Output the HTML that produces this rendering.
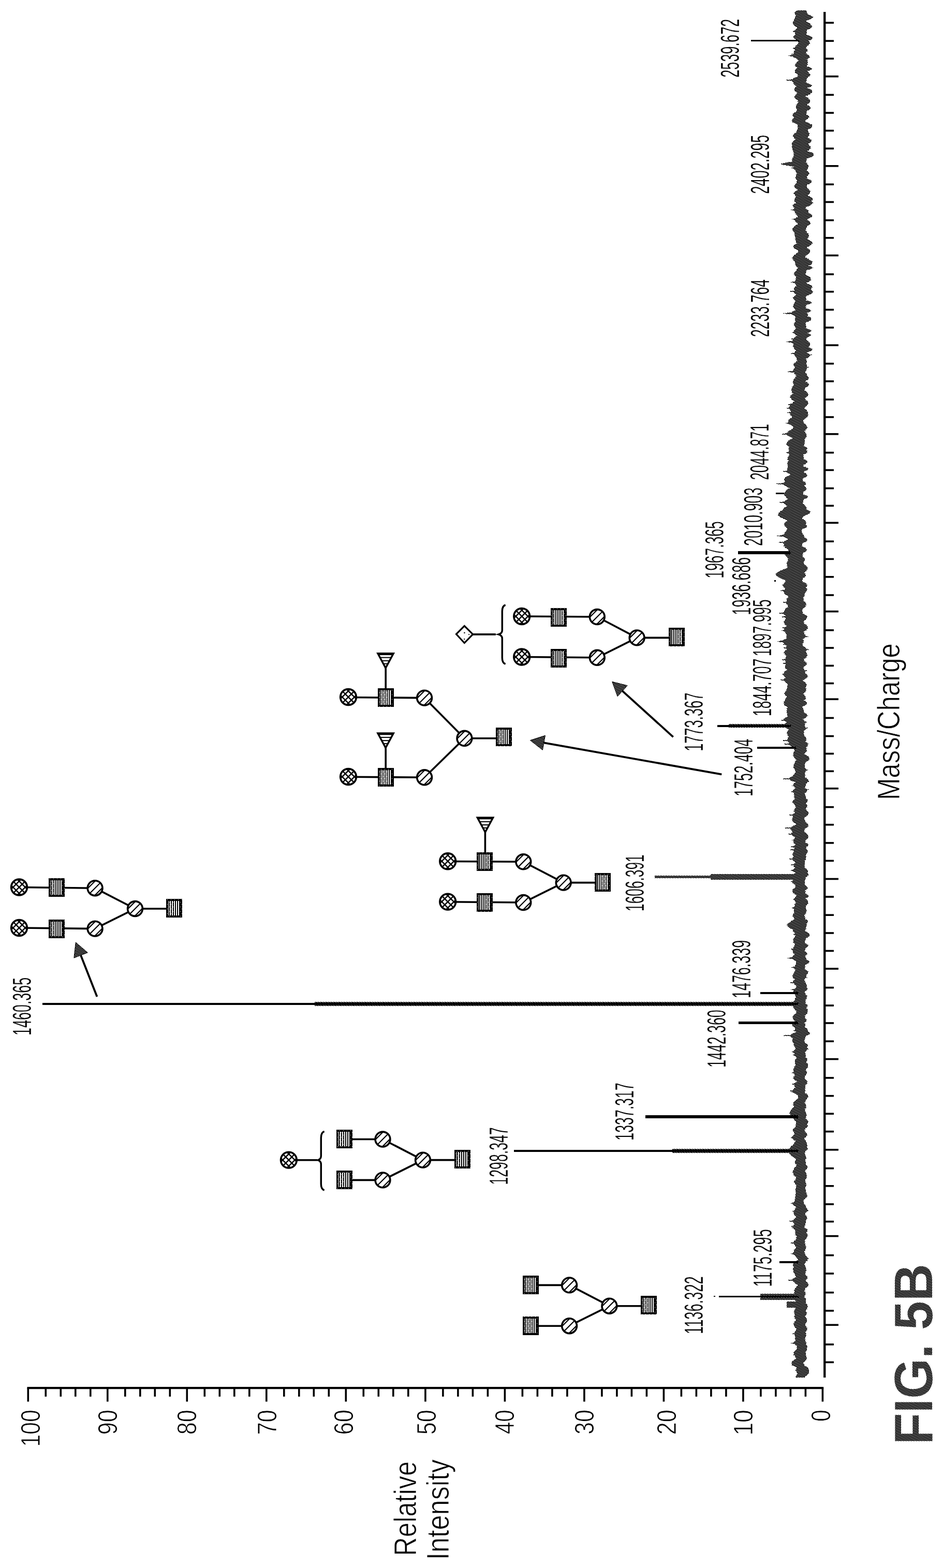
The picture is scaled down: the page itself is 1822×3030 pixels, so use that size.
<!DOCTYPE html>
<html lang="en"><head><meta charset="utf-8"><title>FIG. 5B</title>
<style>
html,body{margin:0;padding:0;background:#fff;}
body{width:1822px;height:3030px;overflow:hidden;}
svg{display:block;}
text{font-family:"Liberation Sans",sans-serif;}
</style></head><body>
<svg width="1822" height="3030" viewBox="0 0 1822 3030">
<defs>
<pattern id="dots" width="5" height="5" patternUnits="userSpaceOnUse">
<rect width="5" height="5" fill="#000"/><rect x="0" y="0" width="1" height="1" fill="#fff"/><rect x="2" y="1" width="1" height="1" fill="#fff"/><rect x="4" y="2" width="1" height="1" fill="#fff"/><rect x="1" y="3" width="1" height="1" fill="#fff"/><rect x="3" y="4" width="1" height="1" fill="#fff"/>
</pattern>
<pattern id="dots2" width="5" height="5" patternUnits="userSpaceOnUse">
<rect width="5" height="5" fill="#000"/><rect x="0" y="0" width="1" height="1" fill="#fff"/><rect x="2" y="1" width="1" height="1" fill="#fff"/><rect x="4" y="2" width="1" height="1" fill="#fff"/><rect x="1" y="3" width="1" height="1" fill="#fff"/><rect x="3" y="4" width="1" height="1" fill="#fff"/>
</pattern>
<pattern id="wdots" width="5" height="5" patternUnits="userSpaceOnUse"><rect x="0" y="0" width="1" height="1" fill="#fff"/><rect x="2" y="1" width="1" height="1" fill="#fff"/><rect x="4" y="2" width="1" height="1" fill="#fff"/><rect x="1" y="3" width="1" height="1" fill="#fff"/><rect x="3" y="4" width="1" height="1" fill="#fff"/></pattern>
<pattern id="wdots2" width="7" height="9" patternUnits="userSpaceOnUse"><rect x="1" y="1" width="1" height="1" fill="#fff"/><rect x="5" y="6" width="1" height="1" fill="#fff"/></pattern>
<clipPath id="cc"><circle cx="0" cy="0" r="15"/></clipPath>
</defs>
<rect width="1822" height="3030" fill="#fff"/>

<g id="mz-axis" fill="#000">
<rect x="1591.1" y="23" width="4.3" height="2639"/>
<rect x="1593.2" y="42.2" width="17.8" height="3.6"/>
<rect x="1593.2" y="77.3" width="17.8" height="3.6"/>
<rect x="1593.2" y="111.5" width="17.8" height="3.6"/>
<rect x="1593.2" y="145.9" width="26.8" height="3.6"/>
<rect x="1593.2" y="181.5" width="17.8" height="3.6"/>
<rect x="1593.2" y="216.3" width="17.8" height="3.6"/>
<rect x="1593.2" y="250.7" width="17.8" height="3.6"/>
<rect x="1593.2" y="285.2" width="17.8" height="3.6"/>
<rect x="1593.2" y="319.0" width="26.8" height="3.6"/>
<rect x="1593.2" y="354.5" width="17.8" height="3.6"/>
<rect x="1593.2" y="388.6" width="17.8" height="3.6"/>
<rect x="1593.2" y="423.8" width="17.8" height="3.6"/>
<rect x="1593.2" y="457.9" width="17.8" height="3.6"/>
<rect x="1593.2" y="491.8" width="26.8" height="3.6"/>
<rect x="1593.2" y="528.2" width="17.8" height="3.6"/>
<rect x="1593.2" y="561.9" width="17.8" height="3.6"/>
<rect x="1593.2" y="596.7" width="17.8" height="3.6"/>
<rect x="1593.2" y="631.2" width="17.8" height="3.6"/>
<rect x="1593.2" y="665.3" width="26.8" height="3.6"/>
<rect x="1593.2" y="700.9" width="17.8" height="3.6"/>
<rect x="1593.2" y="735.0" width="17.8" height="3.6"/>
<rect x="1593.2" y="770.2" width="17.8" height="3.6"/>
<rect x="1593.2" y="804.2" width="17.8" height="3.6"/>
<rect x="1593.2" y="837.0" width="26.8" height="3.6"/>
<rect x="1593.2" y="872.9" width="17.8" height="3.6"/>
<rect x="1593.2" y="906.6" width="17.8" height="3.6"/>
<rect x="1593.2" y="941.8" width="17.8" height="3.6"/>
<rect x="1593.2" y="975.5" width="17.8" height="3.6"/>
<rect x="1593.2" y="1008.5" width="26.8" height="3.6"/>
<rect x="1593.2" y="1044.4" width="17.8" height="3.6"/>
<rect x="1593.2" y="1078.5" width="17.8" height="3.6"/>
<rect x="1593.2" y="1113.0" width="17.8" height="3.6"/>
<rect x="1593.2" y="1148.2" width="17.8" height="3.6"/>
<rect x="1593.2" y="1179.8" width="26.8" height="3.6"/>
<rect x="1593.2" y="1216.0" width="17.8" height="3.6"/>
<rect x="1593.2" y="1250.2" width="17.8" height="3.6"/>
<rect x="1593.2" y="1284.6" width="17.8" height="3.6"/>
<rect x="1593.2" y="1318.7" width="17.8" height="3.6"/>
<rect x="1593.2" y="1349.3" width="26.8" height="3.6"/>
<rect x="1593.2" y="1385.6" width="17.8" height="3.6"/>
<rect x="1593.2" y="1420.7" width="17.8" height="3.6"/>
<rect x="1593.2" y="1454.6" width="17.8" height="3.6"/>
<rect x="1593.2" y="1488.5" width="17.8" height="3.6"/>
<rect x="1593.2" y="1521.9" width="26.8" height="3.6"/>
<rect x="1593.2" y="1557.8" width="17.8" height="3.6"/>
<rect x="1593.2" y="1591.9" width="17.8" height="3.6"/>
<rect x="1593.2" y="1627.1" width="17.8" height="3.6"/>
<rect x="1593.2" y="1661.6" width="17.8" height="3.6"/>
<rect x="1593.2" y="1696.7" width="26.8" height="3.6"/>
<rect x="1593.2" y="1731.2" width="17.8" height="3.6"/>
<rect x="1593.2" y="1766.4" width="17.8" height="3.6"/>
<rect x="1593.2" y="1801.2" width="17.8" height="3.6"/>
<rect x="1593.2" y="1835.7" width="17.8" height="3.6"/>
<rect x="1593.2" y="1870.2" width="26.8" height="3.6"/>
<rect x="1593.2" y="1906.7" width="17.8" height="3.6"/>
<rect x="1593.2" y="1941.2" width="17.8" height="3.6"/>
<rect x="1593.2" y="1975.2" width="17.8" height="3.6"/>
<rect x="1593.2" y="2010.4" width="17.8" height="3.6"/>
<rect x="1593.2" y="2044.8" width="26.8" height="3.6"/>
<rect x="1593.2" y="2081.1" width="17.8" height="3.6"/>
<rect x="1593.2" y="2115.9" width="17.8" height="3.6"/>
<rect x="1593.2" y="2150.4" width="17.8" height="3.6"/>
<rect x="1593.2" y="2184.8" width="17.8" height="3.6"/>
<rect x="1593.2" y="2220.0" width="26.8" height="3.6"/>
<rect x="1593.2" y="2255.9" width="17.8" height="3.6"/>
<rect x="1593.2" y="2290.0" width="17.8" height="3.6"/>
<rect x="1593.2" y="2325.2" width="17.8" height="3.6"/>
<rect x="1593.2" y="2358.8" width="17.8" height="3.6"/>
<rect x="1593.2" y="2386.8" width="26.8" height="3.6"/>
<rect x="1593.2" y="2423.9" width="17.8" height="3.6"/>
<rect x="1593.2" y="2459.2" width="17.8" height="3.6"/>
<rect x="1593.2" y="2495.9" width="17.8" height="3.6"/>
<rect x="1593.2" y="2531.1" width="17.8" height="3.6"/>
<rect x="1593.2" y="2558.5" width="26.8" height="3.6"/>
<rect x="1593.2" y="2596.2" width="17.8" height="3.6"/>
<rect x="1593.2" y="2630.6" width="17.8" height="3.6"/>
</g>
<g id="int-axis" fill="#000">
<rect x="52.5" y="2680" width="1538.7" height="4.2"/>
<rect x="52.5" y="2682" width="3.6" height="26.5"/>
<rect x="86.5" y="2682" width="3.6" height="16.8"/>
<rect x="115.5" y="2682" width="3.6" height="16.8"/>
<rect x="144.0" y="2682" width="3.6" height="16.8"/>
<rect x="173.0" y="2682" width="3.6" height="16.8"/>
<rect x="206.0" y="2682" width="3.6" height="26.5"/>
<rect x="240.0" y="2682" width="3.6" height="16.8"/>
<rect x="269.0" y="2682" width="3.6" height="16.8"/>
<rect x="297.5" y="2682" width="3.6" height="16.8"/>
<rect x="326.5" y="2682" width="3.6" height="16.8"/>
<rect x="359.5" y="2682" width="3.6" height="26.5"/>
<rect x="393.5" y="2682" width="3.6" height="16.8"/>
<rect x="422.5" y="2682" width="3.6" height="16.8"/>
<rect x="451.0" y="2682" width="3.6" height="16.8"/>
<rect x="480.0" y="2682" width="3.6" height="16.8"/>
<rect x="513.0" y="2682" width="3.6" height="26.5"/>
<rect x="547.0" y="2682" width="3.6" height="16.8"/>
<rect x="576.0" y="2682" width="3.6" height="16.8"/>
<rect x="604.5" y="2682" width="3.6" height="16.8"/>
<rect x="633.5" y="2682" width="3.6" height="16.8"/>
<rect x="666.5" y="2682" width="3.6" height="26.5"/>
<rect x="700.5" y="2682" width="3.6" height="16.8"/>
<rect x="729.5" y="2682" width="3.6" height="16.8"/>
<rect x="758.0" y="2682" width="3.6" height="16.8"/>
<rect x="787.0" y="2682" width="3.6" height="16.8"/>
<rect x="820.1" y="2682" width="3.6" height="26.5"/>
<rect x="854.1" y="2682" width="3.6" height="16.8"/>
<rect x="883.1" y="2682" width="3.6" height="16.8"/>
<rect x="911.6" y="2682" width="3.6" height="16.8"/>
<rect x="940.6" y="2682" width="3.6" height="16.8"/>
<rect x="973.6" y="2682" width="3.6" height="26.5"/>
<rect x="1007.6" y="2682" width="3.6" height="16.8"/>
<rect x="1036.6" y="2682" width="3.6" height="16.8"/>
<rect x="1065.1" y="2682" width="3.6" height="16.8"/>
<rect x="1094.1" y="2682" width="3.6" height="16.8"/>
<rect x="1127.1" y="2682" width="3.6" height="26.5"/>
<rect x="1161.1" y="2682" width="3.6" height="16.8"/>
<rect x="1190.1" y="2682" width="3.6" height="16.8"/>
<rect x="1218.6" y="2682" width="3.6" height="16.8"/>
<rect x="1247.6" y="2682" width="3.6" height="16.8"/>
<rect x="1280.6" y="2682" width="3.6" height="26.5"/>
<rect x="1314.6" y="2682" width="3.6" height="16.8"/>
<rect x="1343.6" y="2682" width="3.6" height="16.8"/>
<rect x="1372.1" y="2682" width="3.6" height="16.8"/>
<rect x="1401.1" y="2682" width="3.6" height="16.8"/>
<rect x="1434.1" y="2682" width="3.6" height="26.5"/>
<rect x="1468.1" y="2682" width="3.6" height="16.8"/>
<rect x="1497.1" y="2682" width="3.6" height="16.8"/>
<rect x="1525.6" y="2682" width="3.6" height="16.8"/>
<rect x="1554.6" y="2682" width="3.6" height="16.8"/>
<rect x="1587.6" y="2682" width="3.6" height="26.5"/>
</g>
<g id="int-labels">
<text transform="translate(77.40,2795.87) rotate(-90) scale(0.8347,1)" font-size="51.5" fill="#000" stroke="#fff" stroke-width="0.9">100</text>
<text transform="translate(226.20,2772.40) rotate(-90) scale(0.8424,1)" font-size="51.5" fill="#000" stroke="#fff" stroke-width="0.9">90</text>
<text transform="translate(379.45,2772.26) rotate(-90) scale(0.8400,1)" font-size="51.5" fill="#000" stroke="#fff" stroke-width="0.9">80</text>
<text transform="translate(533.95,2772.62) rotate(-90) scale(0.8465,1)" font-size="51.5" fill="#000" stroke="#fff" stroke-width="0.9">70</text>
<text transform="translate(681.95,2772.58) rotate(-90) scale(0.8457,1)" font-size="51.5" fill="#000" stroke="#fff" stroke-width="0.9">60</text>
<text transform="translate(842.10,2772.13) rotate(-90) scale(0.8375,1)" font-size="51.5" fill="#000" stroke="#fff" stroke-width="0.9">50</text>
<text transform="translate(993.40,2771.33) rotate(-90) scale(0.8232,1)" font-size="51.5" fill="#000" stroke="#fff" stroke-width="0.9">40</text>
<text transform="translate(1147.10,2772.04) rotate(-90) scale(0.8359,1)" font-size="51.5" fill="#000" stroke="#fff" stroke-width="0.9">30</text>
<text transform="translate(1306.40,2772.58) rotate(-90) scale(0.8457,1)" font-size="51.5" fill="#000" stroke="#fff" stroke-width="0.9">20</text>
<text transform="translate(1454.10,2773.80) rotate(-90) scale(0.8678,1)" font-size="51.5" fill="#000" stroke="#fff" stroke-width="0.9">10</text>
<text transform="translate(1604.20,2747.00) rotate(-90) scale(0.7945,1)" font-size="51.5" fill="#000" stroke="#fff" stroke-width="0.9">0</text>
</g>
<path id="noise" d="M1540.7,20 1540.6,20.5 1539.3,21 1538.4,21.5 1537.3,22 1536.6,22.5 1536.6,23 1536.9,23.5 1536.6,24 1534.9,24.5 1535.1,25 1535.5,25.5 1536.2,26 1536.2,26.5 1536.9,27 1536.2,27.5 1538.0,28 1537.4,28.5 1538.1,29 1538.3,29.5 1537.9,30 1537.0,30.5 1537.5,31 1536.9,31.5 1536.2,32 1536.4,32.5 1536.1,33 1536.3,33.5 1535.6,34 1535.8,34.5 1535.7,35 1534.7,35.5 1534.4,36 1534.9,36.5 1534.3,37 1533.6,37.5 1533.4,38 1534.3,38.5 1533.7,39 1533.2,39.5 1532.9,40 1533.9,40.5 1533.3,41 1533.3,41.5 1532.6,42 1532.2,42.5 1532.1,43 1531.5,43.5 1532.1,44 1531.9,44.5 1532.5,45 1532.1,45.5 1532.3,46 1532.6,46.5 1533.6,47 1533.1,47.5 1534.0,48 1533.8,48.5 1534.8,49 1534.9,49.5 1536.4,50 1536.3,50.5 1537.8,51 1538.2,51.5 1539.3,52 1540.0,52.5 1539.3,53 1539.9,53.5 1539.8,54 1539.7,54.5 1539.2,55 1539.2,55.5 1538.4,56 1538.2,56.5 1538.5,57 1537.2,57.5 1537.5,58 1537.2,58.5 1535.0,59 1532.9,59.5 1531.0,60 1531.5,60.5 1531.4,61 1533.2,61.5 1535.5,62 1536.2,62.5 1536.3,63 1536.1,63.5 1536.1,64 1535.7,64.5 1537.1,65 1536.2,65.5 1536.9,66 1537.2,66.5 1537.3,67 1536.3,67.5 1535.2,68 1535.3,68.5 1534.9,69 1533.1,69.5 1533.6,70 1533.1,70.5 1532.8,71 1532.8,71.5 1532.6,72 1533.2,72.5 1533.4,73 1534.4,73.5 1534.8,74 1535.4,74.5 1535.2,75 1536.5,75.5 1536.9,76 1537.8,76.5 1539.2,77 1538.9,77.5 1540.7,78 1542.5,78.5 1542.9,79 1542.3,79.5 1543.4,80 1542.3,80.5 1542.4,81 1542.1,81.5 1542.4,82 1542.8,82.5 1541.7,83 1541.7,83.5 1542.3,84 1542.1,84.5 1541.9,85 1540.4,85.5 1540.6,86 1539.9,86.5 1539.5,87 1538.1,87.5 1538.1,88 1537.1,88.5 1537.9,89 1537.6,89.5 1537.2,90 1535.7,90.5 1535.9,91 1536.0,91.5 1535.4,92 1533.1,92.5 1532.8,93 1531.7,93.5 1532.6,94 1533.3,94.5 1535.8,95 1535.6,95.5 1535.7,96 1536.4,96.5 1535.5,97 1535.7,97.5 1534.5,98 1534.4,98.5 1533.5,99 1533.5,99.5 1533.5,100 1533.5,100.5 1533.1,101 1533.5,101.5 1532.4,102 1533.4,102.5 1532.3,103 1533.5,103.5 1529.5,104 1527.5,104.5 1528.9,105 1532.4,105.5 1532.2,106 1527.4,106.5 1523.8,107 1522.5,107.5 1524.3,108 1526.8,108.5 1531.6,109 1532.2,109.5 1533.4,110 1533.3,110.5 1534.2,111 1535.3,111.5 1537.0,112 1537.5,112.5 1538.7,113 1538.6,113.5 1540.1,114 1540.7,114.5 1541.3,115 1541.2,115.5 1542.5,116 1541.8,116.5 1542.1,117 1542.5,117.5 1542.9,118 1541.8,118.5 1540.6,119 1540.0,119.5 1540.1,120 1538.9,120.5 1538.4,121 1538.6,121.5 1537.6,122 1537.5,122.5 1537.3,123 1537.1,123.5 1536.7,124 1536.7,124.5 1536.7,125 1536.1,125.5 1537.3,126 1536.3,126.5 1537.1,127 1537.3,127.5 1537.2,128 1537.3,128.5 1537.4,129 1538.2,129.5 1538.6,130 1539.8,130.5 1539.5,131 1540.1,131.5 1539.5,132 1538.4,132.5 1538.1,133 1538.3,133.5 1536.4,134 1536.8,134.5 1537.0,135 1535.9,135.5 1536.0,136 1535.5,136.5 1535.3,137 1535.7,137.5 1535.7,138 1535.5,138.5 1535.9,139 1536.3,139.5 1536.9,140 1536.3,140.5 1536.8,141 1537.5,141.5 1538.1,142 1539.4,142.5 1539.7,143 1541.0,143.5 1540.5,144 1540.5,144.5 1541.1,145 1540.4,145.5 1541.8,146 1541.6,146.5 1541.0,147 1541.0,147.5 1541.2,148 1539.9,148.5 1538.5,149 1536.6,149.5 1536.5,150 1534.4,150.5 1534.2,151 1533.1,151.5 1532.8,152 1531.5,152.5 1529.9,153 1527.8,153.5 1521.8,154 1518.5,154.5 1517.2,155 1520.6,155.5 1524.9,156 1529.7,156.5 1530.6,157 1531.1,157.5 1530.6,158 1532.4,158.5 1532.6,159 1533.0,159.5 1532.5,160 1532.7,160.5 1532.9,161 1532.7,161.5 1533.3,162 1534.2,162.5 1533.7,163 1534.3,163.5 1535.8,164 1536.1,164.5 1536.6,165 1536.7,165.5 1537.4,166 1538.6,166.5 1538.9,167 1537.6,167.5 1537.6,168 1536.1,168.5 1535.9,169 1535.7,169.5 1535.8,170 1534.6,170.5 1535.4,171 1534.6,171.5 1533.9,172 1534.4,172.5 1534.5,173 1535.1,173.5 1535.7,174 1535.3,174.5 1535.9,175 1535.8,175.5 1536.8,176 1536.3,176.5 1537.7,177 1537.6,177.5 1539.0,178 1539.9,178.5 1539.9,179 1539.4,179.5 1539.5,180 1539.6,180.5 1539.3,181 1538.9,181.5 1538.5,182 1538.1,182.5 1536.8,183 1536.7,183.5 1536.1,184 1536.5,184.5 1535.3,185 1535.5,185.5 1534.7,186 1534.7,186.5 1535.3,187 1535.1,187.5 1534.9,188 1534.8,188.5 1536.2,189 1535.9,189.5 1536.8,190 1536.9,190.5 1537.7,191 1538.1,191.5 1539.4,192 1540.0,192.5 1540.4,193 1540.8,193.5 1540.6,194 1541.6,194.5 1540.9,195 1541.4,195.5 1542.4,196 1541.4,196.5 1542.5,197 1542.5,197.5 1542.1,198 1541.2,198.5 1540.6,199 1541.3,199.5 1540.7,200 1540.5,200.5 1539.2,201 1539.8,201.5 1538.7,202 1538.4,202.5 1538.6,203 1538.5,203.5 1537.6,204 1538.3,204.5 1537.9,205 1538.2,205.5 1538.2,206 1537.9,206.5 1537.4,207 1538.3,207.5 1538.1,208 1537.6,208.5 1538.5,209 1538.6,209.5 1538.2,210 1538.6,210.5 1538.7,211 1540.0,211.5 1539.6,212 1539.6,212.5 1539.5,213 1539.3,213.5 1539.8,214 1539.5,214.5 1539.5,215 1538.3,215.5 1537.3,216 1536.8,216.5 1535.0,217 1535.2,217.5 1534.6,218 1533.6,218.5 1533.0,219 1531.7,219.5 1530.3,220 1531.6,220.5 1532.1,221 1531.6,221.5 1530.8,222 1530.5,222.5 1531.9,223 1531.2,223.5 1532.1,224 1531.6,224.5 1532.2,225 1532.5,225.5 1533.5,226 1534.3,226.5 1534.4,227 1535.2,227.5 1534.0,228 1533.0,228.5 1533.3,229 1531.5,229.5 1532.1,230 1531.2,230.5 1529.9,231 1530.7,231.5 1529.3,232 1529.8,232.5 1529.0,233 1530.2,233.5 1529.5,234 1530.6,234.5 1529.8,235 1531.2,235.5 1530.9,236 1531.4,236.5 1532.9,237 1534.2,237.5 1534.6,238 1535.8,238.5 1536.7,239 1537.5,239.5 1538.1,240 1540.4,240.5 1541.1,241 1541.4,241.5 1541.2,242 1541.4,242.5 1541.0,243 1541.7,243.5 1541.3,244 1541.4,244.5 1540.8,245 1541.4,245.5 1541.5,246 1542.0,246.5 1541.3,247 1540.6,247.5 1540.7,248 1540.6,248.5 1541.0,249 1541.1,249.5 1540.9,250 1540.7,250.5 1540.4,251 1540.1,251.5 1540.0,252 1538.5,252.5 1538.9,253 1538.8,253.5 1538.8,254 1538.5,254.5 1538.3,255 1538.6,255.5 1537.0,256 1536.7,256.5 1536.6,257 1534.6,257.5 1534.1,258 1534.6,258.5 1534.2,259 1532.5,259.5 1532.1,260 1532.9,260.5 1532.5,261 1532.0,261.5 1531.9,262 1532.1,262.5 1532.2,263 1531.2,263.5 1531.5,264 1532.8,264.5 1533.3,265 1533.5,265.5 1533.3,266 1533.6,266.5 1534.0,267 1534.1,267.5 1535.6,268 1535.5,268.5 1536.5,269 1536.9,269.5 1536.0,270 1535.9,270.5 1535.0,271 1534.2,271.5 1534.6,272 1533.2,272.5 1532.7,273 1532.4,273.5 1532.3,274 1532.3,274.5 1531.3,275 1530.9,275.5 1531.1,276 1530.3,276.5 1530.4,277 1529.9,277.5 1530.7,278 1529.8,278.5 1529.9,279 1530.1,279.5 1530.3,280 1531.0,280.5 1531.2,281 1531.2,281.5 1530.7,282 1529.9,282.5 1530.7,283 1529.9,283.5 1529.8,284 1530.1,284.5 1530.9,285 1530.0,285.5 1530.1,286 1530.9,286.5 1531.2,287 1530.5,287.5 1530.3,288 1531.4,288.5 1531.5,289 1531.1,289.5 1531.9,290 1531.6,290.5 1531.7,291 1532.3,291.5 1532.7,292 1532.6,292.5 1533.2,293 1532.3,293.5 1533.1,294 1533.1,294.5 1532.8,295 1534.1,295.5 1533.1,296 1533.3,296.5 1534.2,297 1534.3,297.5 1534.3,298 1533.4,298.5 1534.2,299 1533.0,299.5 1533.7,300 1533.9,300.5 1532.7,301 1532.5,301.5 1533.1,302 1533.2,302.5 1532.8,303 1532.9,303.5 1532.1,304 1531.7,304.5 1531.2,305 1531.2,305.5 1532.0,306 1530.6,306.5 1530.6,307 1530.6,307.5 1530.1,308 1530.3,308.5 1530.0,309 1529.8,309.5 1530.3,310 1530.3,310.5 1530.3,311 1530.6,311.5 1530.3,312 1530.1,312.5 1525.6,313 1522.5,313.5 1519.3,314 1516.8,314.5 1514.9,315 1512.9,315.5 1510.5,316 1508.7,316.5 1508.4,317 1509.4,317.5 1510.5,318 1513.1,318.5 1515.6,319 1517.6,319.5 1520.6,320 1524.1,320.5 1526.8,321 1529.8,321.5 1534.2,322 1534.4,322.5 1533.0,323 1532.0,323.5 1529.4,324 1528.2,324.5 1529.7,325 1532.3,325.5 1534.9,326 1534.4,326.5 1534.4,327 1535.0,327.5 1536.1,328 1536.0,328.5 1536.6,329 1536.7,329.5 1536.6,330 1536.6,330.5 1537.3,331 1537.1,331.5 1537.6,332 1538.4,332.5 1538.2,333 1538.6,333.5 1539.1,334 1538.9,334.5 1539.2,335 1540.1,335.5 1539.9,336 1539.1,336.5 1538.9,337 1538.4,337.5 1537.9,338 1538.4,338.5 1537.2,339 1537.9,339.5 1537.6,340 1537.5,340.5 1536.4,341 1536.7,341.5 1537.4,342 1536.5,342.5 1536.4,343 1537.3,343.5 1536.7,344 1537.4,344.5 1537.0,345 1538.4,345.5 1537.7,346 1537.8,346.5 1539.0,347 1539.0,347.5 1540.2,348 1540.0,348.5 1540.6,349 1539.9,349.5 1539.7,350 1539.1,350.5 1539.8,351 1539.4,351.5 1539.8,352 1539.9,352.5 1539.6,353 1539.1,353.5 1538.5,354 1537.6,354.5 1537.2,355 1537.1,355.5 1535.7,356 1535.6,356.5 1534.7,357 1535.5,357.5 1534.4,358 1535.1,358.5 1534.9,359 1534.1,359.5 1535.1,360 1534.7,360.5 1534.8,361 1535.2,361.5 1536.1,362 1535.8,362.5 1536.2,363 1536.3,363.5 1537.6,364 1537.7,364.5 1538.1,365 1538.7,365.5 1539.9,366 1540.8,366.5 1540.7,367 1540.9,367.5 1539.9,368 1538.5,368.5 1537.9,369 1537.0,369.5 1536.6,370 1536.1,370.5 1534.7,371 1535.2,371.5 1534.2,372 1533.8,372.5 1534.5,373 1533.2,373.5 1533.9,374 1533.8,374.5 1534.7,375 1534.7,375.5 1535.5,376 1536.0,376.5 1536.1,377 1535.9,377.5 1537.4,378 1537.4,378.5 1539.7,379 1538.8,379.5 1537.4,380 1536.7,380.5 1537.0,381 1536.7,381.5 1536.7,382 1535.9,382.5 1534.9,383 1535.6,383.5 1534.4,384 1535.4,384.5 1535.2,385 1535.1,385.5 1535.2,386 1534.9,386.5 1535.5,387 1535.3,387.5 1535.3,388 1535.3,388.5 1535.5,389 1535.3,389.5 1535.8,390 1537.0,390.5 1536.6,391 1537.6,391.5 1538.2,392 1538.3,392.5 1536.8,393 1535.3,393.5 1534.3,394 1533.3,394.5 1533.2,395 1532.5,395.5 1532.3,396 1531.0,396.5 1531.5,397 1531.5,397.5 1530.2,398 1531.9,398.5 1531.8,399 1532.7,399.5 1533.0,400 1533.1,400.5 1533.9,401 1535.1,401.5 1534.8,402 1534.0,402.5 1535.0,403 1534.4,403.5 1534.1,404 1531.6,404.5 1529.2,405 1528.3,405.5 1529.8,406 1531.2,406.5 1534.0,407 1533.7,407.5 1533.9,408 1534.5,408.5 1535.0,409 1535.8,409.5 1535.6,410 1535.6,410.5 1535.8,411 1535.9,411.5 1536.5,412 1537.5,412.5 1536.6,413 1537.4,413.5 1538.0,414 1538.5,414.5 1538.5,415 1539.0,415.5 1539.9,416 1540.3,416.5 1539.9,417 1540.9,417.5 1541.5,418 1540.9,418.5 1540.4,419 1540.6,419.5 1538.6,420 1538.0,420.5 1537.9,421 1537.0,421.5 1537.2,422 1533.8,422.5 1530.5,423 1529.7,423.5 1530.4,424 1532.8,424.5 1535.3,425 1535.2,425.5 1534.8,426 1535.5,426.5 1536.4,427 1536.7,427.5 1535.8,428 1536.3,428.5 1537.0,429 1538.1,429.5 1538.3,430 1538.5,430.5 1539.7,431 1540.9,431.5 1541.9,432 1541.4,432.5 1541.8,433 1540.6,433.5 1539.5,434 1538.0,434.5 1538.2,435 1536.7,435.5 1536.0,436 1536.0,436.5 1534.8,437 1534.4,437.5 1534.3,438 1533.9,438.5 1532.9,439 1533.7,439.5 1533.1,440 1532.2,440.5 1532.0,441 1531.3,441.5 1532.1,442 1530.7,442.5 1530.9,443 1530.8,443.5 1531.7,444 1531.3,444.5 1531.3,445 1531.5,445.5 1532.4,446 1531.8,446.5 1532.9,447 1533.2,447.5 1533.3,448 1533.8,448.5 1534.6,449 1535.4,449.5 1535.9,450 1536.1,450.5 1535.6,451 1535.3,451.5 1535.8,452 1535.3,452.5 1535.3,453 1535.8,453.5 1535.2,454 1535.2,454.5 1536.0,455 1536.1,455.5 1535.9,456 1535.5,456.5 1536.0,457 1536.2,457.5 1535.6,458 1536.3,458.5 1536.8,459 1536.5,459.5 1536.6,460 1536.5,460.5 1536.9,461 1536.4,461.5 1537.3,462 1537.1,462.5 1537.8,463 1537.1,463.5 1537.7,464 1536.8,464.5 1537.4,465 1538.0,465.5 1537.4,466 1538.0,466.5 1537.6,467 1538.0,467.5 1539.0,468 1538.1,468.5 1539.4,469 1538.6,469.5 1539.7,470 1539.9,470.5 1539.2,471 1537.1,471.5 1536.3,472 1535.6,472.5 1535.0,473 1534.4,473.5 1533.6,474 1532.7,474.5 1533.0,475 1532.6,475.5 1532.4,476 1532.9,476.5 1531.7,477 1532.8,477.5 1532.5,478 1533.5,478.5 1534.3,479 1533.9,479.5 1534.9,480 1535.6,480.5 1536.2,481 1536.6,481.5 1538.1,482 1539.5,482.5 1540.4,483 1541.3,483.5 1542.1,484 1541.6,484.5 1541.2,485 1541.8,485.5 1541.6,486 1541.6,486.5 1542.2,487 1541.5,487.5 1541.9,488 1539.9,488.5 1539.6,489 1538.0,489.5 1537.6,490 1537.5,490.5 1536.9,491 1536.5,491.5 1535.3,492 1534.6,492.5 1534.2,493 1533.9,493.5 1532.7,494 1532.8,494.5 1532.8,495 1531.7,495.5 1531.6,496 1532.1,496.5 1531.9,497 1530.8,497.5 1530.6,498 1530.4,498.5 1530.4,499 1531.5,499.5 1531.6,500 1531.1,500.5 1531.7,501 1532.3,501.5 1531.7,502 1533.3,502.5 1533.8,503 1533.3,503.5 1534.6,504 1535.1,504.5 1535.2,505 1536.2,505.5 1535.3,506 1535.6,506.5 1535.4,507 1535.6,507.5 1536.2,508 1535.9,508.5 1536.1,509 1536.7,509.5 1535.8,510 1536.1,510.5 1536.9,511 1536.5,511.5 1537.9,512 1537.3,512.5 1537.7,513 1537.9,513.5 1538.8,514 1539.2,514.5 1539.2,515 1538.8,515.5 1539.4,516 1540.3,516.5 1540.2,517 1542.1,517.5 1541.9,518 1540.7,518.5 1540.6,519 1540.2,519.5 1540.6,520 1539.4,520.5 1540.1,521 1538.9,521.5 1539.8,522 1539.1,522.5 1539.0,523 1538.0,523.5 1536.9,524 1536.7,524.5 1537.0,525 1536.0,525.5 1535.9,526 1534.5,526.5 1534.2,527 1533.9,527.5 1534.7,528 1533.9,528.5 1534.0,529 1534.6,529.5 1534.7,530 1534.4,530.5 1534.9,531 1535.0,531.5 1535.7,532 1535.8,532.5 1536.2,533 1536.5,533.5 1537.1,534 1537.7,534.5 1538.0,535 1538.2,535.5 1538.3,536 1537.7,536.5 1537.3,537 1538.1,537.5 1537.4,538 1537.3,538.5 1536.9,539 1537.5,539.5 1537.2,540 1536.9,540.5 1536.8,541 1536.7,541.5 1536.3,542 1536.0,542.5 1535.9,543 1536.0,543.5 1535.1,544 1530.7,544.5 1528.2,545 1528.1,545.5 1530.2,546 1533.0,546.5 1535.3,547 1535.8,547.5 1535.6,548 1536.8,548.5 1536.7,549 1536.5,549.5 1536.6,550 1537.8,550.5 1538.0,551 1538.1,551.5 1538.4,552 1538.5,552.5 1537.3,553 1536.6,553.5 1536.3,554 1536.3,554.5 1536.1,555 1535.7,555.5 1535.3,556 1533.9,556.5 1534.0,557 1534.8,557.5 1534.0,558 1533.9,558.5 1533.6,559 1534.4,559.5 1534.1,560 1535.0,560.5 1533.9,561 1535.3,561.5 1529.1,562 1526.5,562.5 1525.6,563 1526.9,563.5 1528.8,564 1534.0,564.5 1534.7,565 1534.3,565.5 1535.1,566 1535.3,566.5 1535.7,567 1535.6,567.5 1536.6,568 1537.8,568.5 1538.1,569 1538.2,569.5 1538.1,570 1537.1,570.5 1536.0,571 1535.6,571.5 1535.0,572 1533.6,572.5 1533.4,573 1533.6,573.5 1532.6,574 1532.1,574.5 1532.9,575 1532.2,575.5 1533.0,576 1532.6,576.5 1532.2,577 1533.2,577.5 1533.0,578 1534.1,578.5 1534.5,579 1535.0,579.5 1534.6,580 1535.2,580.5 1537.0,581 1537.0,581.5 1536.7,582 1536.0,582.5 1535.7,583 1535.8,583.5 1536.1,584 1534.8,584.5 1534.4,585 1534.9,585.5 1533.7,586 1534.0,586.5 1533.7,587 1533.9,587.5 1532.5,588 1533.0,588.5 1532.5,589 1533.0,589.5 1532.1,590 1532.6,590.5 1531.8,591 1532.3,591.5 1533.1,592 1532.2,592.5 1532.4,593 1533.4,593.5 1533.3,594 1532.7,594.5 1533.2,595 1533.6,595.5 1534.0,596 1535.2,596.5 1535.4,597 1536.3,597.5 1536.4,598 1536.9,598.5 1537.2,599 1537.2,599.5 1535.6,600 1533.8,600.5 1533.2,601 1532.0,601.5 1531.3,602 1529.7,602.5 1528.9,603 1529.5,603.5 1528.1,604 1520.8,604.5 1515.2,605 1513.2,605.5 1515.1,606 1518.5,606.5 1527.1,607 1529.4,607.5 1530.6,608 1531.2,608.5 1531.8,609 1532.8,609.5 1534.7,610 1535.0,610.5 1537.4,611 1536.4,611.5 1536.5,612 1536.8,612.5 1537.2,613 1536.8,613.5 1536.9,614 1536.9,614.5 1536.7,615 1535.7,615.5 1536.8,616 1535.8,616.5 1535.8,617 1535.6,617.5 1535.6,618 1536.9,618.5 1536.2,619 1535.9,619.5 1536.0,620 1537.3,620.5 1537.2,621 1537.9,621.5 1536.4,622 1536.0,622.5 1535.8,623 1535.3,623.5 1534.8,624 1534.7,624.5 1535.1,625 1534.2,625.5 1534.0,626 1534.4,626.5 1534.1,627 1533.8,627.5 1534.4,628 1534.4,628.5 1534.4,629 1534.7,629.5 1534.3,630 1535.4,630.5 1535.1,631 1535.6,631.5 1535.5,632 1537.1,632.5 1537.1,633 1537.3,633.5 1538.1,634 1539.3,634.5 1537.6,635 1537.1,635.5 1536.9,636 1535.9,636.5 1535.8,637 1535.7,637.5 1534.1,638 1534.1,638.5 1533.8,639 1534.2,639.5 1534.0,640 1533.7,640.5 1533.9,641 1532.8,641.5 1531.9,642 1530.6,642.5 1531.1,643 1532.9,643.5 1534.8,644 1534.8,644.5 1535.3,645 1535.0,645.5 1535.8,646 1536.8,646.5 1537.3,647 1537.4,647.5 1538.6,648 1539.7,648.5 1539.7,649 1538.6,649.5 1538.3,650 1536.5,650.5 1536.3,651 1536.0,651.5 1534.9,652 1535.4,652.5 1534.0,653 1534.4,653.5 1531.3,654 1529.1,654.5 1528.4,655 1528.5,655.5 1530.8,656 1533.4,656.5 1533.0,657 1531.2,657.5 1530.7,658 1530.5,658.5 1528.2,659 1523.6,659.5 1519.7,660 1519.3,660.5 1520.8,661 1524.1,661.5 1529.1,662 1529.6,662.5 1530.7,663 1531.3,663.5 1533.1,664 1533.0,664.5 1532.0,665 1532.7,665.5 1531.9,666 1532.1,666.5 1532.4,667 1532.5,667.5 1532.6,668 1531.9,668.5 1531.9,669 1532.2,669.5 1532.3,670 1533.1,670.5 1533.0,671 1533.7,671.5 1533.3,672 1534.5,672.5 1535.1,673 1534.4,673.5 1535.4,674 1535.2,674.5 1535.4,675 1536.4,675.5 1536.5,676 1537.8,676.5 1537.7,677 1537.5,677.5 1537.7,678 1536.1,678.5 1535.9,679 1535.6,679.5 1535.9,680 1536.2,680.5 1535.8,681 1535.4,681.5 1533.7,682 1529.4,682.5 1526.9,683 1527.7,683.5 1528.8,684 1532.7,684.5 1534.3,685 1534.5,685.5 1534.5,686 1535.3,686.5 1534.9,687 1535.7,687.5 1536.3,688 1535.9,688.5 1535.9,689 1537.1,689.5 1537.6,690 1538.3,690.5 1538.5,691 1539.2,691.5 1539.7,692 1539.5,692.5 1540.1,693 1539.3,693.5 1540.1,694 1540.0,694.5 1539.9,695 1539.4,695.5 1540.2,696 1540.0,696.5 1540.6,697 1540.5,697.5 1539.9,698 1538.2,698.5 1537.5,699 1537.5,699.5 1537.0,700 1536.8,700.5 1536.0,701 1534.8,701.5 1534.6,702 1534.2,702.5 1534.3,703 1533.4,703.5 1534.0,704 1533.3,704.5 1533.2,705 1533.4,705.5 1533.3,706 1534.3,706.5 1533.2,707 1534.0,707.5 1534.0,708 1535.4,708.5 1535.5,709 1536.1,709.5 1536.3,710 1536.3,710.5 1536.4,711 1535.4,711.5 1534.5,712 1534.1,712.5 1534.5,713 1533.2,713.5 1532.6,714 1533.6,714.5 1532.9,715 1532.3,715.5 1532.3,716 1533.3,716.5 1529.2,717 1525.0,717.5 1523.8,718 1522.3,718.5 1523.9,719 1526.6,719.5 1529.6,720 1534.7,720.5 1534.2,721 1534.3,721.5 1535.6,722 1535.0,722.5 1535.3,723 1536.6,723.5 1536.7,724 1537.7,724.5 1537.9,725 1537.4,725.5 1537.6,726 1538.8,726.5 1538.5,727 1537.8,727.5 1538.3,728 1536.9,728.5 1537.2,729 1536.0,729.5 1536.8,730 1536.5,730.5 1535.6,731 1534.8,731.5 1535.0,732 1534.9,732.5 1534.4,733 1533.0,733.5 1533.3,734 1532.5,734.5 1532.8,735 1533.1,735.5 1532.9,736 1531.9,736.5 1532.2,737 1531.8,737.5 1531.6,738 1532.4,738.5 1532.5,739 1532.0,739.5 1532.2,740 1532.7,740.5 1533.0,741 1532.8,741.5 1532.6,742 1532.9,742.5 1533.1,743 1533.6,743.5 1532.7,744 1532.6,744.5 1531.9,745 1531.6,745.5 1531.0,746 1531.9,746.5 1531.1,747 1530.2,747.5 1530.8,748 1530.5,748.5 1529.6,749 1529.5,749.5 1529.9,750 1530.2,750.5 1530.2,751 1529.4,751.5 1529.7,752 1529.3,752.5 1529.3,753 1529.2,753.5 1529.6,754 1529.3,754.5 1529.3,755 1530.1,755.5 1530.1,756 1530.0,756.5 1530.4,757 1530.0,757.5 1530.6,758 1530.3,758.5 1530.8,759 1531.0,759.5 1532.7,760 1533.2,760.5 1531.5,761 1530.5,761.5 1529.3,762 1528.7,762.5 1528.8,763 1528.7,763.5 1527.2,764 1527.1,764.5 1527.5,765 1526.6,765.5 1527.4,766 1526.5,766.5 1526.7,767 1526.3,767.5 1526.6,768 1527.0,768.5 1527.1,769 1528.1,769.5 1527.5,770 1528.8,770.5 1529.5,771 1529.4,771.5 1529.7,772 1530.2,772.5 1530.7,773 1532.3,773.5 1532.7,774 1532.6,774.5 1534.1,775 1535.2,775.5 1534.2,776 1533.1,776.5 1533.0,777 1532.3,777.5 1532.6,778 1531.1,778.5 1531.3,779 1530.7,779.5 1529.8,780 1527.2,780.5 1525.1,781 1522.3,781.5 1522.6,782 1523.1,782.5 1525.5,783 1525.9,783.5 1525.0,784 1525.8,784.5 1524.8,785 1525.0,785.5 1524.8,786 1524.3,786.5 1524.0,787 1523.7,787.5 1521.7,788 1520.0,788.5 1519.3,789 1521.4,789.5 1523.7,790 1524.9,790.5 1525.6,791 1525.9,791.5 1526.2,792 1527.0,792.5 1527.5,793 1527.1,793.5 1527.7,794 1527.5,794.5 1527.4,795 1528.2,795.5 1527.1,796 1523.7,796.5 1521.6,797 1520.9,797.5 1521.7,798 1524.8,798.5 1526.4,799 1527.2,799.5 1527.3,800 1526.3,800.5 1527.2,801 1526.8,801.5 1528.1,802 1527.2,802.5 1527.8,803 1528.9,803.5 1529.1,804 1529.8,804.5 1530.4,805 1530.6,805.5 1529.9,806 1530.1,806.5 1529.6,807 1529.9,807.5 1527.6,808 1526.7,808.5 1525.9,809 1525.7,809.5 1525.1,810 1523.8,810.5 1524.7,811 1524.1,811.5 1523.1,812 1522.5,812.5 1523.2,813 1523.3,813.5 1522.1,814 1522.9,814.5 1523.0,815 1523.2,815.5 1522.4,816 1522.6,816.5 1519.8,817 1517.8,817.5 1518.1,818 1519.8,818.5 1522.1,819 1522.7,819.5 1524.8,820 1526.6,820.5 1527.8,821 1528.5,821.5 1529.3,822 1529.5,822.5 1530.2,823 1530.7,823.5 1531.1,824 1531.6,824.5 1532.4,825 1532.9,825.5 1532.9,826 1533.1,826.5 1532.4,827 1532.2,827.5 1532.5,828 1531.4,828.5 1529.8,829 1528.9,829.5 1528.5,830 1528.5,830.5 1527.6,831 1525.8,831.5 1525.6,832 1525.1,832.5 1523.4,833 1521.9,833.5 1522.9,834 1524.0,834.5 1523.1,835 1522.1,835.5 1521.2,836 1520.3,836.5 1520.7,837 1517.1,837.5 1512.9,838 1510.5,838.5 1509.1,839 1511.4,839.5 1515.8,840 1520.4,840.5 1520.9,841 1520.9,841.5 1521.9,842 1522.5,842.5 1523.6,843 1525.0,843.5 1525.3,844 1527.1,844.5 1528.4,845 1529.1,845.5 1530.4,846 1530.5,846.5 1529.5,847 1530.8,847.5 1529.7,848 1528.8,848.5 1526.7,849 1526.1,849.5 1525.5,850 1525.3,850.5 1524.5,851 1523.2,851.5 1523.6,852 1523.0,852.5 1522.1,853 1521.0,853.5 1520.9,854 1520.5,854.5 1520.3,855 1520.8,855.5 1520.1,856 1520.2,856.5 1519.2,857 1519.1,857.5 1518.8,858 1519.0,858.5 1520.0,859 1520.0,859.5 1520.3,860 1521.2,860.5 1521.8,861 1522.1,861.5 1522.9,862 1523.2,862.5 1523.5,863 1525.0,863.5 1524.4,864 1524.4,864.5 1524.1,865 1523.9,865.5 1523.4,866 1523.7,866.5 1523.7,867 1523.4,867.5 1523.4,868 1524.0,868.5 1523.5,869 1524.8,869.5 1524.1,870 1524.4,870.5 1524.6,871 1523.9,871.5 1523.7,872 1524.3,872.5 1523.7,873 1520.9,873.5 1518.7,874 1518.2,874.5 1518.3,875 1520.2,875.5 1523.2,876 1524.1,876.5 1524.1,877 1524.3,877.5 1524.4,878 1524.8,878.5 1525.1,879 1524.5,879.5 1524.5,880 1524.2,880.5 1522.8,881 1523.5,881.5 1523.0,882 1522.8,882.5 1523.0,883 1521.7,883.5 1522.2,884 1522.1,884.5 1523.0,885 1522.0,885.5 1522.7,886 1522.4,886.5 1522.8,887 1521.3,887.5 1521.1,888 1521.0,888.5 1523.0,889 1523.4,889.5 1523.3,890 1523.7,890.5 1523.6,891 1523.2,891.5 1522.3,892 1521.7,892.5 1522.4,893 1522.2,893.5 1521.1,894 1522.2,894.5 1521.5,895 1520.6,895.5 1521.2,896 1521.0,896.5 1520.7,897 1521.9,897.5 1522.0,898 1521.0,898.5 1521.6,899 1521.5,899.5 1522.2,900 1521.7,900.5 1522.2,901 1522.1,901.5 1521.9,902 1521.6,902.5 1521.6,903 1521.9,903.5 1521.7,904 1521.5,904.5 1521.3,905 1520.4,905.5 1520.4,906 1520.7,906.5 1521.0,907 1521.0,907.5 1520.8,908 1521.7,908.5 1520.4,909 1519.7,909.5 1515.1,910 1512.7,910.5 1512.3,911 1513.7,911.5 1515.3,912 1520.4,912.5 1520.8,913 1522.0,913.5 1522.7,914 1522.4,914.5 1522.8,915 1524.6,915.5 1525.3,916 1525.7,916.5 1526.1,917 1527.2,917.5 1526.7,918 1524.8,918.5 1523.3,919 1522.5,919.5 1521.8,920 1520.4,920.5 1520.0,921 1518.5,921.5 1519.0,922 1517.2,922.5 1516.6,923 1517.1,923.5 1516.6,924 1516.1,924.5 1515.6,925 1515.4,925.5 1515.2,926 1514.9,926.5 1514.3,927 1515.4,927.5 1515.8,928 1516.1,928.5 1515.4,929 1515.9,929.5 1517.3,930 1517.3,930.5 1516.8,931 1516.0,931.5 1514.4,932 1513.9,932.5 1513.3,933 1509.7,933.5 1503.1,934 1500.3,934.5 1499.2,935 1503.3,935.5 1508.6,936 1514.0,936.5 1514.3,937 1513.9,937.5 1514.3,938 1516.2,938.5 1518.4,939 1518.5,939.5 1518.8,940 1520.0,940.5 1520.4,941 1521.1,941.5 1521.9,942 1523.2,942.5 1524.8,943 1525.8,943.5 1524.3,944 1522.4,944.5 1522.8,945 1521.7,945.5 1521.2,946 1520.4,946.5 1519.5,947 1518.9,947.5 1518.0,948 1518.4,948.5 1517.0,949 1517.5,949.5 1517.4,950 1516.7,950.5 1516.3,951 1516.3,951.5 1516.2,952 1515.7,952.5 1515.8,953 1514.9,953.5 1514.1,954 1514.9,954.5 1515.0,955 1515.5,955.5 1515.3,956 1515.1,956.5 1514.8,957 1516.2,957.5 1516.2,958 1517.0,958.5 1516.8,959 1517.5,959.5 1517.8,960 1518.5,960.5 1518.2,961 1519.3,961.5 1519.1,962 1519.1,962.5 1520.1,963 1520.7,963.5 1522.3,964 1522.3,964.5 1521.8,965 1521.4,965.5 1519.6,966 1519.0,966.5 1518.3,967 1517.1,967.5 1517.1,968 1516.1,968.5 1516.1,969 1511.6,969.5 1508.4,970 1505.1,970.5 1505.7,971 1507.6,971.5 1511.6,972 1514.6,972.5 1515.8,973 1515.4,973.5 1516.3,974 1517.0,974.5 1517.3,975 1518.4,975.5 1518.2,976 1519.0,976.5 1519.4,977 1520.6,977.5 1521.2,978 1519.6,978.5 1518.4,979 1517.9,979.5 1516.9,980 1515.3,980.5 1514.8,981 1515.2,981.5 1515.0,982 1514.9,982.5 1514.4,983 1513.4,983.5 1513.9,984 1514.1,984.5 1513.6,985 1512.1,985.5 1512.5,986 1511.0,986.5 1509.7,987 1507.5,987.5 1505.3,988 1506.2,988.5 1507.7,989 1506.5,989.5 1505.8,990 1505.4,990.5 1505.2,991 1504.3,991.5 1504.4,992 1504.3,992.5 1504.2,993 1503.9,993.5 1504.0,994 1503.2,994.5 1504.1,995 1503.4,995.5 1504.3,996 1504.0,996.5 1504.4,997 1506.1,997.5 1505.4,998 1506.8,998.5 1507.2,999 1507.2,999.5 1509.0,1000 1508.9,1000.5 1510.9,1001 1511.8,1001.5 1512.3,1002 1513.3,1002.5 1513.8,1003 1516.0,1003.5 1516.3,1004 1518.2,1004.5 1520.1,1005 1521.1,1005.5 1521.4,1006 1521.1,1006.5 1520.1,1007 1518.8,1007.5 1518.8,1008 1518.0,1008.5 1517.4,1009 1517.1,1009.5 1516.4,1010 1516.1,1010.5 1516.7,1011 1515.7,1011.5 1516.0,1012 1515.3,1012.5 1514.9,1013 1514.7,1013.5 1516.1,1014 1516.0,1014.5 1516.5,1015 1516.2,1015.5 1515.7,1016 1516.1,1016.5 1516.3,1017 1517.4,1017.5 1517.9,1018 1518.8,1018.5 1518.5,1019 1519.2,1019.5 1520.2,1020 1521.0,1020.5 1520.6,1021 1521.0,1021.5 1520.7,1022 1520.5,1022.5 1521.1,1023 1520.1,1023.5 1520.7,1024 1520.2,1024.5 1519.5,1025 1519.4,1025.5 1520.2,1026 1519.4,1026.5 1517.4,1027 1517.7,1027.5 1516.5,1028 1516.8,1028.5 1516.7,1029 1516.3,1029.5 1515.6,1030 1515.4,1030.5 1516.5,1031 1515.9,1031.5 1515.2,1032 1514.2,1032.5 1511.6,1033 1510.5,1033.5 1512.2,1034 1506.5,1034.5 1502.5,1035 1500.2,1035.5 1502.7,1036 1505.8,1036.5 1512.3,1037 1514.8,1037.5 1515.4,1038 1516.6,1038.5 1517.7,1039 1518.7,1039.5 1519.0,1040 1520.6,1040.5 1521.0,1041 1522.6,1041.5 1523.8,1042 1522.0,1042.5 1521.7,1043 1519.8,1043.5 1519.0,1044 1518.5,1044.5 1516.5,1045 1516.4,1045.5 1515.5,1046 1515.0,1046.5 1509.5,1047 1505.7,1047.5 1503.4,1048 1504.5,1048.5 1507.8,1049 1512.8,1049.5 1513.5,1050 1513.2,1050.5 1514.4,1051 1514.6,1051.5 1514.5,1052 1514.4,1052.5 1515.3,1053 1515.1,1053.5 1515.2,1054 1513.8,1054.5 1513.8,1055 1514.0,1055.5 1516.0,1056 1516.6,1056.5 1516.0,1057 1516.2,1057.5 1516.9,1058 1517.4,1058.5 1519.0,1059 1519.5,1059.5 1520.0,1060 1520.4,1060.5 1522.5,1061 1522.0,1061.5 1522.1,1062 1522.9,1062.5 1523.1,1063 1523.4,1063.5 1523.5,1064 1522.6,1064.5 1522.8,1065 1522.6,1065.5 1522.6,1066 1520.8,1066.5 1521.2,1067 1520.2,1067.5 1519.7,1068 1518.7,1068.5 1518.8,1069 1518.3,1069.5 1517.9,1070 1517.5,1070.5 1516.4,1071 1516.4,1071.5 1516.0,1072 1517.1,1072.5 1516.8,1073 1517.7,1073.5 1517.1,1074 1517.6,1074.5 1518.7,1075 1519.4,1075.5 1519.8,1076 1520.9,1076.5 1522.1,1077 1521.2,1077.5 1521.8,1078 1521.1,1078.5 1522.0,1079 1522.5,1079.5 1522.0,1080 1521.6,1080.5 1522.4,1081 1521.8,1081.5 1522.5,1082 1522.2,1082.5 1522.5,1083 1522.5,1083.5 1522.0,1084 1521.9,1084.5 1521.1,1085 1520.9,1085.5 1520.2,1086 1521.1,1086.5 1520.7,1087 1520.3,1087.5 1519.8,1088 1520.2,1088.5 1519.5,1089 1519.5,1089.5 1519.4,1090 1519.9,1090.5 1519.6,1091 1520.6,1091.5 1520.4,1092 1520.9,1092.5 1520.5,1093 1520.1,1093.5 1520.4,1094 1521.4,1094.5 1521.3,1095 1521.6,1095.5 1521.9,1096 1521.2,1096.5 1520.8,1097 1520.6,1097.5 1520.6,1098 1519.3,1098.5 1517.3,1099 1515.5,1099.5 1513.8,1100 1513.3,1100.5 1511.8,1101 1511.4,1101.5 1509.2,1102 1508.1,1102.5 1506.8,1103 1505.9,1103.5 1506.0,1104 1505.2,1104.5 1503.4,1105 1502.5,1105.5 1502.5,1106 1501.4,1106.5 1501.3,1107 1501.2,1107.5 1500.5,1108 1499.4,1108.5 1499.5,1109 1498.9,1109.5 1499.4,1110 1498.8,1110.5 1499.9,1111 1500.0,1111.5 1500.7,1112 1500.4,1112.5 1501.8,1113 1501.9,1113.5 1502.0,1114 1503.3,1114.5 1503.5,1115 1504.0,1115.5 1504.7,1116 1506.3,1116.5 1506.7,1117 1507.5,1117.5 1509.4,1118 1509.5,1118.5 1511.4,1119 1511.9,1119.5 1513.2,1120 1515.2,1120.5 1516.3,1121 1517.3,1121.5 1517.6,1122 1517.2,1122.5 1517.9,1123 1517.7,1123.5 1518.0,1124 1517.1,1124.5 1516.6,1125 1516.3,1125.5 1515.4,1126 1515.5,1126.5 1515.5,1127 1515.0,1127.5 1514.0,1128 1513.5,1128.5 1513.8,1129 1513.0,1129.5 1511.7,1130 1511.1,1130.5 1512.9,1131 1512.2,1131.5 1511.4,1132 1512.6,1132.5 1514.1,1133 1514.4,1133.5 1514.2,1134 1514.4,1134.5 1515.1,1135 1516.1,1135.5 1516.6,1136 1516.0,1136.5 1516.8,1137 1517.2,1137.5 1517.6,1138 1517.0,1138.5 1517.4,1139 1515.9,1139.5 1514.4,1140 1510.9,1140.5 1508.5,1141 1508.1,1141.5 1509.6,1142 1513.2,1142.5 1513.8,1143 1514.4,1143.5 1514.4,1144 1514.5,1144.5 1514.4,1145 1514.8,1145.5 1514.6,1146 1515.2,1146.5 1515.8,1147 1515.6,1147.5 1516.8,1148 1517.1,1148.5 1518.3,1149 1518.4,1149.5 1519.2,1150 1520.4,1150.5 1521.0,1151 1522.3,1151.5 1522.4,1152 1522.9,1152.5 1523.0,1153 1522.3,1153.5 1523.5,1154 1523.1,1154.5 1521.7,1155 1521.9,1155.5 1520.9,1156 1520.3,1156.5 1519.6,1157 1519.2,1157.5 1519.8,1158 1519.8,1158.5 1519.5,1159 1519.6,1159.5 1519.1,1160 1519.5,1160.5 1519.3,1161 1519.5,1161.5 1519.1,1162 1519.0,1162.5 1515.2,1163 1512.5,1163.5 1512.4,1164 1513.3,1164.5 1514.9,1165 1519.2,1165.5 1518.7,1166 1518.5,1166.5 1519.3,1167 1519.4,1167.5 1519.5,1168 1521.0,1168.5 1520.4,1169 1521.6,1169.5 1521.4,1170 1522.4,1170.5 1523.6,1171 1522.2,1171.5 1523.2,1172 1521.9,1172.5 1523.2,1173 1522.5,1173.5 1520.8,1174 1520.3,1174.5 1519.4,1175 1518.4,1175.5 1518.1,1176 1517.8,1176.5 1517.9,1177 1516.5,1177.5 1516.7,1178 1516.3,1178.5 1516.1,1179 1516.1,1179.5 1515.6,1180 1515.0,1180.5 1515.8,1181 1515.1,1181.5 1514.6,1182 1514.8,1182.5 1514.8,1183 1513.2,1183.5 1508.9,1184 1505.8,1184.5 1504.3,1185 1505.3,1185.5 1508.4,1186 1513.8,1186.5 1514.3,1187 1515.0,1187.5 1515.2,1188 1516.3,1188.5 1516.9,1189 1517.6,1189.5 1517.3,1190 1516.3,1190.5 1513.9,1191 1511.3,1191.5 1510.2,1192 1511.1,1192.5 1513.8,1193 1517.1,1193.5 1517.9,1194 1517.8,1194.5 1519.1,1195 1518.3,1195.5 1518.6,1196 1517.5,1196.5 1517.1,1197 1516.9,1197.5 1516.5,1198 1516.2,1198.5 1516.0,1199 1516.3,1199.5 1515.8,1200 1514.7,1200.5 1515.8,1201 1514.3,1201.5 1514.3,1202 1515.4,1202.5 1514.7,1203 1514.5,1203.5 1514.9,1204 1515.6,1204.5 1516.3,1205 1515.4,1205.5 1515.9,1206 1516.0,1206.5 1516.4,1207 1517.2,1207.5 1517.8,1208 1519.0,1208.5 1519.0,1209 1519.9,1209.5 1519.0,1210 1519.0,1210.5 1518.2,1211 1517.2,1211.5 1513.8,1212 1511.8,1212.5 1510.3,1213 1512.3,1213.5 1513.7,1214 1515.2,1214.5 1515.2,1215 1515.4,1215.5 1514.4,1216 1514.6,1216.5 1513.7,1217 1512.8,1217.5 1509.6,1218 1509.9,1218.5 1513.1,1219 1514.1,1219.5 1515.0,1220 1515.2,1220.5 1515.7,1221 1516.5,1221.5 1515.9,1222 1517.3,1222.5 1517.0,1223 1517.6,1223.5 1517.6,1224 1518.1,1224.5 1519.4,1225 1519.3,1225.5 1519.8,1226 1520.3,1226.5 1520.7,1227 1520.0,1227.5 1519.9,1228 1520.4,1228.5 1519.8,1229 1519.2,1229.5 1519.9,1230 1520.3,1230.5 1519.7,1231 1519.4,1231.5 1519.5,1232 1519.8,1232.5 1520.0,1233 1520.0,1233.5 1518.9,1234 1518.5,1234.5 1516.5,1235 1515.4,1235.5 1515.0,1236 1513.7,1236.5 1513.4,1237 1512.2,1237.5 1512.5,1238 1506.8,1238.5 1503.6,1239 1501.9,1239.5 1502.0,1240 1505.3,1240.5 1510.4,1241 1511.8,1241.5 1512.0,1242 1513.5,1242.5 1514.6,1243 1515.2,1243.5 1515.7,1244 1513.4,1244.5 1512.1,1245 1513.3,1245.5 1516.5,1246 1517.7,1246.5 1518.7,1247 1519.0,1247.5 1518.8,1248 1519.5,1248.5 1518.6,1249 1518.7,1249.5 1518.4,1250 1518.8,1250.5 1515.2,1251 1513.7,1251.5 1512.6,1252 1514.1,1252.5 1516.0,1253 1519.1,1253.5 1520.0,1254 1519.6,1254.5 1519.1,1255 1519.5,1255.5 1518.3,1256 1518.2,1256.5 1516.9,1257 1517.2,1257.5 1516.0,1258 1515.8,1258.5 1515.3,1259 1514.8,1259.5 1515.8,1260 1515.7,1260.5 1514.9,1261 1514.4,1261.5 1515.4,1262 1515.5,1262.5 1514.8,1263 1516.0,1263.5 1515.3,1264 1515.8,1264.5 1517.0,1265 1517.5,1265.5 1517.3,1266 1518.3,1266.5 1519.5,1267 1520.1,1267.5 1519.6,1268 1518.7,1268.5 1518.2,1269 1518.1,1269.5 1518.4,1270 1518.2,1270.5 1517.9,1271 1518.0,1271.5 1517.8,1272 1517.8,1272.5 1517.4,1273 1514.8,1273.5 1511.7,1274 1510.6,1274.5 1510.5,1275 1511.8,1275.5 1514.3,1276 1517.7,1276.5 1517.6,1277 1517.3,1277.5 1517.2,1278 1518.1,1278.5 1517.7,1279 1518.3,1279.5 1518.3,1280 1517.1,1280.5 1513.8,1281 1511.8,1281.5 1511.6,1282 1513.4,1282.5 1516.2,1283 1517.7,1283.5 1517.8,1284 1517.6,1284.5 1517.2,1285 1517.2,1285.5 1517.0,1286 1516.8,1286.5 1516.7,1287 1516.6,1287.5 1516.9,1288 1516.2,1288.5 1516.3,1289 1516.7,1289.5 1516.5,1290 1517.4,1290.5 1517.2,1291 1517.7,1291.5 1518.1,1292 1518.4,1292.5 1518.4,1293 1519.5,1293.5 1520.5,1294 1521.1,1294.5 1518.9,1295 1519.1,1295.5 1518.5,1296 1517.6,1296.5 1516.4,1297 1515.5,1297.5 1516.3,1298 1514.8,1298.5 1514.8,1299 1515.4,1299.5 1514.8,1300 1514.7,1300.5 1514.5,1301 1513.5,1301.5 1513.8,1302 1511.8,1302.5 1509.9,1303 1511.3,1303.5 1514.3,1304 1513.7,1304.5 1514.5,1305 1514.0,1305.5 1514.4,1306 1514.5,1306.5 1515.5,1307 1515.9,1307.5 1516.5,1308 1516.5,1308.5 1517.8,1309 1518.1,1309.5 1517.4,1310 1517.1,1310.5 1515.5,1311 1515.1,1311.5 1515.1,1312 1514.7,1312.5 1511.2,1313 1507.9,1313.5 1506.3,1314 1509.7,1314.5 1513.0,1315 1514.3,1315.5 1515.5,1316 1515.8,1316.5 1516.7,1317 1516.9,1317.5 1517.2,1318 1518.0,1318.5 1518.1,1319 1518.7,1319.5 1520.3,1320 1521.0,1320.5 1521.5,1321 1521.4,1321.5 1521.3,1322 1521.9,1322.5 1522.2,1323 1521.6,1323.5 1522.3,1324 1521.8,1324.5 1521.8,1325 1521.3,1325.5 1522.0,1326 1521.2,1326.5 1521.8,1327 1520.8,1327.5 1521.7,1328 1521.2,1328.5 1520.3,1329 1521.0,1329.5 1520.1,1330 1520.3,1330.5 1520.2,1331 1520.0,1331.5 1520.0,1332 1519.6,1332.5 1519.9,1333 1519.4,1333.5 1520.3,1334 1519.6,1334.5 1519.3,1335 1518.1,1335.5 1518.3,1336 1517.6,1336.5 1516.8,1337 1516.5,1337.5 1516.3,1338 1516.0,1338.5 1515.1,1339 1515.2,1339.5 1514.4,1340 1515.0,1340.5 1515.1,1341 1515.8,1341.5 1515.4,1342 1516.8,1342.5 1516.4,1343 1517.4,1343.5 1518.2,1344 1519.4,1344.5 1519.9,1345 1520.1,1345.5 1520.6,1346 1519.6,1346.5 1519.7,1347 1519.1,1347.5 1519.5,1348 1518.5,1348.5 1518.0,1349 1517.7,1349.5 1518.4,1350 1517.3,1350.5 1516.9,1351 1517.0,1351.5 1517.0,1352 1517.1,1352.5 1515.6,1353 1515.7,1353.5 1516.0,1354 1515.5,1354.5 1515.5,1355 1515.3,1355.5 1514.4,1356 1514.2,1356.5 1514.4,1357 1514.5,1357.5 1514.3,1358 1514.5,1358.5 1514.2,1359 1514.2,1359.5 1515.0,1360 1515.4,1360.5 1514.8,1361 1514.9,1361.5 1516.0,1362 1515.4,1362.5 1515.9,1363 1516.8,1363.5 1517.0,1364 1518.3,1364.5 1518.6,1365 1519.5,1365.5 1520.4,1366 1520.8,1366.5 1522.0,1367 1521.5,1367.5 1521.4,1368 1520.1,1368.5 1520.3,1369 1520.3,1369.5 1519.7,1370 1519.5,1370.5 1520.6,1371 1520.6,1371.5 1520.7,1372 1520.1,1372.5 1520.4,1373 1520.2,1373.5 1520.1,1374 1519.7,1374.5 1520.5,1375 1520.2,1375.5 1520.6,1376 1519.8,1376.5 1520.2,1377 1520.0,1377.5 1521.0,1378 1520.7,1378.5 1520.5,1379 1521.3,1379.5 1521.0,1380 1520.8,1380.5 1521.0,1381 1520.5,1381.5 1520.7,1382 1520.7,1382.5 1522.1,1383 1522.1,1383.5 1521.7,1384 1522.4,1384.5 1521.4,1385 1520.4,1385.5 1518.6,1386 1518.1,1386.5 1517.5,1387 1516.5,1387.5 1516.2,1388 1515.2,1388.5 1515.2,1389 1514.1,1389.5 1514.2,1390 1514.0,1390.5 1514.1,1391 1510.3,1391.5 1508.7,1392 1509.9,1392.5 1511.4,1393 1515.6,1393.5 1517.4,1394 1517.6,1394.5 1518.6,1395 1519.7,1395.5 1520.6,1396 1518.9,1396.5 1518.1,1397 1518.0,1397.5 1516.4,1398 1516.5,1398.5 1515.8,1399 1515.8,1399.5 1515.8,1400 1515.8,1400.5 1515.2,1401 1515.4,1401.5 1514.5,1402 1515.4,1402.5 1516.0,1403 1515.9,1403.5 1516.1,1404 1516.5,1404.5 1516.9,1405 1517.1,1405.5 1517.7,1406 1519.1,1406.5 1519.4,1407 1519.5,1407.5 1521.1,1408 1522.3,1408.5 1523.1,1409 1523.7,1409.5 1525.4,1410 1523.5,1410.5 1523.3,1411 1522.7,1411.5 1521.8,1412 1521.6,1412.5 1521.1,1413 1520.8,1413.5 1520.3,1414 1520.9,1414.5 1520.8,1415 1520.0,1415.5 1520.9,1416 1520.1,1416.5 1520.1,1417 1520.8,1417.5 1520.6,1418 1520.5,1418.5 1521.2,1419 1521.5,1419.5 1521.2,1420 1521.3,1420.5 1522.6,1421 1523.1,1421.5 1523.4,1422 1523.2,1422.5 1524.7,1423 1523.5,1423.5 1524.0,1424 1523.5,1424.5 1523.3,1425 1522.3,1425.5 1522.5,1426 1522.9,1426.5 1522.0,1427 1521.8,1427.5 1522.2,1428 1522.3,1428.5 1521.6,1429 1520.6,1429.5 1514.6,1430 1512.5,1430.5 1511.2,1431 1512.5,1431.5 1515.3,1432 1522.1,1432.5 1521.7,1433 1522.6,1433.5 1523.6,1434 1525.4,1434.5 1524.2,1435 1524.0,1435.5 1524.4,1436 1524.2,1436.5 1518.4,1437 1515.3,1437.5 1515.2,1438 1516.9,1438.5 1520.0,1439 1525.0,1439.5 1524.9,1440 1526.5,1440.5 1527.1,1441 1528.1,1441.5 1528.9,1442 1529.4,1442.5 1530.6,1443 1530.4,1443.5 1530.9,1444 1531.7,1444.5 1532.5,1445 1532.9,1445.5 1534.2,1446 1534.3,1446.5 1535.3,1447 1535.3,1447.5 1534.6,1448 1534.2,1448.5 1535.0,1449 1535.1,1449.5 1535.6,1450 1535.0,1450.5 1535.3,1451 1535.3,1451.5 1533.9,1452 1534.2,1452.5 1533.5,1453 1532.8,1453.5 1532.7,1454 1532.6,1454.5 1532.9,1455 1532.5,1455.5 1532.1,1456 1531.6,1456.5 1532.6,1457 1532.6,1457.5 1532.7,1458 1532.7,1458.5 1531.8,1459 1532.2,1459.5 1532.7,1460 1532.6,1460.5 1533.5,1461 1532.8,1461.5 1532.8,1462 1533.7,1462.5 1533.4,1463 1533.6,1463.5 1534.8,1464 1535.1,1464.5 1535.4,1465 1535.1,1465.5 1536.2,1466 1536.5,1466.5 1536.7,1467 1537.1,1467.5 1537.6,1468 1538.6,1468.5 1537.9,1469 1537.9,1469.5 1537.7,1470 1536.9,1470.5 1537.1,1471 1536.4,1471.5 1536.8,1472 1535.8,1472.5 1536.1,1473 1536.0,1473.5 1535.9,1474 1535.3,1474.5 1535.6,1475 1535.4,1475.5 1534.9,1476 1534.1,1476.5 1533.8,1477 1534.1,1477.5 1533.2,1478 1533.1,1478.5 1532.9,1479 1533.6,1479.5 1533.2,1480 1533.9,1480.5 1533.8,1481 1533.4,1481.5 1533.2,1482 1533.2,1482.5 1532.9,1483 1533.1,1483.5 1534.3,1484 1533.7,1484.5 1533.5,1485 1535.1,1485.5 1534.5,1486 1535.3,1486.5 1535.1,1487 1536.2,1487.5 1535.4,1488 1536.5,1488.5 1536.9,1489 1536.1,1489.5 1537.4,1490 1536.7,1490.5 1537.2,1491 1536.5,1491.5 1536.5,1492 1536.6,1492.5 1536.7,1493 1536.3,1493.5 1535.8,1494 1534.9,1494.5 1533.9,1495 1534.6,1495.5 1533.9,1496 1534.0,1496.5 1533.5,1497 1533.2,1497.5 1532.5,1498 1532.3,1498.5 1532.1,1499 1532.4,1499.5 1531.3,1500 1531.0,1500.5 1527.7,1501 1526.9,1501.5 1526.7,1502 1525.8,1502.5 1526.2,1503 1524.6,1503.5 1517.3,1504 1512.8,1504.5 1510.6,1505 1512.5,1505.5 1516.8,1506 1525.5,1506.5 1525.8,1507 1527.0,1507.5 1528.2,1508 1528.3,1508.5 1529.9,1509 1531.0,1509.5 1533.1,1510 1534.1,1510.5 1534.9,1511 1536.8,1511.5 1535.5,1512 1535.5,1512.5 1534.3,1513 1533.9,1513.5 1534.0,1514 1533.6,1514.5 1532.8,1515 1533.0,1515.5 1532.4,1516 1532.8,1516.5 1531.8,1517 1532.9,1517.5 1531.1,1518 1529.6,1518.5 1530.8,1519 1533.4,1519.5 1533.1,1520 1534.6,1520.5 1534.1,1521 1534.9,1521.5 1535.2,1522 1536.7,1522.5 1537.7,1523 1535.9,1523.5 1535.3,1524 1535.3,1524.5 1534.9,1525 1533.7,1525.5 1533.3,1526 1533.4,1526.5 1532.6,1527 1531.9,1527.5 1532.6,1528 1531.0,1528.5 1529.0,1529 1528.1,1529.5 1527.4,1530 1528.7,1530.5 1531.4,1531 1532.8,1531.5 1533.2,1532 1533.5,1532.5 1533.4,1533 1533.8,1533.5 1533.6,1534 1533.5,1534.5 1534.3,1535 1533.6,1535.5 1534.8,1536 1534.9,1536.5 1533.8,1537 1535.0,1537.5 1534.6,1538 1533.9,1538.5 1534.5,1539 1534.6,1539.5 1534.6,1540 1534.4,1540.5 1534.7,1541 1534.5,1541.5 1535.2,1542 1535.4,1542.5 1535.1,1543 1536.1,1543.5 1536.0,1544 1534.9,1544.5 1534.7,1545 1533.6,1545.5 1533.7,1546 1533.3,1546.5 1532.2,1547 1531.5,1547.5 1530.4,1548 1530.6,1548.5 1531.4,1549 1530.9,1549.5 1531.8,1550 1531.2,1550.5 1531.7,1551 1532.3,1551.5 1532.3,1552 1533.0,1552.5 1533.2,1553 1533.6,1553.5 1534.4,1554 1535.3,1554.5 1536.0,1555 1535.6,1555.5 1535.9,1556 1535.9,1556.5 1536.1,1557 1536.9,1557.5 1536.2,1558 1536.3,1558.5 1537.0,1559 1537.0,1559.5 1537.9,1560 1538.0,1560.5 1536.8,1561 1536.2,1561.5 1536.2,1562 1535.5,1562.5 1535.6,1563 1535.0,1563.5 1534.3,1564 1534.9,1564.5 1535.2,1565 1533.8,1565.5 1534.5,1566 1534.6,1566.5 1534.3,1567 1532.7,1567.5 1532.2,1568 1533.6,1568.5 1535.0,1569 1536.0,1569.5 1537.0,1570 1536.2,1570.5 1535.7,1571 1535.2,1571.5 1533.2,1572 1532.8,1572.5 1532.2,1573 1532.4,1573.5 1528.6,1574 1525.2,1574.5 1524.4,1575 1525.7,1575.5 1527.4,1576 1530.7,1576.5 1531.3,1577 1531.5,1577.5 1530.6,1578 1532.2,1578.5 1531.7,1579 1531.9,1579.5 1531.6,1580 1530.6,1580.5 1530.2,1581 1530.8,1581.5 1530.4,1582 1530.5,1582.5 1529.2,1583 1529.9,1583.5 1530.1,1584 1530.5,1584.5 1530.3,1585 1530.0,1585.5 1530.1,1586 1530.6,1586.5 1531.1,1587 1532.0,1587.5 1532.2,1588 1532.5,1588.5 1532.9,1589 1534.3,1589.5 1535.1,1590 1534.7,1590.5 1535.9,1591 1537.2,1591.5 1537.1,1592 1538.2,1592.5 1539.9,1593 1537.6,1593.5 1537.6,1594 1536.2,1594.5 1535.0,1595 1533.3,1595.5 1532.5,1596 1532.1,1596.5 1529.8,1597 1529.0,1597.5 1528.9,1598 1528.5,1598.5 1520.7,1599 1516.9,1599.5 1515.5,1600 1517.3,1600.5 1520.4,1601 1526.7,1601.5 1526.2,1602 1526.9,1602.5 1527.9,1603 1528.8,1603.5 1528.6,1604 1529.4,1604.5 1530.4,1605 1530.4,1605.5 1530.2,1606 1530.0,1606.5 1530.0,1607 1530.5,1607.5 1531.5,1608 1530.9,1608.5 1530.9,1609 1529.4,1609.5 1529.8,1610 1529.2,1610.5 1525.7,1611 1523.1,1611.5 1522.2,1612 1523.9,1612.5 1526.6,1613 1529.9,1613.5 1530.8,1614 1530.9,1614.5 1532.2,1615 1532.4,1615.5 1533.7,1616 1534.0,1616.5 1534.2,1617 1536.2,1617.5 1536.0,1618 1536.9,1618.5 1536.5,1619 1535.3,1619.5 1535.8,1620 1535.3,1620.5 1534.0,1621 1534.4,1621.5 1533.3,1622 1532.6,1622.5 1530.2,1623 1529.7,1623.5 1530.7,1624 1532.6,1624.5 1532.8,1625 1533.2,1625.5 1532.4,1626 1532.6,1626.5 1532.5,1627 1533.5,1627.5 1533.3,1628 1533.4,1628.5 1533.7,1629 1534.4,1629.5 1535.5,1630 1535.5,1630.5 1536.7,1631 1536.9,1631.5 1536.6,1632 1535.8,1632.5 1535.7,1633 1535.9,1633.5 1534.8,1634 1533.3,1634.5 1530.4,1635 1528.7,1635.5 1527.8,1636 1528.1,1636.5 1530.2,1637 1531.7,1637.5 1534.5,1638 1534.6,1638.5 1534.0,1639 1534.5,1639.5 1534.0,1640 1533.9,1640.5 1529.1,1641 1527.0,1641.5 1526.2,1642 1527.3,1642.5 1529.8,1643 1533.4,1643.5 1533.7,1644 1532.7,1644.5 1533.0,1645 1533.7,1645.5 1534.0,1646 1533.1,1646.5 1533.2,1647 1532.6,1647.5 1533.3,1648 1532.1,1648.5 1532.0,1649 1531.6,1649.5 1532.4,1650 1531.2,1650.5 1531.6,1651 1531.2,1651.5 1531.3,1652 1532.4,1652.5 1532.1,1653 1532.2,1653.5 1531.8,1654 1532.9,1654.5 1533.1,1655 1532.8,1655.5 1532.3,1656 1531.5,1656.5 1531.8,1657 1531.4,1657.5 1531.6,1658 1531.6,1658.5 1527.6,1659 1524.7,1659.5 1524.9,1660 1525.4,1660.5 1526.8,1661 1530.8,1661.5 1532.2,1662 1532.4,1662.5 1532.8,1663 1533.2,1663.5 1532.8,1664 1534.6,1664.5 1534.3,1665 1535.5,1665.5 1535.8,1666 1536.4,1666.5 1536.8,1667 1536.6,1667.5 1535.9,1668 1534.8,1668.5 1535.0,1669 1533.7,1669.5 1533.6,1670 1529.0,1670.5 1526.1,1671 1526.7,1671.5 1528.8,1672 1533.8,1672.5 1533.7,1673 1533.4,1673.5 1533.0,1674 1533.6,1674.5 1534.7,1675 1534.4,1675.5 1534.7,1676 1535.8,1676.5 1536.9,1677 1535.5,1677.5 1534.7,1678 1534.1,1678.5 1533.8,1679 1532.8,1679.5 1533.2,1680 1531.9,1680.5 1532.1,1681 1529.0,1681.5 1528.8,1682 1527.8,1682.5 1528.3,1683 1531.0,1683.5 1533.7,1684 1533.2,1684.5 1534.8,1685 1535.6,1685.5 1535.6,1686 1537.1,1686.5 1536.7,1687 1535.9,1687.5 1535.1,1688 1534.4,1688.5 1534.5,1689 1533.8,1689.5 1533.5,1690 1531.7,1690.5 1531.8,1691 1531.5,1691.5 1530.3,1692 1529.6,1692.5 1530.4,1693 1529.9,1693.5 1529.5,1694 1528.9,1694.5 1529.1,1695 1529.8,1695.5 1529.0,1696 1530.1,1696.5 1530.3,1697 1530.3,1697.5 1531.4,1698 1531.3,1698.5 1532.1,1699 1531.6,1699.5 1532.4,1700 1531.7,1700.5 1531.5,1701 1531.5,1701.5 1531.5,1702 1528.9,1702.5 1527.0,1703 1527.8,1703.5 1529.9,1704 1530.8,1704.5 1530.1,1705 1530.8,1705.5 1531.2,1706 1531.1,1706.5 1532.7,1707 1532.5,1707.5 1533.0,1708 1533.5,1708.5 1535.1,1709 1536.2,1709.5 1537.1,1710 1536.7,1710.5 1536.4,1711 1536.1,1711.5 1536.0,1712 1536.9,1712.5 1536.9,1713 1536.8,1713.5 1536.9,1714 1536.8,1714.5 1537.5,1715 1535.1,1715.5 1534.5,1716 1534.6,1716.5 1533.4,1717 1532.9,1717.5 1532.6,1718 1532.1,1718.5 1532.4,1719 1531.2,1719.5 1531.6,1720 1531.6,1720.5 1530.9,1721 1531.4,1721.5 1530.8,1722 1531.3,1722.5 1530.8,1723 1531.4,1723.5 1532.0,1724 1532.4,1724.5 1532.6,1725 1532.4,1725.5 1533.6,1726 1534.5,1726.5 1534.3,1727 1534.9,1727.5 1536.2,1728 1536.6,1728.5 1537.5,1729 1537.5,1729.5 1538.3,1730 1538.6,1730.5 1538.5,1731 1538.2,1731.5 1538.2,1732 1537.5,1732.5 1536.2,1733 1535.9,1733.5 1536.4,1734 1536.0,1734.5 1535.3,1735 1535.1,1735.5 1534.4,1736 1533.9,1736.5 1534.1,1737 1532.6,1737.5 1532.1,1738 1532.5,1738.5 1533.8,1739 1535.3,1739.5 1534.2,1740 1534.8,1740.5 1534.9,1741 1535.7,1741.5 1536.9,1742 1536.9,1742.5 1537.9,1743 1537.1,1743.5 1537.4,1744 1538.1,1744.5 1537.2,1745 1537.2,1745.5 1536.6,1746 1536.3,1746.5 1535.2,1747 1535.4,1747.5 1536.1,1748 1535.0,1748.5 1534.7,1749 1535.6,1749.5 1534.9,1750 1534.9,1750.5 1534.5,1751 1534.6,1751.5 1534.2,1752 1534.0,1752.5 1533.5,1753 1531.5,1753.5 1531.0,1754 1529.6,1754.5 1530.4,1755 1532.3,1755.5 1534.5,1756 1534.3,1756.5 1534.1,1757 1534.2,1757.5 1533.5,1758 1533.9,1758.5 1533.2,1759 1534.0,1759.5 1533.3,1760 1533.5,1760.5 1533.5,1761 1533.9,1761.5 1534.2,1762 1533.9,1762.5 1533.9,1763 1534.1,1763.5 1535.2,1764 1534.7,1764.5 1534.2,1765 1532.7,1765.5 1532.4,1766 1533.0,1766.5 1531.6,1767 1531.5,1767.5 1532.0,1768 1532.3,1768.5 1532.2,1769 1532.0,1769.5 1531.3,1770 1531.0,1770.5 1530.9,1771 1531.9,1771.5 1532.9,1772 1532.9,1772.5 1533.2,1773 1533.5,1773.5 1533.5,1774 1534.1,1774.5 1535.1,1775 1535.0,1775.5 1534.3,1776 1534.0,1776.5 1533.8,1777 1532.8,1777.5 1531.6,1778 1531.5,1778.5 1530.5,1779 1529.0,1779.5 1528.9,1780 1528.4,1780.5 1526.4,1781 1527.0,1781.5 1525.6,1782 1525.5,1782.5 1523.7,1783 1523.5,1783.5 1522.9,1784 1522.2,1784.5 1522.2,1785 1522.0,1785.5 1521.3,1786 1521.4,1786.5 1520.2,1787 1520.4,1787.5 1520.6,1788 1521.3,1788.5 1521.4,1789 1522.1,1789.5 1522.2,1790 1522.1,1790.5 1522.9,1791 1523.5,1791.5 1523.7,1792 1524.6,1792.5 1525.5,1793 1526.2,1793.5 1526.1,1794 1526.9,1794.5 1528.8,1795 1529.9,1795.5 1530.1,1796 1532.2,1796.5 1532.5,1797 1531.6,1797.5 1531.5,1798 1532.3,1798.5 1532.3,1799 1531.9,1799.5 1533.2,1800 1532.6,1800.5 1533.9,1801 1534.6,1801.5 1533.9,1802 1535.3,1802.5 1535.7,1803 1536.5,1803.5 1535.8,1804 1534.8,1804.5 1532.8,1805 1532.8,1805.5 1532.0,1806 1533.8,1806.5 1534.3,1807 1537.2,1807.5 1536.2,1808 1537.3,1808.5 1537.3,1809 1536.1,1809.5 1536.1,1810 1535.5,1810.5 1534.7,1811 1535.4,1811.5 1534.6,1812 1534.7,1812.5 1533.3,1813 1533.1,1813.5 1532.9,1814 1533.5,1814.5 1532.1,1815 1531.9,1815.5 1532.3,1816 1532.2,1816.5 1532.8,1817 1532.8,1817.5 1531.9,1818 1532.7,1818.5 1532.2,1819 1532.9,1819.5 1532.9,1820 1532.3,1820.5 1533.0,1821 1533.2,1821.5 1533.6,1822 1534.0,1822.5 1534.6,1823 1534.6,1823.5 1535.3,1824 1536.2,1824.5 1536.6,1825 1536.2,1825.5 1535.5,1826 1535.3,1826.5 1535.8,1827 1534.7,1827.5 1535.1,1828 1534.9,1828.5 1534.3,1829 1533.5,1829.5 1533.8,1830 1533.2,1830.5 1533.6,1831 1532.8,1831.5 1532.7,1832 1532.6,1832.5 1531.0,1833 1528.7,1833.5 1528.4,1834 1528.8,1834.5 1529.7,1835 1531.3,1835.5 1530.9,1836 1531.1,1836.5 1530.9,1837 1531.9,1837.5 1531.3,1838 1531.4,1838.5 1532.2,1839 1532.1,1839.5 1532.4,1840 1532.1,1840.5 1531.9,1841 1532.5,1841.5 1532.5,1842 1533.4,1842.5 1533.9,1843 1534.5,1843.5 1535.4,1844 1534.7,1844.5 1534.2,1845 1534.2,1845.5 1534.3,1846 1533.3,1846.5 1532.6,1847 1532.1,1847.5 1531.5,1848 1531.5,1848.5 1531.0,1849 1529.9,1849.5 1530.3,1850 1524.8,1850.5 1522.4,1851 1521.1,1851.5 1523.0,1852 1526.5,1852.5 1531.6,1853 1532.0,1853.5 1532.4,1854 1532.5,1854.5 1534.1,1855 1534.0,1855.5 1535.1,1856 1536.1,1856.5 1536.5,1857 1537.9,1857.5 1537.5,1858 1538.2,1858.5 1536.9,1859 1537.6,1859.5 1537.4,1860 1537.9,1860.5 1538.1,1861 1538.1,1861.5 1538.9,1862 1538.0,1862.5 1537.8,1863 1538.2,1863.5 1537.7,1864 1537.2,1864.5 1537.6,1865 1536.0,1865.5 1535.4,1866 1535.6,1866.5 1535.9,1867 1535.5,1867.5 1534.6,1868 1531.2,1868.5 1529.3,1869 1528.6,1869.5 1529.8,1870 1532.8,1870.5 1534.9,1871 1534.6,1871.5 1535.4,1872 1535.4,1872.5 1535.3,1873 1535.6,1873.5 1535.7,1874 1536.7,1874.5 1536.9,1875 1535.7,1875.5 1536.4,1876 1535.7,1876.5 1535.0,1877 1535.2,1877.5 1534.5,1878 1534.6,1878.5 1534.0,1879 1533.9,1879.5 1534.1,1880 1533.8,1880.5 1532.9,1881 1532.5,1881.5 1532.8,1882 1532.5,1882.5 1531.4,1883 1531.9,1883.5 1531.4,1884 1531.9,1884.5 1531.1,1885 1531.3,1885.5 1531.2,1886 1531.3,1886.5 1531.7,1887 1532.2,1887.5 1532.0,1888 1532.2,1888.5 1532.6,1889 1532.3,1889.5 1532.7,1890 1533.4,1890.5 1533.2,1891 1534.6,1891.5 1535.6,1892 1535.5,1892.5 1533.8,1893 1534.5,1893.5 1533.0,1894 1532.5,1894.5 1532.8,1895 1532.1,1895.5 1531.6,1896 1532.0,1896.5 1531.8,1897 1531.8,1897.5 1528.1,1898 1526.4,1898.5 1525.9,1899 1527.0,1899.5 1529.5,1900 1533.8,1900.5 1533.8,1901 1534.6,1901.5 1534.5,1902 1535.1,1902.5 1536.3,1903 1537.3,1903.5 1537.2,1904 1538.3,1904.5 1537.5,1905 1537.9,1905.5 1537.9,1906 1538.6,1906.5 1537.5,1907 1537.6,1907.5 1538.2,1908 1537.7,1908.5 1537.4,1909 1536.7,1909.5 1537.3,1910 1536.2,1910.5 1536.0,1911 1530.7,1911.5 1528.8,1912 1527.5,1912.5 1530.8,1913 1533.4,1913.5 1533.8,1914 1533.3,1914.5 1534.0,1915 1533.2,1915.5 1533.7,1916 1532.5,1916.5 1532.9,1917 1534.0,1917.5 1533.2,1918 1532.9,1918.5 1533.5,1919 1533.9,1919.5 1534.4,1920 1534.7,1920.5 1535.1,1921 1535.9,1921.5 1536.0,1922 1535.7,1922.5 1536.3,1923 1536.5,1923.5 1536.7,1924 1537.0,1924.5 1536.8,1925 1536.6,1925.5 1537.8,1926 1536.8,1926.5 1537.2,1927 1537.6,1927.5 1537.5,1928 1536.7,1928.5 1537.3,1929 1536.2,1929.5 1536.4,1930 1536.3,1930.5 1535.4,1931 1535.7,1931.5 1535.1,1932 1535.5,1932.5 1535.7,1933 1535.3,1933.5 1534.8,1934 1533.0,1934.5 1532.8,1935 1532.5,1935.5 1531.5,1936 1531.7,1936.5 1530.6,1937 1530.6,1937.5 1529.0,1938 1529.1,1938.5 1529.1,1939 1529.1,1939.5 1528.5,1940 1529.0,1940.5 1529.1,1941 1528.9,1941.5 1529.6,1942 1529.7,1942.5 1529.6,1943 1531.2,1943.5 1531.6,1944 1532.3,1944.5 1532.0,1945 1533.3,1945.5 1532.2,1946 1533.0,1946.5 1532.8,1947 1533.3,1947.5 1533.4,1948 1533.9,1948.5 1534.0,1949 1534.8,1949.5 1535.0,1950 1534.9,1950.5 1535.3,1951 1535.8,1951.5 1536.6,1952 1537.4,1952.5 1538.5,1953 1538.9,1953.5 1539.2,1954 1538.1,1954.5 1538.1,1955 1538.4,1955.5 1537.7,1956 1538.5,1956.5 1537.6,1957 1538.3,1957.5 1538.3,1958 1537.9,1958.5 1537.8,1959 1536.0,1959.5 1534.9,1960 1534.4,1960.5 1534.0,1961 1534.3,1961.5 1533.8,1962 1532.9,1962.5 1533.3,1963 1532.0,1963.5 1531.8,1964 1532.0,1964.5 1530.1,1965 1530.1,1965.5 1530.9,1966 1532.1,1966.5 1531.8,1967 1532.1,1967.5 1532.1,1968 1531.8,1968.5 1532.6,1969 1533.4,1969.5 1532.4,1970 1533.2,1970.5 1533.6,1971 1534.0,1971.5 1535.3,1972 1535.8,1972.5 1534.4,1973 1534.5,1973.5 1534.2,1974 1532.5,1974.5 1532.0,1975 1532.4,1975.5 1532.4,1976 1531.6,1976.5 1531.2,1977 1530.8,1977.5 1530.8,1978 1531.1,1978.5 1530.5,1979 1530.7,1979.5 1530.3,1980 1531.0,1980.5 1531.1,1981 1530.9,1981.5 1530.9,1982 1531.3,1982.5 1532.6,1983 1532.5,1983.5 1532.2,1984 1533.4,1984.5 1533.8,1985 1534.7,1985.5 1535.0,1986 1536.2,1986.5 1535.5,1987 1535.9,1987.5 1535.0,1988 1535.9,1988.5 1535.5,1989 1535.5,1989.5 1535.5,1990 1535.4,1990.5 1533.9,1991 1533.4,1991.5 1533.7,1992 1534.9,1992.5 1536.4,1993 1537.5,1993.5 1537.7,1994 1537.8,1994.5 1537.0,1995 1535.2,1995.5 1534.8,1996 1532.8,1996.5 1532.7,1997 1530.8,1997.5 1529.7,1998 1529.2,1998.5 1527.9,1999 1527.8,1999.5 1519.0,2000 1515.1,2000.5 1511.7,2001 1513.6,2001.5 1519.2,2002 1526.8,2002.5 1526.7,2003 1527.8,2003.5 1528.1,2004 1529.1,2004.5 1529.6,2005 1531.0,2005.5 1532.2,2006 1532.1,2006.5 1530.9,2007 1531.1,2007.5 1530.8,2008 1531.0,2008.5 1530.3,2009 1530.8,2009.5 1530.9,2010 1530.2,2010.5 1530.3,2011 1531.2,2011.5 1530.8,2012 1531.0,2012.5 1531.6,2013 1531.6,2013.5 1531.8,2014 1532.4,2014.5 1532.3,2015 1532.9,2015.5 1532.9,2016 1534.4,2016.5 1534.6,2017 1533.7,2017.5 1533.3,2018 1533.0,2018.5 1532.8,2019 1533.9,2019.5 1534.9,2020 1533.9,2020.5 1535.1,2021 1535.2,2021.5 1534.5,2022 1534.7,2022.5 1535.7,2023 1535.8,2023.5 1535.2,2024 1536.1,2024.5 1535.9,2025 1537.1,2025.5 1537.0,2026 1536.6,2026.5 1536.7,2027 1535.8,2027.5 1536.7,2028 1536.3,2028.5 1535.7,2029 1534.3,2029.5 1535.4,2030 1534.2,2030.5 1534.5,2031 1532.6,2031.5 1530.7,2032 1529.4,2032.5 1529.9,2033 1531.8,2033.5 1533.3,2034 1534.3,2034.5 1535.3,2035 1534.9,2035.5 1534.8,2036 1535.4,2036.5 1534.9,2037 1534.4,2037.5 1532.2,2038 1532.1,2038.5 1532.7,2039 1533.4,2039.5 1536.0,2040 1536.2,2040.5 1536.0,2041 1537.4,2041.5 1537.0,2042 1537.8,2042.5 1537.4,2043 1539.3,2043.5 1539.6,2044 1539.2,2044.5 1538.4,2045 1538.5,2045.5 1537.8,2046 1537.5,2046.5 1536.8,2047 1536.4,2047.5 1537.1,2048 1536.5,2048.5 1536.5,2049 1536.3,2049.5 1535.6,2050 1535.7,2050.5 1535.3,2051 1535.8,2051.5 1535.5,2052 1536.0,2052.5 1535.4,2053 1535.7,2053.5 1535.4,2054 1535.6,2054.5 1536.1,2055 1536.4,2055.5 1537.0,2056 1537.0,2056.5 1537.7,2057 1536.5,2057.5 1537.9,2058 1536.7,2058.5 1537.8,2059 1537.3,2059.5 1536.1,2060 1536.0,2060.5 1535.2,2061 1534.3,2061.5 1534.1,2062 1534.6,2062.5 1534.4,2063 1534.6,2063.5 1533.4,2064 1534.0,2064.5 1533.2,2065 1533.3,2065.5 1532.9,2066 1533.0,2066.5 1533.6,2067 1532.6,2067.5 1532.8,2068 1533.4,2068.5 1532.8,2069 1533.4,2069.5 1533.1,2070 1532.9,2070.5 1533.5,2071 1533.6,2071.5 1531.7,2072 1530.8,2072.5 1528.7,2073 1530.3,2073.5 1531.6,2074 1534.2,2074.5 1534.0,2075 1534.5,2075.5 1533.6,2076 1534.7,2076.5 1535.1,2077 1534.8,2077.5 1535.5,2078 1535.8,2078.5 1535.2,2079 1535.0,2079.5 1534.1,2080 1533.2,2080.5 1533.5,2081 1533.5,2081.5 1532.5,2082 1532.5,2082.5 1532.0,2083 1530.9,2083.5 1533.2,2084 1533.2,2084.5 1533.5,2085 1534.4,2085.5 1534.6,2086 1534.7,2086.5 1535.1,2087 1536.1,2087.5 1537.5,2088 1538.6,2088.5 1538.8,2089 1538.9,2089.5 1539.0,2090 1539.5,2090.5 1537.7,2091 1537.2,2091.5 1537.8,2092 1536.3,2092.5 1536.6,2093 1534.1,2093.5 1532.6,2094 1530.9,2094.5 1530.2,2095 1531.2,2095.5 1533.7,2096 1535.0,2096.5 1534.8,2097 1534.9,2097.5 1534.2,2098 1534.6,2098.5 1535.3,2099 1534.6,2099.5 1534.6,2100 1534.8,2100.5 1536.2,2101 1536.5,2101.5 1535.2,2102 1534.4,2102.5 1533.9,2103 1534.0,2103.5 1533.5,2104 1533.1,2104.5 1532.6,2105 1532.0,2105.5 1531.0,2106 1531.9,2106.5 1528.1,2107 1527.4,2107.5 1526.3,2108 1526.7,2108.5 1529.4,2109 1531.1,2109.5 1530.8,2110 1529.4,2110.5 1531.0,2111 1532.4,2111.5 1533.8,2112 1534.7,2112.5 1535.3,2113 1536.6,2113.5 1537.3,2114 1538.3,2114.5 1538.1,2115 1539.1,2115.5 1540.5,2116 1540.7,2116.5 1540.8,2117 1541.7,2117.5 1540.9,2118 1541.7,2118.5 1541.3,2119 1541.6,2119.5 1541.6,2120 1541.8,2120.5 1542.4,2121 1542.1,2121.5 1541.5,2122 1542.1,2122.5 1540.6,2123 1539.8,2123.5 1539.8,2124 1539.5,2124.5 1538.8,2125 1538.0,2125.5 1537.8,2126 1536.7,2126.5 1537.0,2127 1536.3,2127.5 1535.9,2128 1535.1,2128.5 1535.2,2129 1534.2,2129.5 1534.5,2130 1533.4,2130.5 1533.9,2131 1532.8,2131.5 1532.9,2132 1532.9,2132.5 1532.8,2133 1533.2,2133.5 1533.3,2134 1532.4,2134.5 1533.3,2135 1533.2,2135.5 1533.2,2136 1533.1,2136.5 1534.5,2137 1534.9,2137.5 1534.6,2138 1533.8,2138.5 1532.7,2139 1532.7,2139.5 1532.5,2140 1531.7,2140.5 1531.7,2141 1531.3,2141.5 1530.9,2142 1530.0,2142.5 1529.7,2143 1530.4,2143.5 1529.5,2144 1528.6,2144.5 1528.5,2145 1528.0,2145.5 1527.8,2146 1527.0,2146.5 1527.4,2147 1527.3,2147.5 1526.6,2148 1526.8,2148.5 1526.3,2149 1525.7,2149.5 1525.5,2150 1525.8,2150.5 1525.4,2151 1525.1,2151.5 1525.9,2152 1526.6,2152.5 1526.7,2153 1526.1,2153.5 1527.6,2154 1526.9,2154.5 1528.0,2155 1528.0,2155.5 1528.7,2156 1529.1,2156.5 1530.2,2157 1531.0,2157.5 1531.9,2158 1531.4,2158.5 1530.9,2159 1531.1,2159.5 1531.4,2160 1531.7,2160.5 1532.1,2161 1532.6,2161.5 1532.8,2162 1534.1,2162.5 1533.9,2163 1534.4,2163.5 1535.3,2164 1534.9,2164.5 1535.9,2165 1535.7,2165.5 1536.8,2166 1538.0,2166.5 1538.0,2167 1537.9,2167.5 1538.2,2168 1537.9,2168.5 1537.8,2169 1537.8,2169.5 1537.9,2170 1538.0,2170.5 1538.1,2171 1538.1,2171.5 1537.9,2172 1537.7,2172.5 1537.9,2173 1537.1,2173.5 1537.2,2174 1538.2,2174.5 1537.8,2175 1537.3,2175.5 1538.6,2176 1537.1,2176.5 1536.6,2177 1536.9,2177.5 1535.3,2178 1535.6,2178.5 1534.4,2179 1534.7,2179.5 1533.7,2180 1533.6,2180.5 1533.3,2181 1532.2,2181.5 1530.9,2182 1531.9,2182.5 1531.8,2183 1531.7,2183.5 1532.5,2184 1531.6,2184.5 1532.1,2185 1531.8,2185.5 1532.6,2186 1532.2,2186.5 1532.7,2187 1533.8,2187.5 1533.4,2188 1533.8,2188.5 1533.5,2189 1534.2,2189.5 1534.4,2190 1535.6,2190.5 1535.3,2191 1534.5,2191.5 1533.8,2192 1534.1,2192.5 1533.5,2193 1532.5,2193.5 1532.1,2194 1531.7,2194.5 1531.7,2195 1531.5,2195.5 1530.6,2196 1530.4,2196.5 1530.9,2197 1529.9,2197.5 1529.0,2198 1527.8,2198.5 1528.5,2199 1530.0,2199.5 1531.8,2200 1531.6,2200.5 1531.3,2201 1532.1,2201.5 1533.0,2202 1532.9,2202.5 1534.4,2203 1533.9,2203.5 1535.5,2204 1536.6,2204.5 1536.5,2205 1537.4,2205.5 1536.4,2206 1535.5,2206.5 1536.0,2207 1534.6,2207.5 1535.2,2208 1535.0,2208.5 1534.4,2209 1533.1,2209.5 1532.8,2210 1533.5,2210.5 1533.1,2211 1531.9,2211.5 1532.4,2212 1531.8,2212.5 1530.4,2213 1531.1,2213.5 1529.4,2214 1529.4,2214.5 1528.8,2215 1528.4,2215.5 1528.4,2216 1527.3,2216.5 1528.1,2217 1526.6,2217.5 1526.8,2218 1525.9,2218.5 1526.3,2219 1525.3,2219.5 1524.8,2220 1524.8,2220.5 1524.1,2221 1523.6,2221.5 1522.9,2222 1523.5,2222.5 1523.2,2223 1522.9,2223.5 1523.6,2224 1522.9,2224.5 1523.4,2225 1522.7,2225.5 1523.1,2226 1523.7,2226.5 1523.4,2227 1524.7,2227.5 1525.0,2228 1524.8,2228.5 1525.3,2229 1525.0,2229.5 1526.2,2230 1526.8,2230.5 1526.7,2231 1527.4,2231.5 1528.0,2232 1528.0,2232.5 1528.4,2233 1529.2,2233.5 1530.3,2234 1531.1,2234.5 1532.1,2235 1531.9,2235.5 1532.4,2236 1533.5,2236.5 1533.8,2237 1534.6,2237.5 1535.5,2238 1536.4,2238.5 1536.2,2239 1536.9,2239.5 1537.8,2240 1537.5,2240.5 1536.5,2241 1536.9,2241.5 1536.5,2242 1536.8,2242.5 1536.6,2243 1535.9,2243.5 1535.0,2244 1535.5,2244.5 1535.1,2245 1535.1,2245.5 1534.9,2246 1535.9,2246.5 1536.0,2247 1535.6,2247.5 1535.8,2248 1537.1,2248.5 1536.8,2249 1537.3,2249.5 1537.1,2250 1538.7,2250.5 1538.9,2251 1538.5,2251.5 1537.9,2252 1538.4,2252.5 1537.8,2253 1538.0,2253.5 1538.8,2254 1537.6,2254.5 1536.9,2255 1536.4,2255.5 1536.8,2256 1535.2,2256.5 1535.2,2257 1535.0,2257.5 1533.9,2258 1534.4,2258.5 1533.4,2259 1533.4,2259.5 1533.2,2260 1533.9,2260.5 1532.9,2261 1532.5,2261.5 1532.4,2262 1532.1,2262.5 1531.8,2263 1531.9,2263.5 1532.3,2264 1531.8,2264.5 1531.6,2265 1531.4,2265.5 1532.5,2266 1531.9,2266.5 1531.9,2267 1532.9,2267.5 1533.2,2268 1532.8,2268.5 1532.3,2269 1533.6,2269.5 1533.7,2270 1532.9,2270.5 1533.6,2271 1534.7,2271.5 1534.6,2272 1534.5,2272.5 1536.1,2273 1535.6,2273.5 1536.1,2274 1537.7,2274.5 1538.4,2275 1538.1,2275.5 1537.2,2276 1537.2,2276.5 1537.6,2277 1538.3,2277.5 1538.7,2278 1537.3,2278.5 1537.4,2279 1536.9,2279.5 1535.6,2280 1536.5,2280.5 1535.4,2281 1535.3,2281.5 1535.6,2282 1535.1,2282.5 1535.1,2283 1534.2,2283.5 1534.9,2284 1534.3,2284.5 1535.3,2285 1535.4,2285.5 1535.4,2286 1535.5,2286.5 1536.2,2287 1536.3,2287.5 1536.4,2288 1536.3,2288.5 1536.2,2289 1538.2,2289.5 1537.6,2290 1537.5,2290.5 1538.3,2291 1538.8,2291.5 1538.0,2292 1537.7,2292.5 1537.4,2293 1537.6,2293.5 1537.9,2294 1537.9,2294.5 1537.4,2295 1538.0,2295.5 1538.0,2296 1537.9,2296.5 1536.7,2297 1537.3,2297.5 1536.5,2298 1536.9,2298.5 1536.9,2299 1536.7,2299.5 1537.3,2300 1536.6,2300.5 1537.4,2301 1537.4,2301.5 1537.2,2302 1536.5,2302.5 1536.6,2303 1537.6,2303.5 1537.9,2304 1536.9,2304.5 1537.5,2305 1537.7,2305.5 1537.8,2306 1536.8,2306.5 1536.9,2307 1536.7,2307.5 1537.6,2308 1537.1,2308.5 1537.5,2309 1536.7,2309.5 1537.3,2310 1536.7,2310.5 1536.8,2311 1536.9,2311.5 1537.3,2312 1536.1,2312.5 1536.9,2313 1535.7,2313.5 1535.8,2314 1536.4,2314.5 1535.5,2315 1536.5,2315.5 1536.7,2316 1535.8,2316.5 1536.2,2317 1535.9,2317.5 1536.2,2318 1535.3,2318.5 1535.0,2319 1535.6,2319.5 1534.7,2320 1535.5,2320.5 1534.7,2321 1534.8,2321.5 1535.4,2322 1534.0,2322.5 1532.5,2323 1532.6,2323.5 1532.7,2324 1529.9,2324.5 1528.2,2325 1527.7,2325.5 1529.2,2326 1531.3,2326.5 1531.5,2327 1531.5,2327.5 1532.5,2328 1532.6,2328.5 1533.9,2329 1533.5,2329.5 1535.2,2330 1535.1,2330.5 1536.9,2331 1537.7,2331.5 1538.1,2332 1537.5,2332.5 1537.4,2333 1537.2,2333.5 1538.0,2334 1537.6,2334.5 1536.2,2335 1536.0,2335.5 1536.5,2336 1536.1,2336.5 1536.0,2337 1536.2,2337.5 1535.9,2338 1534.7,2338.5 1535.6,2339 1534.2,2339.5 1532.2,2340 1530.7,2340.5 1531.3,2341 1532.6,2341.5 1533.4,2342 1533.7,2342.5 1533.3,2343 1533.3,2343.5 1533.0,2344 1533.0,2344.5 1534.2,2345 1533.7,2345.5 1533.8,2346 1533.5,2346.5 1534.9,2347 1533.8,2347.5 1535.2,2348 1534.5,2348.5 1535.3,2349 1536.0,2349.5 1536.5,2350 1537.6,2350.5 1538.2,2351 1538.4,2351.5 1537.6,2352 1538.0,2352.5 1537.6,2353 1537.2,2353.5 1536.5,2354 1535.5,2354.5 1535.0,2355 1534.4,2355.5 1533.9,2356 1534.3,2356.5 1534.3,2357 1533.4,2357.5 1532.5,2358 1530.3,2358.5 1527.2,2359 1525.3,2359.5 1526.2,2360 1527.1,2360.5 1530.3,2361 1531.8,2361.5 1531.2,2362 1531.7,2362.5 1532.1,2363 1534.0,2363.5 1534.0,2364 1534.1,2364.5 1534.7,2365 1535.1,2365.5 1534.3,2366 1534.1,2366.5 1533.0,2367 1533.1,2367.5 1532.4,2368 1532.6,2368.5 1530.1,2369 1529.1,2369.5 1528.5,2370 1529.1,2370.5 1529.9,2371 1531.5,2371.5 1531.3,2372 1530.3,2372.5 1531.9,2373 1532.9,2373.5 1534.2,2374 1534.3,2374.5 1534.9,2375 1534.2,2375.5 1535.4,2376 1535.6,2376.5 1535.8,2377 1536.0,2377.5 1537.0,2378 1536.8,2378.5 1537.3,2379 1537.1,2379.5 1536.1,2380 1536.3,2380.5 1536.0,2381 1536.6,2381.5 1536.5,2382 1535.8,2382.5 1535.8,2383 1535.8,2383.5 1536.4,2384 1536.5,2384.5 1536.6,2385 1536.7,2385.5 1537.1,2386 1536.3,2386.5 1537.2,2387 1537.8,2387.5 1538.2,2388 1538.7,2388.5 1538.4,2389 1540.0,2389.5 1539.9,2390 1539.2,2390.5 1539.4,2391 1538.3,2391.5 1538.2,2392 1538.1,2392.5 1538.4,2393 1538.8,2393.5 1537.9,2394 1538.6,2394.5 1538.4,2395 1536.6,2395.5 1535.9,2396 1536.7,2396.5 1535.4,2397 1535.3,2397.5 1535.0,2398 1533.8,2398.5 1533.0,2399 1533.9,2399.5 1533.7,2400 1532.7,2400.5 1529.8,2401 1527.0,2401.5 1527.5,2402 1528.0,2402.5 1530.5,2403 1533.6,2403.5 1533.5,2404 1533.6,2404.5 1534.5,2405 1535.4,2405.5 1535.4,2406 1535.9,2406.5 1535.9,2407 1536.3,2407.5 1536.8,2408 1537.0,2408.5 1537.4,2409 1538.2,2409.5 1537.5,2410 1537.7,2410.5 1538.3,2411 1538.4,2411.5 1537.3,2412 1536.9,2412.5 1536.5,2413 1535.5,2413.5 1535.1,2414 1535.3,2414.5 1534.5,2415 1534.1,2415.5 1534.7,2416 1533.9,2416.5 1533.8,2417 1533.8,2417.5 1533.7,2418 1533.9,2418.5 1533.9,2419 1532.6,2419.5 1533.5,2420 1532.3,2420.5 1532.3,2421 1532.4,2421.5 1529.5,2422 1528.1,2422.5 1527.7,2423 1529.5,2423.5 1531.4,2424 1534.3,2424.5 1534.9,2425 1535.7,2425.5 1536.0,2426 1535.7,2426.5 1536.6,2427 1536.6,2427.5 1537.4,2428 1538.4,2428.5 1537.7,2429 1538.2,2429.5 1538.9,2430 1539.4,2430.5 1539.2,2431 1539.6,2431.5 1540.0,2432 1540.9,2432.5 1539.9,2433 1541.4,2433.5 1541.2,2434 1542.1,2434.5 1541.2,2435 1541.3,2435.5 1539.3,2436 1538.7,2436.5 1538.6,2437 1537.5,2437.5 1537.1,2438 1537.1,2438.5 1535.9,2439 1535.5,2439.5 1534.8,2440 1533.8,2440.5 1534.2,2441 1533.1,2441.5 1532.3,2442 1532.5,2442.5 1532.3,2443 1531.9,2443.5 1532.1,2444 1531.6,2444.5 1532.9,2445 1532.4,2445.5 1532.3,2446 1532.9,2446.5 1533.2,2447 1533.3,2447.5 1534.4,2448 1533.9,2448.5 1534.2,2449 1533.6,2449.5 1533.3,2450 1532.3,2450.5 1533.0,2451 1533.2,2451.5 1532.9,2452 1531.8,2452.5 1532.1,2453 1531.7,2453.5 1532.6,2454 1533.0,2454.5 1532.7,2455 1532.8,2455.5 1532.7,2456 1533.0,2456.5 1532.9,2457 1533.4,2457.5 1532.6,2458 1533.3,2458.5 1533.7,2459 1533.1,2459.5 1534.0,2460 1534.7,2460.5 1533.8,2461 1534.9,2461.5 1535.1,2462 1535.6,2462.5 1535.9,2463 1535.8,2463.5 1536.0,2464 1536.1,2464.5 1536.4,2465 1537.0,2465.5 1537.1,2466 1538.3,2466.5 1538.8,2467 1537.7,2467.5 1536.9,2468 1536.3,2468.5 1535.6,2469 1534.8,2469.5 1534.0,2470 1532.7,2470.5 1531.7,2471 1531.4,2471.5 1530.9,2472 1531.1,2472.5 1525.5,2473 1523.3,2473.5 1522.5,2474 1523.4,2474.5 1527.0,2475 1531.5,2475.5 1532.2,2476 1532.4,2476.5 1532.9,2477 1534.2,2477.5 1534.2,2478 1534.7,2478.5 1535.3,2479 1536.4,2479.5 1537.3,2480 1536.8,2480.5 1537.6,2481 1539.4,2481.5 1539.9,2482 1540.7,2482.5 1541.0,2483 1540.5,2483.5 1539.8,2484 1540.8,2484.5 1540.6,2485 1539.3,2485.5 1540.5,2486 1539.4,2486.5 1538.2,2487 1538.1,2487.5 1537.4,2488 1537.6,2488.5 1536.7,2489 1535.9,2489.5 1536.7,2490 1535.6,2490.5 1535.0,2491 1535.5,2491.5 1534.4,2492 1534.9,2492.5 1534.5,2493 1533.9,2493.5 1535.0,2494 1534.6,2494.5 1533.7,2495 1534.9,2495.5 1534.6,2496 1534.9,2496.5 1535.0,2497 1534.3,2497.5 1534.7,2498 1534.4,2498.5 1534.9,2499 1534.8,2499.5 1534.0,2500 1533.9,2500.5 1534.1,2501 1533.3,2501.5 1533.1,2502 1532.7,2502.5 1533.6,2503 1532.3,2503.5 1532.3,2504 1533.2,2504.5 1532.0,2505 1532.2,2505.5 1532.8,2506 1532.5,2506.5 1532.8,2507 1532.5,2507.5 1533.6,2508 1532.9,2508.5 1533.5,2509 1533.5,2509.5 1534.6,2510 1534.2,2510.5 1535.0,2511 1534.6,2511.5 1535.7,2512 1535.8,2512.5 1537.0,2513 1536.4,2513.5 1537.1,2514 1538.4,2514.5 1538.0,2515 1539.2,2515.5 1539.1,2516 1538.0,2516.5 1537.3,2517 1537.3,2517.5 1536.4,2518 1536.1,2518.5 1534.6,2519 1532.2,2519.5 1530.7,2520 1531.3,2520.5 1532.4,2521 1535.2,2521.5 1536.7,2522 1537.1,2522.5 1537.7,2523 1537.5,2523.5 1538.1,2524 1538.3,2524.5 1537.7,2525 1538.5,2525.5 1537.8,2526 1536.9,2526.5 1537.6,2527 1537.0,2527.5 1537.3,2528 1536.3,2528.5 1536.2,2529 1536.5,2529.5 1536.3,2530 1535.8,2530.5 1535.1,2531 1534.9,2531.5 1535.1,2532 1535.1,2532.5 1534.4,2533 1534.6,2533.5 1534.3,2534 1534.2,2534.5 1533.7,2535 1533.8,2535.5 1533.7,2536 1534.8,2536.5 1533.5,2537 1533.9,2537.5 1533.9,2538 1534.9,2538.5 1534.9,2539 1534.6,2539.5 1534.5,2540 1535.6,2540.5 1536.0,2541 1535.9,2541.5 1535.7,2542 1535.3,2542.5 1534.4,2543 1535.3,2543.5 1535.3,2544 1534.3,2544.5 1534.6,2545 1535.5,2545.5 1535.5,2546 1535.5,2546.5 1535.7,2547 1535.0,2547.5 1536.3,2548 1536.5,2548.5 1535.9,2549 1537.3,2549.5 1537.5,2550 1538.0,2550.5 1538.3,2551 1536.6,2551.5 1536.3,2552 1536.7,2552.5 1535.5,2553 1535.4,2553.5 1535.6,2554 1535.4,2554.5 1534.5,2555 1534.2,2555.5 1534.3,2556 1534.5,2556.5 1533.8,2557 1533.2,2557.5 1532.9,2558 1532.7,2558.5 1533.2,2559 1533.4,2559.5 1532.7,2560 1533.5,2560.5 1533.5,2561 1533.6,2561.5 1533.7,2562 1533.8,2562.5 1533.5,2563 1534.5,2563.5 1535.0,2564 1535.7,2564.5 1536.2,2565 1536.2,2565.5 1536.0,2566 1537.6,2566.5 1537.7,2567 1539.4,2567.5 1539.5,2568 1538.3,2568.5 1538.3,2569 1537.7,2569.5 1538.1,2570 1537.5,2570.5 1537.3,2571 1536.6,2571.5 1536.7,2572 1535.8,2572.5 1535.7,2573 1536.2,2573.5 1535.3,2574 1534.9,2574.5 1535.5,2575 1535.8,2575.5 1534.5,2576 1532.8,2576.5 1531.6,2577 1531.0,2577.5 1532.4,2578 1534.8,2578.5 1534.8,2579 1535.3,2579.5 1534.2,2580 1535.2,2580.5 1534.5,2581 1535.7,2581.5 1534.9,2582 1535.8,2582.5 1536.5,2583 1537.2,2583.5 1537.2,2584 1537.0,2584.5 1536.1,2585 1536.4,2585.5 1536.2,2586 1536.0,2586.5 1536.1,2587 1535.9,2587.5 1535.8,2588 1536.3,2588.5 1536.2,2589 1536.7,2589.5 1536.7,2590 1536.6,2590.5 1535.3,2591 1535.5,2591.5 1535.2,2592 1535.3,2592.5 1535.3,2593 1534.1,2593.5 1533.7,2594 1531.5,2594.5 1529.7,2595 1528.1,2595.5 1529.4,2596 1531.3,2596.5 1534.9,2597 1535.6,2597.5 1536.0,2598 1536.7,2598.5 1536.4,2599 1537.1,2599.5 1537.5,2600 1538.7,2600.5 1538.6,2601 1539.5,2601.5 1539.7,2602 1538.5,2602.5 1539.6,2603 1538.8,2603.5 1539.5,2604 1540.0,2604.5 1539.1,2605 1539.7,2605.5 1539.8,2606 1539.2,2606.5 1539.4,2607 1539.1,2607.5 1538.7,2608 1538.1,2608.5 1538.2,2609 1537.1,2609.5 1536.3,2610 1536.2,2610.5 1535.8,2611 1535.4,2611.5 1534.5,2612 1534.5,2612.5 1533.9,2613 1533.4,2613.5 1534.4,2614 1533.1,2614.5 1533.5,2615 1534.1,2615.5 1533.4,2616 1534.4,2616.5 1533.3,2617 1532.6,2617.5 1532.5,2618 1533.3,2618.5 1534.7,2619 1535.7,2619.5 1535.9,2620 1535.3,2620.5 1536.8,2621 1535.8,2621.5 1536.8,2622 1536.8,2622.5 1536.5,2623 1536.9,2623.5 1538.1,2624 1538.3,2624.5 1537.6,2625 1538.2,2625.5 1537.6,2626 1536.4,2626.5 1537.0,2627 1535.3,2627.5 1534.4,2628 1534.1,2628.5 1532.6,2629 1532.2,2629.5 1531.1,2630 1531.0,2630.5 1530.5,2631 1529.9,2631.5 1529.5,2632 1529.7,2632.5 1529.0,2633 1530.1,2633.5 1529.1,2634 1529.2,2634.5 1528.9,2635 1530.1,2635.5 1529.6,2636 1529.8,2636.5 1528.8,2637 1528.9,2637.5 1529.3,2638 1530.3,2638.5 1533.0,2639 1533.3,2639.5 1535.3,2640 1535.9,2640.5 1536.0,2641 1537.7,2641.5 1537.7,2642 1538.6,2642.5 1538.3,2643 1538.6,2643.5 1538.1,2644 1538.5,2644.5 1538.1,2645 1537.8,2645.5 1537.9,2646 1538.8,2646.5 1537.4,2647 1536.6,2647.5 1536.6,2648 1536.8,2648.5 1538.0,2649 1538.6,2649.5 1539.2,2650 1539.3,2650.5 1539.0,2651 1539.3,2651.5 1538.9,2652 1540.0,2652.5 1539.8,2653 1540.3,2653.5 1540.1,2654 1540.8,2654.5 1540.7,2655 1540.1,2655.5 1540.1,2656 1539.1,2656.5 1539.5,2657 1538.6,2657.5 1538.6,2658 1537.9,2658.5 1538.0,2659 1538.5,2659.5 1537.1,2660 1537.2,2660.5 1537.6,2661 1537.7,2661.5 1537.7,2662 1554.7,2662 1554.8,2661.5 1554.7,2661 1554.7,2660.5 1556.0,2660 1556.2,2659.5 1556.4,2659 1557.7,2658.5 1558.8,2658 1558.7,2657.5 1559.6,2657 1559.9,2656.5 1559.6,2656 1560.8,2655.5 1561.8,2655 1561.8,2654.5 1561.7,2654 1562.9,2653.5 1562.8,2653 1563.4,2652.5 1563.4,2652 1563.1,2651.5 1563.0,2651 1563.1,2650.5 1562.8,2650 1563.4,2649.5 1562.2,2649 1563.3,2648.5 1562.6,2648 1562.9,2647.5 1563.2,2647 1562.8,2646.5 1563.1,2646 1562.2,2645.5 1563.0,2645 1561.6,2644.5 1562.2,2644 1561.7,2643.5 1561.1,2643 1560.5,2642.5 1559.1,2642 1558.9,2641.5 1557.5,2641 1557.6,2640.5 1556.6,2640 1555.2,2639.5 1555.1,2639 1554.3,2638.5 1554.7,2638 1554.4,2637.5 1553.2,2637 1553.7,2636.5 1553.8,2636 1552.6,2635.5 1553.4,2635 1552.3,2634.5 1551.8,2634 1551.8,2633.5 1552.8,2633 1552.9,2632.5 1554.4,2632 1554.3,2631.5 1554.3,2631 1555.8,2630.5 1555.5,2630 1555.7,2629.5 1555.9,2629 1556.7,2628.5 1557.3,2628 1557.8,2627.5 1558.2,2627 1557.8,2626.5 1557.9,2626 1559.3,2625.5 1558.8,2625 1559.2,2624.5 1559.5,2624 1559.0,2623.5 1559.2,2623 1558.3,2622.5 1558.1,2622 1558.3,2621.5 1558.6,2621 1558.2,2620.5 1556.5,2620 1556.7,2619.5 1556.2,2619 1556.4,2618.5 1556.3,2618 1557.3,2617.5 1556.4,2617 1556.5,2616.5 1555.9,2616 1556.9,2615.5 1555.8,2615 1556.8,2614.5 1555.9,2614 1555.9,2613.5 1555.6,2613 1556.3,2612.5 1557.4,2612 1556.9,2611.5 1557.1,2611 1557.8,2610.5 1557.3,2610 1558.2,2609.5 1558.7,2609 1558.7,2608.5 1557.7,2608 1558.9,2607.5 1559.1,2607 1559.3,2606.5 1559.1,2606 1558.5,2605.5 1559.4,2605 1559.3,2604.5 1559.2,2604 1559.6,2603.5 1558.8,2603 1559.0,2602.5 1559.3,2602 1559.6,2601.5 1559.6,2601 1559.3,2600.5 1558.3,2600 1558.2,2599.5 1558.0,2599 1557.6,2598.5 1557.1,2598 1557.4,2597.5 1558.2,2597 1557.3,2596.5 1557.9,2596 1557.8,2595.5 1557.2,2595 1557.6,2594.5 1557.6,2594 1556.1,2593.5 1556.7,2593 1557.1,2592.5 1556.0,2592 1555.9,2591.5 1555.4,2591 1556.3,2590.5 1555.7,2590 1555.6,2589.5 1555.4,2589 1555.7,2588.5 1555.1,2588 1555.0,2587.5 1555.3,2587 1555.5,2586.5 1556.6,2586 1556.4,2585.5 1556.4,2585 1556.0,2584.5 1557.0,2584 1556.3,2583.5 1557.1,2583 1556.9,2582.5 1557.3,2582 1557.2,2581.5 1557.3,2581 1557.6,2580.5 1557.2,2580 1557.4,2579.5 1558.1,2579 1557.2,2578.5 1558.1,2578 1557.5,2577.5 1557.1,2577 1557.7,2576.5 1557.0,2576 1556.7,2575.5 1555.9,2575 1555.7,2574.5 1556.7,2574 1556.5,2573.5 1557.0,2573 1557.7,2572.5 1557.3,2572 1557.7,2571.5 1559.0,2571 1558.8,2570.5 1558.6,2570 1559.9,2569.5 1559.4,2569 1559.1,2568.5 1559.6,2568 1559.7,2567.5 1558.8,2567 1559.6,2566.5 1558.4,2566 1558.2,2565.5 1558.4,2565 1558.2,2564.5 1557.9,2564 1557.5,2563.5 1557.6,2563 1556.5,2562.5 1556.3,2562 1556.1,2561.5 1556.4,2561 1555.6,2560.5 1555.8,2560 1556.0,2559.5 1555.8,2559 1556.2,2558.5 1556.8,2558 1556.4,2557.5 1557.7,2557 1558.1,2556.5 1557.9,2556 1558.0,2555.5 1557.9,2555 1558.7,2554.5 1559.3,2554 1558.8,2553.5 1558.8,2553 1559.7,2552.5 1558.8,2552 1559.4,2551.5 1559.6,2551 1559.2,2550.5 1558.7,2550 1559.0,2549.5 1558.4,2549 1558.7,2548.5 1558.6,2548 1558.3,2547.5 1557.9,2547 1556.6,2546.5 1556.5,2546 1556.6,2545.5 1555.9,2545 1555.9,2544.5 1555.1,2544 1554.9,2543.5 1555.5,2543 1555.8,2542.5 1556.8,2542 1556.8,2541.5 1556.6,2541 1558.1,2540.5 1557.1,2540 1557.6,2539.5 1558.4,2539 1558.3,2538.5 1557.8,2538 1559.8,2537.5 1559.3,2537 1559.3,2536.5 1557.8,2536 1558.0,2535.5 1558.3,2535 1556.8,2534.5 1557.3,2534 1557.1,2533.5 1557.3,2533 1557.0,2532.5 1556.9,2532 1557.1,2531.5 1558.1,2531 1557.8,2530.5 1558.4,2530 1559.5,2529.5 1558.7,2529 1559.0,2528.5 1559.9,2528 1559.8,2527.5 1560.6,2527 1559.9,2526.5 1560.5,2526 1560.1,2525.5 1560.9,2525 1560.7,2524.5 1559.6,2524 1559.8,2523.5 1559.8,2523 1559.6,2522.5 1559.6,2522 1559.5,2521.5 1558.5,2521 1558.9,2520.5 1558.8,2520 1557.8,2519.5 1557.1,2519 1556.9,2518.5 1557.3,2518 1556.5,2517.5 1556.5,2517 1556.5,2516.5 1556.9,2516 1557.1,2515.5 1557.1,2515 1556.7,2514.5 1557.1,2514 1556.8,2513.5 1558.1,2513 1557.4,2512.5 1557.9,2512 1557.0,2511.5 1556.9,2511 1556.6,2510.5 1556.7,2510 1556.9,2509.5 1556.4,2509 1555.8,2508.5 1555.2,2508 1555.1,2507.5 1555.3,2507 1554.1,2506.5 1555.1,2506 1554.9,2505.5 1553.9,2505 1553.6,2504.5 1555.1,2504 1554.5,2503.5 1555.8,2503 1555.8,2502.5 1555.9,2502 1556.4,2501.5 1555.8,2501 1556.9,2500.5 1557.1,2500 1556.0,2499.5 1556.3,2499 1556.9,2498.5 1555.9,2498 1555.6,2497.5 1556.3,2497 1556.3,2496.5 1555.9,2496 1554.2,2495.5 1554.2,2495 1554.1,2494.5 1554.4,2494 1554.8,2493.5 1555.8,2493 1555.6,2492.5 1555.0,2492 1555.4,2491.5 1555.8,2491 1555.4,2490.5 1555.4,2490 1555.8,2489.5 1556.6,2489 1557.0,2488.5 1559.0,2488 1559.5,2487.5 1559.3,2487 1559.7,2486.5 1560.3,2486 1561.0,2485.5 1560.7,2485 1561.7,2484.5 1562.0,2484 1561.2,2483.5 1561.7,2483 1562.3,2482.5 1561.4,2482 1562.2,2481.5 1561.4,2481 1561.4,2480.5 1560.4,2480 1560.5,2479.5 1560.5,2479 1559.5,2478.5 1560.2,2478 1558.9,2477.5 1558.6,2477 1558.3,2476.5 1556.8,2476 1557.0,2475.5 1557.0,2475 1556.9,2474.5 1556.2,2474 1556.1,2473.5 1557.6,2473 1558.2,2472.5 1558.8,2472 1559.4,2471.5 1560.1,2471 1559.5,2470.5 1559.9,2470 1559.9,2469.5 1560.6,2469 1560.0,2468.5 1560.9,2468 1559.6,2467.5 1559.6,2467 1559.6,2466.5 1558.5,2466 1557.6,2465.5 1557.0,2465 1556.6,2464.5 1556.2,2464 1557.0,2463.5 1556.0,2463 1556.2,2462.5 1556.5,2462 1556.3,2461.5 1556.2,2461 1555.9,2460.5 1556.4,2460 1556.7,2459.5 1556.1,2459 1556.9,2458.5 1556.3,2458 1556.4,2457.5 1556.9,2457 1557.0,2456.5 1557.0,2456 1557.7,2455.5 1557.9,2455 1558.3,2454.5 1557.4,2454 1557.3,2453.5 1558.5,2453 1557.7,2452.5 1558.2,2452 1558.3,2451.5 1557.4,2451 1557.1,2450.5 1557.8,2450 1556.9,2449.5 1557.0,2449 1556.0,2448.5 1556.6,2448 1556.2,2447.5 1555.7,2447 1555.5,2446.5 1556.3,2446 1556.0,2445.5 1555.0,2445 1554.7,2444.5 1554.5,2444 1554.0,2443.5 1553.9,2443 1555.0,2442.5 1554.0,2442 1554.7,2441.5 1555.3,2441 1555.7,2440.5 1555.6,2440 1556.5,2439.5 1556.4,2439 1556.3,2438.5 1557.7,2438 1557.4,2437.5 1558.7,2437 1559.5,2436.5 1558.8,2436 1560.0,2435.5 1560.4,2435 1560.1,2434.5 1561.1,2434 1560.2,2433.5 1560.8,2433 1561.8,2432.5 1562.4,2432 1563.2,2431.5 1561.7,2431 1560.4,2430.5 1559.8,2430 1559.8,2429.5 1559.4,2429 1558.8,2428.5 1558.5,2428 1557.5,2427.5 1557.8,2427 1557.7,2426.5 1557.4,2426 1556.3,2425.5 1556.5,2425 1555.5,2424.5 1556.5,2424 1555.8,2423.5 1555.0,2423 1555.2,2422.5 1554.6,2422 1554.8,2421.5 1554.9,2421 1554.8,2420.5 1554.9,2420 1554.3,2419.5 1554.1,2419 1554.3,2418.5 1554.1,2418 1554.3,2417.5 1555.7,2417 1556.1,2416.5 1556.2,2416 1555.5,2415.5 1556.4,2415 1556.0,2414.5 1556.4,2414 1557.3,2413.5 1557.7,2413 1556.7,2412.5 1557.9,2412 1557.9,2411.5 1557.9,2411 1557.2,2410.5 1557.5,2410 1558.1,2409.5 1557.3,2409 1557.1,2408.5 1557.5,2408 1556.9,2407.5 1556.8,2407 1556.4,2406.5 1556.1,2406 1555.6,2405.5 1556.0,2405 1555.9,2404.5 1555.5,2404 1555.5,2403.5 1555.8,2403 1555.2,2402.5 1555.5,2402 1555.0,2401.5 1555.9,2401 1555.0,2400.5 1555.4,2400 1554.9,2399.5 1555.6,2399 1556.0,2398.5 1555.6,2398 1554.7,2397.5 1554.8,2397 1554.8,2396.5 1556.3,2396 1555.7,2395.5 1557.0,2395 1557.4,2394.5 1557.8,2394 1557.6,2393.5 1557.9,2393 1558.1,2392.5 1558.8,2392 1558.9,2391.5 1559.5,2391 1559.4,2390.5 1560.2,2390 1560.1,2389.5 1559.8,2389 1560.1,2388.5 1560.0,2388 1561.0,2387.5 1559.8,2387 1560.2,2386.5 1560.2,2386 1560.4,2385.5 1559.5,2385 1560.1,2384.5 1559.2,2384 1559.1,2383.5 1558.8,2383 1558.1,2382.5 1558.9,2382 1557.0,2381.5 1557.8,2381 1558.7,2380.5 1559.6,2380 1559.6,2379.5 1559.8,2379 1559.9,2378.5 1560.2,2378 1559.9,2377.5 1559.6,2377 1560.0,2376.5 1559.9,2376 1559.7,2375.5 1559.0,2375 1558.0,2374.5 1556.8,2374 1556.5,2373.5 1555.0,2373 1554.7,2372.5 1554.3,2372 1553.7,2371.5 1553.6,2371 1554.7,2370.5 1554.3,2370 1554.0,2369.5 1555.1,2369 1554.9,2368.5 1554.7,2368 1556.0,2367.5 1555.3,2367 1555.5,2366.5 1556.1,2366 1555.9,2365.5 1556.2,2365 1556.4,2364.5 1557.2,2364 1556.8,2363.5 1556.6,2363 1557.2,2362.5 1557.3,2362 1557.2,2361.5 1555.9,2361 1556.8,2360.5 1556.6,2360 1556.6,2359.5 1556.6,2359 1556.6,2358.5 1556.8,2358 1558.4,2357.5 1558.7,2357 1558.3,2356.5 1559.0,2356 1558.8,2355.5 1559.1,2355 1559.8,2354.5 1559.2,2354 1559.1,2353.5 1559.9,2353 1559.8,2352.5 1560.0,2352 1558.6,2351.5 1558.7,2351 1558.2,2350.5 1559.0,2350 1558.5,2349.5 1557.2,2349 1557.2,2348.5 1557.0,2348 1556.3,2347.5 1555.6,2347 1555.7,2346.5 1555.4,2346 1555.3,2345.5 1555.5,2345 1556.2,2344.5 1555.8,2344 1557.4,2343.5 1557.3,2343 1557.5,2342.5 1558.9,2342 1559.4,2341.5 1559.9,2341 1559.9,2340.5 1561.4,2340 1561.7,2339.5 1562.0,2339 1561.1,2338.5 1560.3,2338 1560.4,2337.5 1559.9,2337 1560.3,2336.5 1559.6,2336 1559.3,2335.5 1558.6,2335 1557.7,2334.5 1558.2,2334 1558.2,2333.5 1557.5,2333 1557.0,2332.5 1557.5,2332 1557.3,2331.5 1556.9,2331 1557.0,2330.5 1556.9,2330 1556.4,2329.5 1555.8,2329 1556.0,2328.5 1555.2,2328 1554.8,2327.5 1554.0,2327 1553.9,2326.5 1553.7,2326 1553.3,2325.5 1553.1,2325 1552.7,2324.5 1552.4,2324 1552.9,2323.5 1552.6,2323 1553.0,2322.5 1552.8,2322 1553.1,2321.5 1553.0,2321 1552.0,2320.5 1552.8,2320 1553.2,2319.5 1552.6,2319 1553.3,2318.5 1553.7,2318 1554.4,2317.5 1555.9,2317 1556.3,2316.5 1555.7,2316 1555.9,2315.5 1556.5,2315 1557.9,2314.5 1557.6,2314 1558.3,2313.5 1558.3,2313 1558.6,2312.5 1559.1,2312 1559.7,2311.5 1558.6,2311 1559.2,2310.5 1559.6,2310 1559.7,2309.5 1559.4,2309 1558.9,2308.5 1558.4,2308 1558.4,2307.5 1558.6,2307 1558.6,2306.5 1557.8,2306 1557.8,2305.5 1557.5,2305 1557.9,2304.5 1558.2,2304 1557.4,2303.5 1557.5,2303 1557.3,2302.5 1556.8,2302 1557.6,2301.5 1556.3,2301 1556.6,2300.5 1557.2,2300 1556.6,2299.5 1556.2,2299 1555.9,2298.5 1556.0,2298 1556.4,2297.5 1556.2,2297 1556.1,2296.5 1556.5,2296 1555.6,2295.5 1555.4,2295 1556.1,2294.5 1556.9,2294 1556.8,2293.5 1557.2,2293 1557.3,2292.5 1556.4,2292 1557.4,2291.5 1556.9,2291 1557.6,2290.5 1557.9,2290 1557.9,2289.5 1557.0,2289 1557.2,2288.5 1556.9,2288 1557.7,2287.5 1557.4,2287 1557.1,2286.5 1556.8,2286 1556.8,2285.5 1556.1,2285 1555.8,2284.5 1556.8,2284 1556.6,2283.5 1556.2,2283 1556.3,2282.5 1555.7,2282 1555.7,2281.5 1555.4,2281 1556.2,2280.5 1556.4,2280 1555.6,2279.5 1555.4,2279 1556.1,2278.5 1556.5,2278 1557.5,2277.5 1557.1,2277 1557.4,2276.5 1557.9,2276 1558.7,2275.5 1558.7,2275 1558.0,2274.5 1558.2,2274 1558.2,2273.5 1559.1,2273 1559.2,2272.5 1558.5,2272 1558.6,2271.5 1559.4,2271 1558.1,2270.5 1558.9,2270 1558.9,2269.5 1558.5,2269 1557.8,2268.5 1558.2,2268 1558.2,2267.5 1557.4,2267 1557.2,2266.5 1556.8,2266 1556.8,2265.5 1556.1,2265 1555.7,2264.5 1555.5,2264 1555.0,2263.5 1555.5,2263 1555.5,2262.5 1555.9,2262 1555.6,2261.5 1556.1,2261 1556.8,2260.5 1558.1,2260 1558.4,2259.5 1559.0,2259 1558.6,2258.5 1559.3,2258 1559.1,2257.5 1559.4,2257 1559.8,2256.5 1559.8,2256 1560.8,2255.5 1559.5,2255 1559.9,2254.5 1559.2,2254 1560.1,2253.5 1558.7,2253 1559.5,2252.5 1558.3,2252 1558.0,2251.5 1557.1,2251 1557.2,2250.5 1555.7,2250 1556.5,2249.5 1556.4,2249 1556.0,2248.5 1556.6,2248 1556.7,2247.5 1555.8,2247 1557.0,2246.5 1556.9,2246 1556.8,2245.5 1557.0,2245 1556.1,2244.5 1555.8,2244 1556.2,2243.5 1556.8,2243 1556.4,2242.5 1555.6,2242 1556.4,2241.5 1556.5,2241 1556.4,2240.5 1556.9,2240 1557.4,2239.5 1556.9,2239 1557.5,2238.5 1557.2,2238 1557.6,2237.5 1557.7,2237 1556.7,2236.5 1556.7,2236 1557.2,2235.5 1556.8,2235 1556.6,2234.5 1556.1,2234 1556.5,2233.5 1557.2,2233 1556.2,2232.5 1555.7,2232 1555.8,2231.5 1555.9,2231 1554.9,2230.5 1554.8,2230 1555.0,2229.5 1554.5,2229 1555.1,2228.5 1554.4,2228 1554.4,2227.5 1555.8,2227 1555.7,2226.5 1555.7,2226 1555.8,2225.5 1555.4,2225 1555.9,2224.5 1557.0,2224 1557.8,2223.5 1558.0,2223 1558.4,2222.5 1558.2,2222 1559.8,2221.5 1559.1,2221 1559.6,2220.5 1560.4,2220 1560.7,2219.5 1560.0,2219 1560.1,2218.5 1560.7,2218 1560.1,2217.5 1559.4,2217 1559.4,2216.5 1559.3,2216 1558.6,2215.5 1558.5,2215 1559.8,2214.5 1559.8,2214 1559.8,2213.5 1559.1,2213 1559.1,2212.5 1559.9,2212 1558.6,2211.5 1559.1,2211 1558.9,2210.5 1559.3,2210 1559.0,2209.5 1559.3,2209 1559.0,2208.5 1558.3,2208 1558.4,2207.5 1557.7,2207 1556.9,2206.5 1557.1,2206 1556.5,2205.5 1557.1,2205 1556.6,2204.5 1555.4,2204 1555.9,2203.5 1555.5,2203 1555.4,2202.5 1554.0,2202 1554.5,2201.5 1553.8,2201 1554.3,2200.5 1554.2,2200 1554.2,2199.5 1554.3,2199 1555.2,2198.5 1555.5,2198 1556.7,2197.5 1556.6,2197 1557.9,2196.5 1557.4,2196 1558.4,2195.5 1558.1,2195 1559.4,2194.5 1559.9,2194 1559.8,2193.5 1559.6,2193 1559.6,2192.5 1560.0,2192 1558.9,2191.5 1559.1,2191 1559.1,2190.5 1558.4,2190 1558.5,2189.5 1558.0,2189 1557.3,2188.5 1557.5,2188 1556.7,2187.5 1555.7,2187 1555.4,2186.5 1554.4,2186 1554.9,2185.5 1554.6,2185 1555.2,2184.5 1555.0,2184 1554.3,2183.5 1554.8,2183 1555.5,2182.5 1555.0,2182 1555.7,2181.5 1555.9,2181 1556.4,2180.5 1557.3,2180 1557.7,2179.5 1558.5,2179 1558.5,2178.5 1559.3,2178 1559.7,2177.5 1560.9,2177 1561.1,2176.5 1561.0,2176 1561.1,2175.5 1560.5,2175 1560.6,2174.5 1559.9,2174 1559.0,2173.5 1559.2,2173 1558.7,2172.5 1558.7,2172 1559.9,2171.5 1559.7,2171 1560.0,2170.5 1560.2,2170 1560.8,2169.5 1560.9,2169 1560.7,2168.5 1561.1,2168 1562.0,2167.5 1561.8,2167 1561.1,2166.5 1560.6,2166 1560.7,2165.5 1560.1,2165 1560.1,2164.5 1559.2,2164 1559.2,2163.5 1558.8,2163 1557.5,2162.5 1556.7,2162 1556.4,2161.5 1556.4,2161 1557.3,2160.5 1557.5,2160 1557.2,2159.5 1557.4,2159 1558.0,2158.5 1557.8,2158 1557.3,2157.5 1557.7,2157 1557.5,2156.5 1558.3,2156 1558.5,2155.5 1558.4,2155 1557.6,2154.5 1558.1,2154 1557.5,2153.5 1558.3,2153 1558.3,2152.5 1557.4,2152 1558.0,2151.5 1556.9,2151 1556.9,2150.5 1557.7,2150 1556.5,2149.5 1556.8,2149 1556.7,2148.5 1555.9,2148 1555.5,2147.5 1555.4,2147 1555.4,2146.5 1555.0,2146 1555.9,2145.5 1555.5,2145 1555.8,2144.5 1555.3,2144 1554.9,2143.5 1554.8,2143 1554.8,2142.5 1556.4,2142 1556.5,2141.5 1556.7,2141 1557.8,2140.5 1557.2,2140 1557.3,2139.5 1557.3,2139 1557.4,2138.5 1557.5,2138 1557.9,2137.5 1557.8,2137 1557.8,2136.5 1558.1,2136 1557.3,2135.5 1557.5,2135 1557.1,2134.5 1557.5,2134 1556.8,2133.5 1557.0,2133 1556.0,2132.5 1555.4,2132 1555.1,2131.5 1555.4,2131 1554.1,2130.5 1554.6,2130 1555.7,2129.5 1554.9,2129 1556.1,2128.5 1556.0,2128 1556.1,2127.5 1557.4,2127 1557.6,2126.5 1557.0,2126 1557.2,2125.5 1558.1,2125 1557.8,2124.5 1559.2,2124 1558.6,2123.5 1558.8,2123 1558.6,2122.5 1559.6,2122 1560.3,2121.5 1560.0,2121 1561.1,2120.5 1561.1,2120 1561.6,2119.5 1561.9,2119 1561.8,2118.5 1561.2,2118 1560.9,2117.5 1561.2,2117 1560.6,2116.5 1560.3,2116 1559.6,2115.5 1559.0,2115 1558.5,2114.5 1558.7,2114 1558.5,2113.5 1558.0,2113 1556.4,2112.5 1555.5,2112 1555.0,2111.5 1555.1,2111 1556.0,2110.5 1555.3,2110 1555.3,2109.5 1555.0,2109 1555.6,2108.5 1554.9,2108 1555.9,2107.5 1554.6,2107 1555.9,2106.5 1555.2,2106 1555.3,2105.5 1555.4,2105 1555.1,2104.5 1556.1,2104 1555.6,2103.5 1555.8,2103 1556.3,2102.5 1556.1,2102 1556.4,2101.5 1555.5,2101 1555.9,2100.5 1555.8,2100 1556.3,2099.5 1556.0,2099 1556.8,2098.5 1555.8,2098 1556.0,2097.5 1556.2,2097 1556.2,2096.5 1557.5,2096 1557.7,2095.5 1558.6,2095 1558.3,2094.5 1559.2,2094 1559.5,2093.5 1559.0,2093 1559.9,2092.5 1560.0,2092 1559.0,2091.5 1559.5,2091 1559.9,2090.5 1558.8,2090 1559.5,2089.5 1558.5,2089 1558.9,2088.5 1558.0,2088 1558.4,2087.5 1557.9,2087 1556.9,2086.5 1555.9,2086 1556.3,2085.5 1555.7,2085 1554.6,2084.5 1555.4,2084 1554.6,2083.5 1554.7,2083 1554.2,2082.5 1554.9,2082 1554.6,2081.5 1554.0,2081 1555.7,2080.5 1555.1,2080 1555.3,2079.5 1556.4,2079 1556.3,2078.5 1557.1,2078 1556.8,2077.5 1557.3,2077 1557.8,2076.5 1558.3,2076 1557.5,2075.5 1557.7,2075 1558.4,2074.5 1558.1,2074 1559.1,2073.5 1558.5,2073 1558.6,2072.5 1558.2,2072 1558.5,2071.5 1558.6,2071 1558.3,2070.5 1558.1,2070 1558.1,2069.5 1558.5,2069 1557.3,2068.5 1557.4,2068 1557.4,2067.5 1556.5,2067 1557.5,2066.5 1557.6,2066 1557.9,2065.5 1558.3,2065 1558.8,2064.5 1560.3,2064 1559.5,2063.5 1560.5,2063 1560.8,2062.5 1561.0,2062 1560.9,2061.5 1561.0,2061 1561.2,2060.5 1561.6,2060 1560.7,2059.5 1561.0,2059 1561.2,2058.5 1560.9,2058 1561.0,2057.5 1560.5,2057 1561.0,2056.5 1559.7,2056 1560.4,2055.5 1558.8,2055 1559.6,2054.5 1558.3,2054 1558.1,2053.5 1557.8,2053 1558.0,2052.5 1556.9,2052 1557.9,2051.5 1558.7,2051 1558.6,2050.5 1559.2,2050 1559.9,2049.5 1559.8,2049 1559.2,2048.5 1559.3,2048 1559.6,2047.5 1559.8,2047 1559.9,2046.5 1559.5,2046 1559.2,2045.5 1558.6,2045 1558.3,2044.5 1557.9,2044 1557.3,2043.5 1556.4,2043 1556.4,2042.5 1556.6,2042 1557.4,2041.5 1556.4,2041 1557.1,2040.5 1556.3,2040 1556.8,2039.5 1556.9,2039 1557.0,2038.5 1556.4,2038 1556.3,2037.5 1555.7,2037 1556.6,2036.5 1555.6,2036 1555.4,2035.5 1556.4,2035 1555.9,2034.5 1555.8,2034 1555.4,2033.5 1556.4,2033 1556.1,2032.5 1556.3,2032 1556.6,2031.5 1557.4,2031 1558.0,2030.5 1557.9,2030 1558.2,2029.5 1559.4,2029 1559.4,2028.5 1560.3,2028 1561.6,2027.5 1562.2,2027 1561.2,2026.5 1560.0,2026 1560.4,2025.5 1560.4,2025 1559.6,2024.5 1559.6,2024 1558.8,2023.5 1560.0,2023 1560.1,2022.5 1560.1,2022 1561.0,2021.5 1561.3,2021 1560.5,2020.5 1560.2,2020 1560.8,2019.5 1561.0,2019 1559.5,2018.5 1560.0,2018 1559.3,2017.5 1558.8,2017 1557.2,2016.5 1557.1,2016 1555.7,2015.5 1555.9,2015 1555.2,2014.5 1554.7,2014 1554.5,2013.5 1554.7,2013 1553.8,2012.5 1555.0,2012 1554.2,2011.5 1554.2,2011 1553.7,2010.5 1553.9,2010 1555.1,2009.5 1554.2,2009 1554.8,2008.5 1555.2,2008 1555.3,2007.5 1555.1,2007 1555.6,2006.5 1556.0,2006 1555.3,2005.5 1555.7,2005 1556.2,2004.5 1556.5,2004 1556.6,2003.5 1556.0,2003 1556.5,2002.5 1556.8,2002 1557.7,2001.5 1559.0,2001 1559.8,2000.5 1561.2,2000 1561.6,1999.5 1563.3,1999 1563.5,1998.5 1564.2,1998 1563.9,1997.5 1563.8,1997 1564.7,1996.5 1563.6,1996 1564.2,1995.5 1563.7,1995 1563.3,1994.5 1562.2,1994 1561.5,1993.5 1559.9,1993 1560.5,1992.5 1560.6,1992 1561.2,1991.5 1561.6,1991 1560.3,1990.5 1560.7,1990 1559.9,1989.5 1559.6,1989 1560.1,1988.5 1559.9,1988 1558.9,1987.5 1558.3,1987 1557.0,1986.5 1556.5,1986 1556.3,1985.5 1555.1,1985 1555.4,1984.5 1555.1,1984 1555.0,1983.5 1554.9,1983 1555.6,1982.5 1555.0,1982 1555.9,1981.5 1554.9,1981 1555.4,1980.5 1554.9,1980 1555.5,1979.5 1554.5,1979 1555.7,1978.5 1554.7,1978 1555.4,1977.5 1554.8,1977 1554.4,1976.5 1555.4,1976 1555.5,1975.5 1556.9,1975 1556.5,1974.5 1556.6,1974 1557.6,1973.5 1557.9,1973 1558.2,1972.5 1558.4,1972 1557.6,1971.5 1558.8,1971 1558.6,1970.5 1558.4,1970 1557.1,1969.5 1557.3,1969 1556.9,1968.5 1557.6,1968 1556.4,1967.5 1556.1,1967 1555.1,1966.5 1555.7,1966 1554.8,1965.5 1555.4,1965 1555.8,1964.5 1555.3,1964 1555.2,1963.5 1555.6,1963 1555.2,1962.5 1556.3,1962 1557.2,1961.5 1556.9,1961 1557.1,1960.5 1558.0,1960 1557.9,1959.5 1559.4,1959 1559.8,1958.5 1559.6,1958 1559.8,1957.5 1560.1,1957 1560.0,1956.5 1560.4,1956 1560.7,1955.5 1561.1,1955 1560.4,1954.5 1560.1,1954 1560.5,1953.5 1559.8,1953 1560.1,1952.5 1560.2,1952 1560.5,1951.5 1559.9,1951 1560.2,1950.5 1559.7,1950 1559.6,1949.5 1559.1,1949 1558.0,1948.5 1557.3,1948 1558.1,1947.5 1558.8,1947 1558.8,1946.5 1559.8,1946 1559.9,1945.5 1560.4,1945 1559.4,1944.5 1560.7,1944 1560.7,1943.5 1559.6,1943 1560.2,1942.5 1559.0,1942 1559.5,1941.5 1559.0,1941 1558.3,1940.5 1556.4,1940 1556.1,1939.5 1556.6,1939 1556.2,1938.5 1556.5,1938 1557.3,1937.5 1557.3,1937 1556.3,1936.5 1556.3,1936 1557.2,1935.5 1556.9,1935 1556.2,1934.5 1557.5,1934 1556.4,1933.5 1556.2,1933 1557.3,1932.5 1557.2,1932 1556.1,1931.5 1556.7,1931 1557.8,1930.5 1558.2,1930 1558.3,1929.5 1558.3,1929 1558.6,1928.5 1557.9,1928 1558.4,1927.5 1558.6,1927 1558.6,1926.5 1558.2,1926 1558.5,1925.5 1559.1,1925 1560.4,1924.5 1560.3,1924 1558.8,1923.5 1556.9,1923 1556.9,1922.5 1556.9,1922 1556.0,1921.5 1556.2,1921 1556.8,1920.5 1556.7,1920 1555.8,1919.5 1555.6,1919 1554.8,1918.5 1555.1,1918 1555.3,1917.5 1554.0,1917 1554.6,1916.5 1555.8,1916 1556.1,1915.5 1556.8,1915 1557.8,1914.5 1557.6,1914 1558.3,1913.5 1558.6,1913 1558.8,1912.5 1559.3,1912 1560.3,1911.5 1560.2,1911 1559.7,1910.5 1559.2,1910 1559.6,1909.5 1559.1,1909 1559.1,1908.5 1558.7,1908 1558.1,1907.5 1558.2,1907 1559.0,1906.5 1559.1,1906 1558.8,1905.5 1558.3,1905 1559.1,1904.5 1557.8,1904 1559.0,1903.5 1558.5,1903 1557.5,1902.5 1557.4,1902 1558.1,1901.5 1558.1,1901 1556.7,1900.5 1557.2,1900 1557.3,1899.5 1556.7,1899 1556.8,1898.5 1556.5,1898 1555.2,1897.5 1554.8,1897 1555.7,1896.5 1554.6,1896 1555.2,1895.5 1555.1,1895 1554.2,1894.5 1554.5,1894 1553.6,1893.5 1554.5,1893 1554.5,1892.5 1555.7,1892 1555.4,1891.5 1556.2,1891 1556.0,1890.5 1559.0,1890 1559.6,1889.5 1558.4,1889 1557.5,1888.5 1558.5,1888 1558.3,1887.5 1558.5,1887 1557.8,1886.5 1558.3,1886 1558.4,1885.5 1558.9,1885 1557.9,1884.5 1557.6,1884 1558.1,1883.5 1558.4,1883 1558.9,1882.5 1559.6,1882 1560.6,1881.5 1560.9,1881 1561.1,1880.5 1561.9,1880 1561.2,1879.5 1561.5,1879 1561.6,1878.5 1561.0,1878 1561.7,1877.5 1560.4,1877 1560.1,1876.5 1560.2,1876 1559.0,1875.5 1557.7,1875 1557.0,1874.5 1556.9,1874 1556.6,1873.5 1555.7,1873 1555.2,1872.5 1556.3,1872 1555.3,1871.5 1554.9,1871 1555.3,1870.5 1555.7,1870 1555.1,1869.5 1555.6,1869 1555.8,1868.5 1555.4,1868 1555.7,1867.5 1555.3,1867 1554.6,1866.5 1555.5,1866 1555.0,1865.5 1555.9,1865 1556.2,1864.5 1556.7,1864 1558.3,1863.5 1558.4,1863 1559.9,1862.5 1560.8,1862 1561.9,1861.5 1561.8,1861 1561.9,1860.5 1563.1,1860 1563.2,1859.5 1563.1,1859 1563.8,1858.5 1562.4,1858 1563.3,1857.5 1561.9,1857 1561.7,1856.5 1561.8,1856 1560.2,1855.5 1560.4,1855 1558.7,1854.5 1558.1,1854 1557.8,1853.5 1557.2,1853 1557.8,1852.5 1557.8,1852 1557.5,1851.5 1556.3,1851 1556.7,1850.5 1555.9,1850 1556.3,1849.5 1555.8,1849 1556.0,1848.5 1556.2,1848 1555.9,1847.5 1555.7,1847 1555.9,1846.5 1557.3,1846 1557.7,1845.5 1558.6,1845 1559.2,1844.5 1558.2,1844 1559.6,1843.5 1559.0,1843 1558.5,1842.5 1559.1,1842 1558.7,1841.5 1558.9,1841 1558.2,1840.5 1557.2,1840 1557.0,1839.5 1556.2,1839 1554.6,1838.5 1554.4,1838 1555.0,1837.5 1555.4,1837 1555.4,1836.5 1555.4,1836 1554.8,1835.5 1555.8,1835 1555.7,1834.5 1556.0,1834 1555.7,1833.5 1555.2,1833 1555.6,1832.5 1556.1,1832 1556.9,1831.5 1558.2,1831 1559.2,1830.5 1559.5,1830 1560.2,1829.5 1560.9,1829 1561.9,1828.5 1561.9,1828 1561.2,1827.5 1561.6,1827 1561.9,1826.5 1560.4,1826 1561.0,1825.5 1560.5,1825 1559.2,1824.5 1558.2,1824 1557.8,1823.5 1556.8,1823 1555.8,1822.5 1554.6,1822 1554.7,1821.5 1555.4,1821 1554.5,1820.5 1555.3,1820 1555.0,1819.5 1555.0,1819 1555.2,1818.5 1555.2,1818 1556.0,1817.5 1556.3,1817 1555.9,1816.5 1556.3,1816 1556.7,1815.5 1555.8,1815 1556.5,1814.5 1556.1,1814 1557.3,1813.5 1557.6,1813 1558.0,1812.5 1559.4,1812 1560.5,1811.5 1561.1,1811 1561.0,1810.5 1562.1,1810 1562.5,1809.5 1563.2,1809 1564.0,1808.5 1563.1,1808 1563.9,1807.5 1564.0,1807 1563.9,1806.5 1563.5,1806 1563.6,1805.5 1562.9,1805 1563.3,1804.5 1562.3,1804 1562.6,1803.5 1561.2,1803 1560.5,1802.5 1559.8,1802 1559.8,1801.5 1559.1,1801 1558.2,1800.5 1556.5,1800 1555.5,1799.5 1554.9,1799 1554.9,1798.5 1554.5,1798 1556.1,1797.5 1555.7,1797 1556.1,1796.5 1555.8,1796 1556.5,1795.5 1556.3,1795 1557.6,1794.5 1556.5,1794 1557.1,1793.5 1556.9,1793 1557.3,1792.5 1557.9,1792 1557.5,1791.5 1558.4,1791 1558.4,1790.5 1558.7,1790 1558.2,1789.5 1558.7,1789 1558.3,1788.5 1558.8,1788 1559.2,1787.5 1558.0,1787 1558.6,1786.5 1558.7,1786 1557.7,1785.5 1557.2,1785 1558.2,1784.5 1558.9,1784 1559.6,1783.5 1560.3,1783 1560.1,1782.5 1561.1,1782 1561.2,1781.5 1560.6,1781 1560.5,1780.5 1560.7,1780 1561.0,1779.5 1560.6,1779 1559.7,1778.5 1559.2,1778 1558.5,1777.5 1558.0,1777 1555.9,1776.5 1556.7,1776 1556.2,1775.5 1556.1,1775 1556.3,1774.5 1555.1,1774 1555.5,1773.5 1555.9,1773 1554.7,1772.5 1555.1,1772 1554.5,1771.5 1555.0,1771 1554.7,1770.5 1553.9,1770 1553.8,1769.5 1554.1,1769 1554.2,1768.5 1554.7,1768 1555.5,1767.5 1555.3,1767 1555.0,1766.5 1555.8,1766 1556.8,1765.5 1555.9,1765 1556.7,1764.5 1556.7,1764 1557.5,1763.5 1557.2,1763 1557.2,1762.5 1557.6,1762 1558.3,1761.5 1558.3,1761 1559.0,1760.5 1558.2,1760 1558.9,1759.5 1559.3,1759 1558.0,1758.5 1558.6,1758 1558.2,1757.5 1558.3,1757 1558.0,1756.5 1558.4,1756 1557.4,1755.5 1558.0,1755 1556.7,1754.5 1556.9,1754 1557.3,1753.5 1556.6,1753 1556.6,1752.5 1556.8,1752 1557.2,1751.5 1557.4,1751 1557.0,1750.5 1556.4,1750 1557.8,1749.5 1559.1,1749 1558.9,1748.5 1559.0,1748 1559.4,1747.5 1560.3,1747 1561.3,1746.5 1561.6,1746 1561.5,1745.5 1561.0,1745 1561.4,1744.5 1561.3,1744 1561.7,1743.5 1562.1,1743 1561.0,1742.5 1561.5,1742 1560.8,1741.5 1561.2,1741 1561.1,1740.5 1560.7,1740 1559.8,1739.5 1560.2,1739 1558.5,1738.5 1558.3,1738 1557.5,1737.5 1557.5,1737 1555.9,1736.5 1557.0,1736 1557.4,1735.5 1558.4,1735 1560.1,1734.5 1560.5,1734 1561.4,1733.5 1561.2,1733 1561.7,1732.5 1561.7,1732 1562.4,1731.5 1561.5,1731 1561.5,1730.5 1561.5,1730 1560.5,1729.5 1560.0,1729 1558.9,1728.5 1559.3,1728 1557.6,1727.5 1556.1,1727 1555.7,1726.5 1556.0,1726 1555.9,1725.5 1555.6,1725 1555.8,1724.5 1555.7,1724 1556.1,1723.5 1555.3,1723 1556.5,1722.5 1556.3,1722 1555.0,1721.5 1555.6,1721 1556.0,1720.5 1555.0,1720 1557.6,1719.5 1558.6,1719 1557.9,1718.5 1558.8,1718 1560.2,1717.5 1559.6,1717 1560.5,1716.5 1560.8,1716 1559.8,1715.5 1560.5,1715 1560.0,1714.5 1560.4,1714 1559.0,1713.5 1559.4,1713 1558.0,1712.5 1558.2,1712 1557.3,1711.5 1557.0,1711 1555.9,1710.5 1555.1,1710 1554.9,1709.5 1554.4,1709 1554.6,1708.5 1554.4,1708 1554.8,1707.5 1555.1,1707 1554.7,1706.5 1554.0,1706 1554.5,1705.5 1554.5,1705 1555.1,1704.5 1554.3,1704 1554.5,1703.5 1555.0,1703 1554.9,1702.5 1554.9,1702 1555.1,1701.5 1554.7,1701 1554.7,1700.5 1555.3,1700 1555.6,1699.5 1556.0,1699 1555.7,1698.5 1555.8,1698 1556.9,1697.5 1557.0,1697 1556.2,1696.5 1557.2,1696 1556.7,1695.5 1556.8,1695 1558.8,1694.5 1559.2,1694 1560.4,1693.5 1560.2,1693 1560.1,1692.5 1561.0,1692 1561.7,1691.5 1561.3,1691 1562.1,1690.5 1561.5,1690 1562.1,1689.5 1561.0,1689 1561.7,1688.5 1560.7,1688 1560.5,1687.5 1560.9,1687 1559.5,1686.5 1559.8,1686 1561.3,1685.5 1561.2,1685 1561.0,1684.5 1561.0,1684 1560.9,1683.5 1561.1,1683 1561.2,1682.5 1560.1,1682 1560.1,1681.5 1559.9,1681 1559.1,1680.5 1558.6,1680 1558.9,1679.5 1558.9,1679 1558.1,1678.5 1556.8,1678 1556.1,1677.5 1556.2,1677 1555.4,1676.5 1555.0,1676 1554.3,1675.5 1554.3,1675 1555.1,1674.5 1554.6,1674 1555.0,1673.5 1554.3,1673 1555.0,1672.5 1554.8,1672 1554.3,1671.5 1554.4,1671 1554.6,1670.5 1554.8,1670 1555.1,1669.5 1555.7,1669 1554.7,1668.5 1554.8,1668 1555.3,1667.5 1554.9,1667 1554.6,1666.5 1555.4,1666 1555.3,1665.5 1555.6,1665 1555.4,1664.5 1554.8,1664 1555.3,1663.5 1554.8,1663 1554.7,1662.5 1556.4,1662 1556.8,1661.5 1557.1,1661 1557.0,1660.5 1557.0,1660 1557.0,1659.5 1557.1,1659 1556.9,1658.5 1557.8,1658 1557.3,1657.5 1558.0,1657 1557.3,1656.5 1557.1,1656 1557.7,1655.5 1557.8,1655 1557.4,1654.5 1557.0,1654 1556.7,1653.5 1557.4,1653 1556.6,1652.5 1557.9,1652 1557.8,1651.5 1558.5,1651 1558.2,1650.5 1559.4,1650 1558.8,1649.5 1560.2,1649 1559.1,1648.5 1560.3,1648 1559.9,1647.5 1561.0,1647 1560.6,1646.5 1560.9,1646 1560.6,1645.5 1560.9,1645 1560.2,1644.5 1560.3,1644 1560.5,1643.5 1559.6,1643 1559.7,1642.5 1559.3,1642 1559.0,1641.5 1558.7,1641 1558.0,1640.5 1558.1,1640 1557.3,1639.5 1557.7,1639 1558.0,1638.5 1557.4,1638 1557.5,1637.5 1557.7,1637 1557.8,1636.5 1558.4,1636 1560.0,1635.5 1560.1,1635 1560.8,1634.5 1561.0,1634 1562.0,1633.5 1561.6,1633 1561.8,1632.5 1562.0,1632 1561.1,1631.5 1561.8,1631 1560.2,1630.5 1559.8,1630 1560.1,1629.5 1559.2,1629 1557.1,1628.5 1555.8,1628 1555.7,1627.5 1555.2,1627 1555.5,1626.5 1555.7,1626 1556.6,1625.5 1555.4,1625 1556.3,1624.5 1555.7,1624 1556.3,1623.5 1556.5,1623 1558.4,1622.5 1559.3,1622 1558.7,1621.5 1560.5,1621 1560.8,1620.5 1560.4,1620 1561.0,1619.5 1560.6,1619 1561.1,1618.5 1561.1,1618 1561.7,1617.5 1561.7,1617 1561.4,1616.5 1561.4,1616 1561.5,1615.5 1561.1,1615 1560.9,1614.5 1561.6,1614 1560.6,1613.5 1559.8,1613 1560.4,1612.5 1559.0,1612 1558.5,1611.5 1557.7,1611 1558.2,1610.5 1557.1,1610 1556.6,1609.5 1555.7,1609 1555.3,1608.5 1554.3,1608 1554.1,1607.5 1553.7,1607 1553.9,1606.5 1553.2,1606 1554.1,1605.5 1553.7,1605 1553.1,1604.5 1553.6,1604 1554.6,1603.5 1553.8,1603 1553.7,1602.5 1555.1,1602 1554.8,1601.5 1556.2,1601 1556.8,1600.5 1557.4,1600 1558.2,1599.5 1559.7,1599 1559.6,1598.5 1560.5,1598 1560.8,1597.5 1560.7,1597 1562.0,1596.5 1562.3,1596 1561.3,1595.5 1561.2,1595 1562.1,1594.5 1561.2,1594 1562.0,1593.5 1561.2,1593 1560.8,1592.5 1560.1,1592 1559.9,1591.5 1558.9,1591 1557.5,1590.5 1557.5,1590 1557.9,1589.5 1557.4,1589 1556.9,1588.5 1557.3,1588 1555.9,1587.5 1555.9,1587 1555.9,1586.5 1555.2,1586 1555.0,1585.5 1555.8,1585 1555.1,1584.5 1555.2,1584 1554.3,1583.5 1555.1,1583 1555.0,1582.5 1554.0,1582 1553.7,1581.5 1553.8,1581 1553.7,1580.5 1553.8,1580 1555.3,1579.5 1556.3,1579 1557.2,1578.5 1557.5,1578 1558.4,1577.5 1558.8,1577 1558.5,1576.5 1559.2,1576 1559.8,1575.5 1560.1,1575 1560.8,1574.5 1561.7,1574 1562.2,1573.5 1562.0,1573 1562.3,1572.5 1562.5,1572 1562.6,1571.5 1562.2,1571 1562.0,1570.5 1562.0,1570 1561.9,1569.5 1560.9,1569 1561.0,1568.5 1560.5,1568 1560.2,1567.5 1558.5,1567 1558.9,1566.5 1558.5,1566 1558.3,1565.5 1558.1,1565 1557.5,1564.5 1557.6,1564 1557.3,1563.5 1557.4,1563 1556.6,1562.5 1556.3,1562 1557.8,1561.5 1557.3,1561 1558.3,1560.5 1558.8,1560 1559.9,1559.5 1559.2,1559 1559.2,1558.5 1559.6,1558 1559.8,1557.5 1560.1,1557 1559.7,1556.5 1558.6,1556 1559.4,1555.5 1559.0,1555 1557.5,1554.5 1558.0,1554 1557.6,1553.5 1556.9,1553 1556.5,1552.5 1556.3,1552 1557.3,1551.5 1558.1,1551 1558.7,1550.5 1558.9,1550 1559.7,1549.5 1559.8,1549 1559.8,1548.5 1560.8,1548 1560.2,1547.5 1559.8,1547 1560.9,1546.5 1560.0,1546 1560.4,1545.5 1560.3,1545 1559.9,1544.5 1559.3,1544 1558.3,1543.5 1557.9,1543 1556.5,1542.5 1557.2,1542 1556.6,1541.5 1556.8,1541 1557.3,1540.5 1556.3,1540 1557.2,1539.5 1556.9,1539 1557.0,1538.5 1556.9,1538 1556.2,1537.5 1556.9,1537 1556.4,1536.5 1555.9,1536 1555.4,1535.5 1555.4,1535 1555.0,1534.5 1555.2,1534 1554.9,1533.5 1554.6,1533 1554.5,1532.5 1555.5,1532 1556.5,1531.5 1557.0,1531 1557.8,1530.5 1558.0,1530 1558.5,1529.5 1559.4,1529 1559.4,1528.5 1560.0,1528 1559.5,1527.5 1560.0,1527 1559.9,1526.5 1562.4,1526 1562.6,1525.5 1560.7,1525 1559.2,1524.5 1557.6,1524 1556.6,1523.5 1556.6,1523 1555.2,1522.5 1555.4,1522 1555.7,1521.5 1555.9,1521 1556.2,1520.5 1556.3,1520 1556.4,1519.5 1557.2,1519 1556.7,1518.5 1557.5,1518 1557.3,1517.5 1557.6,1517 1557.0,1516.5 1556.9,1516 1557.2,1515.5 1557.8,1515 1556.5,1514.5 1558.1,1514 1559.1,1513.5 1559.3,1513 1559.2,1512.5 1560.8,1512 1560.2,1511.5 1561.7,1511 1562.6,1510.5 1563.1,1510 1563.7,1509.5 1562.4,1509 1561.0,1508.5 1561.8,1508 1561.7,1507.5 1561.0,1507 1560.8,1506.5 1560.5,1506 1559.9,1505.5 1560.0,1505 1559.3,1504.5 1559.4,1504 1558.6,1503.5 1558.2,1503 1556.3,1502.5 1556.0,1502 1554.9,1501.5 1555.2,1501 1554.9,1500.5 1556.0,1500 1555.4,1499.5 1555.6,1499 1556.0,1498.5 1556.0,1498 1556.1,1497.5 1555.0,1497 1555.1,1496.5 1555.6,1496 1555.8,1495.5 1556.3,1495 1555.4,1494.5 1555.1,1494 1555.3,1493.5 1555.0,1493 1555.9,1492.5 1556.2,1492 1556.2,1491.5 1557.3,1491 1557.0,1490.5 1556.9,1490 1556.9,1489.5 1558.9,1489 1560.2,1488.5 1560.7,1488 1560.7,1487.5 1559.7,1487 1556.7,1486.5 1556.7,1486 1557.0,1485.5 1556.7,1485 1556.2,1484.5 1555.6,1484 1555.3,1483.5 1555.7,1483 1554.6,1482.5 1554.6,1482 1555.1,1481.5 1555.1,1481 1555.3,1480.5 1555.4,1480 1554.8,1479.5 1554.8,1479 1555.3,1478.5 1555.8,1478 1555.2,1477.5 1556.3,1477 1555.3,1476.5 1555.6,1476 1556.0,1475.5 1555.8,1475 1555.9,1474.5 1556.2,1474 1555.9,1473.5 1556.9,1473 1556.9,1472.5 1556.4,1472 1558.8,1471.5 1559.4,1471 1560.5,1470.5 1561.7,1470 1561.8,1469.5 1561.8,1469 1562.5,1468.5 1562.7,1468 1564.0,1467.5 1563.4,1467 1563.3,1466.5 1564.0,1466 1563.9,1465.5 1564.4,1465 1563.1,1464.5 1563.1,1464 1562.9,1463.5 1562.2,1463 1562.3,1462.5 1562.3,1462 1561.7,1461.5 1560.6,1461 1559.1,1460.5 1559.3,1460 1557.7,1459.5 1557.3,1459 1556.1,1458.5 1555.4,1458 1554.8,1457.5 1554.3,1457 1554.1,1456.5 1555.3,1456 1555.4,1455.5 1555.7,1455 1556.4,1454.5 1556.9,1454 1557.2,1453.5 1556.6,1453 1558.0,1452.5 1558.0,1452 1558.5,1451.5 1558.4,1451 1558.6,1450.5 1558.2,1450 1558.4,1449.5 1559.2,1449 1558.3,1448.5 1559.0,1448 1558.0,1447.5 1558.2,1447 1558.7,1446.5 1558.0,1446 1557.6,1445.5 1556.6,1445 1556.8,1444.5 1556.8,1444 1558.1,1443.5 1559.3,1443 1558.8,1442.5 1560.1,1442 1560.5,1441.5 1559.7,1441 1560.9,1440.5 1560.9,1440 1560.3,1439.5 1560.3,1439 1561.0,1438.5 1561.7,1438 1561.9,1437.5 1561.5,1437 1560.3,1436.5 1559.3,1436 1559.7,1435.5 1558.7,1435 1558.1,1434.5 1558.0,1434 1556.8,1433.5 1557.3,1433 1555.5,1432.5 1557.3,1432 1557.7,1431.5 1557.9,1431 1557.7,1430.5 1558.5,1430 1557.4,1429.5 1558.0,1429 1558.3,1428.5 1557.8,1428 1558.4,1427.5 1558.4,1427 1557.7,1426.5 1556.9,1426 1556.9,1425.5 1557.3,1425 1557.0,1424.5 1555.7,1424 1554.5,1423.5 1555.0,1423 1553.8,1422.5 1552.9,1422 1553.5,1421.5 1553.3,1421 1554.2,1420.5 1553.5,1420 1554.0,1419.5 1553.3,1419 1553.2,1418.5 1553.4,1418 1552.7,1417.5 1553.2,1417 1553.0,1416.5 1552.8,1416 1553.7,1415.5 1553.3,1415 1553.5,1414.5 1553.3,1414 1552.8,1413.5 1552.9,1413 1552.7,1412.5 1553.8,1412 1554.2,1411.5 1554.5,1411 1555.9,1410.5 1555.3,1410 1556.8,1409.5 1556.2,1409 1556.9,1408.5 1557.5,1408 1559.8,1407.5 1562.7,1407 1561.1,1406.5 1558.3,1406 1556.3,1405.5 1556.1,1405 1555.9,1404.5 1555.6,1404 1554.6,1403.5 1554.5,1403 1555.0,1402.5 1554.7,1402 1554.8,1401.5 1554.9,1401 1554.6,1400.5 1555.3,1400 1554.9,1399.5 1555.1,1399 1555.9,1398.5 1555.0,1398 1555.0,1397.5 1555.4,1397 1557.1,1396.5 1559.3,1396 1559.3,1395.5 1558.9,1395 1557.1,1394.5 1554.4,1394 1553.9,1393.5 1554.2,1393 1554.1,1392.5 1553.0,1392 1553.4,1391.5 1552.4,1391 1552.5,1390.5 1551.6,1390 1551.4,1389.5 1552.9,1389 1554.1,1388.5 1554.8,1388 1556.2,1387.5 1555.9,1387 1556.8,1386.5 1557.9,1386 1557.7,1385.5 1558.6,1385 1559.0,1384.5 1559.0,1384 1560.3,1383.5 1561.5,1383 1561.1,1382.5 1559.3,1382 1559.4,1381.5 1558.7,1381 1558.9,1380.5 1558.6,1380 1557.7,1379.5 1557.2,1379 1555.7,1378.5 1553.9,1378 1555.0,1377.5 1553.9,1377 1553.6,1376.5 1554.4,1376 1553.4,1375.5 1553.8,1375 1553.5,1374.5 1552.8,1374 1553.1,1373.5 1552.4,1373 1553.0,1372.5 1553.0,1372 1552.2,1371.5 1552.1,1371 1551.7,1370.5 1551.7,1370 1552.0,1369.5 1550.8,1369 1551.1,1368.5 1550.1,1368 1551.3,1367.5 1549.9,1367 1550.3,1366.5 1550.2,1366 1550.4,1365.5 1550.0,1365 1551.7,1364.5 1553.2,1364 1554.6,1363.5 1555.6,1363 1555.5,1362.5 1556.0,1362 1556.7,1361.5 1556.9,1361 1558.5,1360.5 1558.8,1360 1558.2,1359.5 1559.4,1359 1558.8,1358.5 1558.8,1358 1558.7,1357.5 1558.7,1357 1557.6,1356.5 1557.3,1356 1557.1,1355.5 1556.5,1355 1555.7,1354.5 1553.4,1354 1553.3,1353.5 1554.8,1353 1555.0,1352.5 1556.1,1352 1556.4,1351.5 1556.7,1351 1556.9,1350.5 1556.9,1350 1556.8,1349.5 1555.8,1349 1556.9,1348.5 1556.9,1348 1555.9,1347.5 1555.7,1347 1556.6,1346.5 1555.3,1346 1554.8,1345.5 1554.9,1345 1554.6,1344.5 1554.2,1344 1553.6,1343.5 1553.6,1343 1553.8,1342.5 1552.2,1342 1552.4,1341.5 1552.6,1341 1552.1,1340.5 1551.9,1340 1553.4,1339.5 1553.5,1339 1554.0,1338.5 1555.6,1338 1556.1,1337.5 1556.7,1337 1555.8,1336.5 1556.9,1336 1557.0,1335.5 1557.4,1335 1557.2,1334.5 1558.5,1334 1557.9,1333.5 1558.6,1333 1557.2,1332.5 1557.7,1332 1557.0,1331.5 1558.0,1331 1557.6,1330.5 1556.1,1330 1555.9,1329.5 1556.1,1329 1556.2,1328.5 1556.4,1328 1557.1,1327.5 1557.3,1327 1558.1,1326.5 1557.3,1326 1558.2,1325.5 1558.8,1325 1557.6,1324.5 1558.1,1324 1558.2,1323.5 1558.4,1323 1558.7,1322.5 1558.0,1322 1557.1,1321.5 1558.0,1321 1556.6,1320.5 1557.2,1320 1555.8,1319.5 1555.4,1319 1555.7,1318.5 1554.9,1318 1555.1,1317.5 1553.4,1317 1553.0,1316.5 1552.3,1316 1552.1,1315.5 1551.0,1315 1551.0,1314.5 1552.4,1314 1554.0,1313.5 1554.9,1313 1555.2,1312.5 1555.8,1312 1556.4,1311.5 1557.6,1311 1557.7,1310.5 1558.7,1310 1558.3,1309.5 1558.9,1309 1559.8,1308.5 1559.3,1308 1560.9,1307.5 1561.0,1307 1560.4,1306.5 1559.9,1306 1560.1,1305.5 1559.9,1305 1559.6,1304.5 1559.4,1304 1558.6,1303.5 1558.0,1303 1557.5,1302.5 1557.0,1302 1556.3,1301.5 1555.8,1301 1554.6,1300.5 1554.7,1300 1555.5,1299.5 1555.5,1299 1555.2,1298.5 1555.8,1298 1555.5,1297.5 1555.0,1297 1558.7,1296.5 1560.2,1296 1559.4,1295.5 1557.7,1295 1553.8,1294.5 1553.8,1294 1554.3,1293.5 1553.3,1293 1553.1,1292.5 1552.1,1292 1552.3,1291.5 1552.5,1291 1552.0,1290.5 1550.6,1290 1552.5,1289.5 1553.5,1289 1553.1,1288.5 1554.8,1288 1554.6,1287.5 1555.8,1287 1556.1,1286.5 1556.9,1286 1557.3,1285.5 1558.2,1285 1558.4,1284.5 1558.1,1284 1558.8,1283.5 1558.7,1283 1558.2,1282.5 1558.7,1282 1558.6,1281.5 1557.7,1281 1558.2,1280.5 1557.0,1280 1556.3,1279.5 1556.7,1279 1555.9,1278.5 1554.2,1278 1553.4,1277.5 1552.8,1277 1553.6,1276.5 1552.6,1276 1553.8,1275.5 1553.5,1275 1552.6,1274.5 1553.3,1274 1553.4,1273.5 1554.7,1273 1556.0,1272.5 1555.4,1272 1556.0,1271.5 1556.9,1271 1557.6,1270.5 1558.3,1270 1557.9,1269.5 1558.1,1269 1558.3,1268.5 1558.5,1268 1559.1,1267.5 1560.3,1267 1559.7,1266.5 1559.6,1266 1559.5,1265.5 1559.7,1265 1559.3,1264.5 1559.1,1264 1559.3,1263.5 1559.0,1263 1559.5,1262.5 1558.5,1262 1557.6,1261.5 1557.2,1261 1557.6,1260.5 1556.8,1260 1556.7,1259.5 1557.6,1259 1557.1,1258.5 1557.3,1258 1557.9,1257.5 1558.9,1257 1559.0,1256.5 1560.0,1256 1562.7,1255.5 1562.4,1255 1560.7,1254.5 1557.6,1254 1557.9,1253.5 1557.8,1253 1557.0,1252.5 1557.0,1252 1555.6,1251.5 1555.7,1251 1554.9,1250.5 1554.2,1250 1552.8,1249.5 1552.2,1249 1552.0,1248.5 1552.2,1248 1551.4,1247.5 1552.0,1247 1551.4,1246.5 1551.5,1246 1550.5,1245.5 1550.4,1245 1550.5,1244.5 1551.1,1244 1550.4,1243.5 1551.8,1243 1552.1,1242.5 1551.5,1242 1551.7,1241.5 1551.6,1241 1552.5,1240.5 1552.3,1240 1552.3,1239.5 1552.1,1239 1553.0,1238.5 1551.8,1238 1552.9,1237.5 1551.7,1237 1552.0,1236.5 1551.5,1236 1551.0,1235.5 1551.7,1235 1552.4,1234.5 1552.9,1234 1553.8,1233.5 1554.4,1233 1555.2,1232.5 1556.2,1232 1556.0,1231.5 1559.9,1231 1561.7,1230.5 1562.5,1230 1559.8,1229.5 1556.4,1229 1556.1,1228.5 1556.1,1228 1556.1,1227.5 1556.5,1227 1555.8,1226.5 1554.8,1226 1554.0,1225.5 1553.7,1225 1553.5,1224.5 1553.9,1224 1553.7,1223.5 1552.5,1223 1553.5,1222.5 1552.3,1222 1552.5,1221.5 1552.4,1221 1552.5,1220.5 1554.1,1220 1554.8,1219.5 1556.0,1219 1556.4,1218.5 1557.3,1218 1558.5,1217.5 1557.6,1217 1558.1,1216.5 1558.6,1216 1559.1,1215.5 1560.4,1215 1560.5,1214.5 1560.3,1214 1561.2,1213.5 1560.0,1213 1560.0,1212.5 1560.1,1212 1560.8,1211.5 1560.6,1211 1559.7,1210.5 1560.2,1210 1559.2,1209.5 1559.1,1209 1558.9,1208.5 1558.4,1208 1557.5,1207.5 1556.5,1207 1555.5,1206.5 1554.9,1206 1554.2,1205.5 1553.9,1205 1553.7,1204.5 1553.6,1204 1552.6,1203.5 1553.2,1203 1553.9,1202.5 1553.3,1202 1553.4,1201.5 1553.3,1201 1553.2,1200.5 1553.3,1200 1553.0,1199.5 1552.8,1199 1555.3,1198.5 1555.5,1198 1556.6,1197.5 1557.8,1197 1557.4,1196.5 1557.7,1196 1558.0,1195.5 1558.5,1195 1558.9,1194.5 1559.5,1194 1559.1,1193.5 1560.4,1193 1560.0,1192.5 1560.1,1192 1560.3,1191.5 1559.1,1191 1558.9,1190.5 1559.3,1190 1558.7,1189.5 1558.0,1189 1556.8,1188.5 1557.0,1188 1555.1,1187.5 1554.4,1187 1554.1,1186.5 1552.4,1186 1551.1,1185.5 1551.4,1185 1550.5,1184.5 1550.2,1184 1551.2,1183.5 1550.2,1183 1551.2,1182.5 1550.5,1182 1550.4,1181.5 1551.2,1181 1550.4,1180.5 1551.4,1180 1550.2,1179.5 1550.2,1179 1550.4,1178.5 1551.5,1178 1550.6,1177.5 1550.6,1177 1550.8,1176.5 1550.5,1176 1552.4,1175.5 1552.9,1175 1554.2,1174.5 1554.7,1174 1554.8,1173.5 1555.3,1173 1556.2,1172.5 1555.8,1172 1557.0,1171.5 1556.7,1171 1556.4,1170.5 1556.8,1170 1557.8,1169.5 1558.3,1169 1557.0,1168.5 1557.2,1168 1558.0,1167.5 1558.0,1167 1556.9,1166.5 1557.1,1166 1557.1,1165.5 1556.8,1165 1556.3,1164.5 1556.2,1164 1556.2,1163.5 1555.7,1163 1554.2,1162.5 1554.2,1162 1552.8,1161.5 1552.9,1161 1553.0,1160.5 1553.5,1160 1552.3,1159.5 1553.5,1159 1553.2,1158.5 1552.7,1158 1552.5,1157.5 1552.9,1157 1552.8,1156.5 1552.4,1156 1551.6,1155.5 1552.0,1155 1551.7,1154.5 1552.3,1154 1553.4,1153.5 1552.8,1153 1554.1,1152.5 1553.6,1152 1554.3,1151.5 1554.4,1151 1554.8,1150.5 1554.9,1150 1554.3,1149.5 1555.0,1149 1554.8,1148.5 1555.7,1148 1554.6,1147.5 1554.5,1147 1554.6,1146.5 1555.0,1146 1555.6,1145.5 1556.6,1145 1557.3,1144.5 1557.5,1144 1557.4,1143.5 1557.8,1143 1558.0,1142.5 1559.1,1142 1558.9,1141.5 1559.5,1141 1559.3,1140.5 1560.0,1140 1559.4,1139.5 1558.9,1139 1559.5,1138.5 1558.9,1138 1558.8,1137.5 1558.9,1137 1557.3,1136.5 1557.2,1136 1556.7,1135.5 1556.7,1135 1557.0,1134.5 1558.0,1134 1559.0,1133.5 1559.7,1133 1559.9,1132.5 1560.1,1132 1559.3,1131.5 1559.2,1131 1559.9,1130.5 1560.2,1130 1558.5,1129.5 1558.7,1129 1558.1,1128.5 1558.1,1128 1557.5,1127.5 1556.8,1127 1556.1,1126.5 1554.1,1126 1554.2,1125.5 1553.3,1125 1551.1,1124.5 1549.7,1124 1550.8,1123.5 1550.9,1123 1549.6,1122.5 1550.4,1122 1550.1,1121.5 1550.7,1121 1550.5,1120.5 1551.1,1120 1551.1,1119.5 1550.3,1119 1551.0,1118.5 1550.5,1118 1550.5,1117.5 1551.4,1117 1552.1,1116.5 1553.7,1116 1554.5,1115.5 1555.1,1115 1555.1,1114.5 1555.2,1114 1555.9,1113.5 1555.8,1113 1556.8,1112.5 1557.4,1112 1556.5,1111.5 1557.8,1111 1556.3,1110.5 1557.4,1110 1556.2,1109.5 1555.8,1109 1556.4,1108.5 1555.3,1108 1554.7,1107.5 1554.7,1107 1554.0,1106.5 1552.4,1106 1554.5,1105.5 1554.5,1105 1556.0,1104.5 1556.4,1104 1557.5,1103.5 1558.0,1103 1558.4,1102.5 1559.1,1102 1559.0,1101.5 1559.1,1101 1559.1,1100.5 1559.9,1100 1560.6,1099.5 1559.8,1099 1560.3,1098.5 1561.3,1098 1560.3,1097.5 1561.0,1097 1560.5,1096.5 1559.5,1096 1559.4,1095.5 1559.8,1095 1559.3,1094.5 1558.3,1094 1558.1,1093.5 1557.8,1093 1557.0,1092.5 1556.5,1092 1554.9,1091.5 1554.0,1091 1553.5,1090.5 1553.4,1090 1553.9,1089.5 1553.4,1089 1553.2,1088.5 1552.5,1088 1552.5,1087.5 1553.6,1087 1552.9,1086.5 1552.9,1086 1553.3,1085.5 1553.7,1085 1554.4,1084.5 1554.7,1084 1555.1,1083.5 1554.5,1083 1554.7,1082.5 1555.0,1082 1554.5,1081.5 1555.2,1081 1555.3,1080.5 1555.2,1080 1554.5,1079.5 1553.6,1079 1554.2,1078.5 1553.4,1078 1553.2,1077.5 1551.9,1077 1551.1,1076.5 1550.5,1076 1549.9,1075.5 1550.6,1075 1550.6,1074.5 1551.2,1074 1550.9,1073.5 1550.8,1073 1550.3,1072.5 1551.6,1072 1551.1,1071.5 1550.6,1071 1551.5,1070.5 1552.1,1070 1551.0,1069.5 1552.0,1069 1551.9,1068.5 1551.2,1068 1553.1,1067.5 1554.1,1067 1555.5,1066.5 1556.2,1066 1556.6,1065.5 1557.7,1065 1558.4,1064.5 1557.6,1064 1558.4,1063.5 1558.3,1063 1558.8,1062.5 1558.6,1062 1558.9,1061.5 1558.1,1061 1557.4,1060.5 1557.7,1060 1556.5,1059.5 1556.0,1059 1555.8,1058.5 1554.5,1058 1553.3,1057.5 1552.7,1057 1551.1,1056.5 1549.9,1056 1549.1,1055.5 1549.3,1055 1550.1,1054.5 1549.8,1054 1549.6,1053.5 1550.2,1053 1549.2,1052.5 1549.5,1052 1549.6,1051.5 1550.4,1051 1550.1,1050.5 1549.8,1050 1551.0,1049.5 1552.2,1049 1553.4,1048.5 1554.8,1048 1556.4,1047.5 1556.5,1047 1557.6,1046.5 1558.1,1046 1558.7,1045.5 1559.7,1045 1559.2,1044.5 1559.4,1044 1559.6,1043.5 1559.7,1043 1559.5,1042.5 1559.2,1042 1558.8,1041.5 1558.9,1041 1557.9,1040.5 1557.6,1040 1556.0,1039.5 1554.5,1039 1554.3,1038.5 1555.0,1038 1554.1,1037.5 1554.0,1037 1553.6,1036.5 1553.9,1036 1553.3,1035.5 1553.6,1035 1552.9,1034.5 1552.9,1034 1552.5,1033.5 1552.7,1033 1551.4,1032.5 1552.0,1032 1550.7,1031.5 1550.9,1031 1550.8,1030.5 1549.6,1030 1549.8,1029.5 1549.7,1029 1549.1,1028.5 1549.8,1028 1548.8,1027.5 1549.1,1027 1548.7,1026.5 1549.4,1026 1549.3,1025.5 1549.5,1025 1549.2,1024.5 1549.4,1024 1549.9,1023.5 1549.4,1023 1550.3,1022.5 1550.9,1022 1552.9,1021.5 1555.0,1021 1555.1,1020.5 1556.6,1020 1557.9,1019.5 1558.5,1019 1558.4,1018.5 1559.4,1018 1560.2,1017.5 1559.6,1017 1559.2,1016.5 1558.7,1016 1558.9,1015.5 1557.2,1015 1557.3,1014.5 1555.5,1014 1555.9,1013.5 1556.9,1013 1557.2,1012.5 1557.5,1012 1556.8,1011.5 1557.0,1011 1558.1,1010.5 1557.7,1010 1557.3,1009.5 1557.4,1009 1557.1,1008.5 1557.5,1008 1557.0,1007.5 1556.1,1007 1556.1,1006.5 1555.7,1006 1554.5,1005.5 1553.8,1005 1553.7,1004.5 1552.4,1004 1552.7,1003.5 1551.3,1003 1550.2,1002.5 1550.8,1002 1549.8,1001.5 1549.6,1001 1550.7,1000.5 1549.5,1000 1550.8,999.5 1551.2,999 1551.2,998.5 1552.9,998 1552.7,997.5 1553.3,997 1555.2,996.5 1555.4,996 1557.0,995.5 1559.0,995 1559.5,994.5 1560.7,994 1560.9,993.5 1563.2,993 1563.5,992.5 1564.6,992 1564.2,991.5 1564.8,991 1565.4,990.5 1566.3,990 1565.2,989.5 1566.2,989 1565.7,988.5 1564.5,988 1563.9,987.5 1563.5,987 1562.6,986.5 1561.1,986 1560.5,985.5 1559.0,985 1559.1,984.5 1556.8,984 1558.1,983.5 1557.9,983 1558.0,982.5 1558.0,982 1558.8,981.5 1558.2,981 1557.8,980.5 1558.0,980 1557.2,979.5 1557.2,979 1556.8,978.5 1557.3,978 1556.2,977.5 1556.1,977 1554.5,976.5 1554.3,976 1554.3,975.5 1553.3,975 1552.9,974.5 1550.6,974 1551.3,973.5 1550.4,973 1551.0,972.5 1551.0,972 1551.0,971.5 1551.8,971 1551.9,970.5 1551.6,970 1552.2,969.5 1551.4,969 1551.6,968.5 1552.6,968 1551.7,967.5 1552.8,967 1551.6,966.5 1552.0,966 1552.5,965.5 1552.9,965 1553.2,964.5 1555.3,964 1556.4,963.5 1557.7,963 1559.0,962.5 1559.4,962 1559.8,961.5 1561.0,961 1560.5,960.5 1561.6,960 1561.1,959.5 1560.7,959 1560.1,958.5 1559.3,958 1558.3,957.5 1556.4,957 1554.7,956.5 1552.9,956 1551.5,955.5 1552.0,955 1552.1,954.5 1552.5,954 1552.1,953.5 1551.7,953 1552.1,952.5 1552.5,952 1552.5,951.5 1551.7,951 1552.3,950.5 1553.9,950 1554.0,949.5 1554.9,949 1556.2,948.5 1556.8,948 1556.4,947.5 1556.6,947 1557.1,946.5 1558.2,946 1558.4,945.5 1557.8,945 1558.2,944.5 1558.3,944 1558.3,943.5 1558.0,943 1557.3,942.5 1557.5,942 1557.4,941.5 1557.5,941 1555.7,940.5 1556.3,940 1555.2,939.5 1554.2,939 1554.2,938.5 1554.1,938 1555.3,937.5 1556.3,937 1556.7,936.5 1557.7,936 1557.0,935.5 1557.9,935 1557.4,934.5 1557.1,934 1557.0,933.5 1556.4,933 1555.8,932.5 1555.5,932 1555.6,931.5 1554.7,931 1552.5,930.5 1550.9,930 1550.5,929.5 1550.3,929 1551.1,928.5 1550.8,928 1551.1,927.5 1551.0,927 1550.8,926.5 1550.8,926 1551.0,925.5 1551.5,925 1551.8,924.5 1551.3,924 1552.7,923.5 1553.9,923 1555.7,922.5 1557.0,922 1557.1,921.5 1557.3,921 1558.6,920.5 1559.1,920 1559.3,919.5 1559.8,919 1560.4,918.5 1559.5,918 1559.5,917.5 1559.7,917 1558.4,916.5 1558.8,916 1557.5,915.5 1556.9,915 1556.8,914.5 1555.6,914 1553.8,913.5 1554.2,913 1553.4,912.5 1553.9,912 1553.8,911.5 1554.2,911 1554.1,910.5 1554.9,910 1556.5,909.5 1557.8,909 1559.9,908.5 1559.6,908 1560.6,907.5 1561.5,907 1561.2,906.5 1562.6,906 1562.0,905.5 1561.7,905 1560.5,904.5 1560.0,904 1558.1,903.5 1558.0,903 1556.6,902.5 1554.1,902 1552.7,901.5 1552.1,901 1552.2,900.5 1552.4,900 1552.9,899.5 1553.2,899 1552.1,898.5 1553.2,898 1554.1,897.5 1554.8,897 1556.7,896.5 1556.9,896 1557.3,895.5 1558.5,895 1558.6,894.5 1560.2,894 1559.5,893.5 1559.8,893 1559.7,892.5 1560.1,892 1559.9,891.5 1559.1,891 1559.3,890.5 1559.0,890 1557.2,889.5 1556.6,889 1555.5,888.5 1554.7,888 1552.9,887.5 1552.5,887 1552.7,886.5 1553.2,886 1552.7,885.5 1552.1,885 1552.6,884.5 1552.6,884 1552.6,883.5 1552.2,883 1552.4,882.5 1552.3,882 1552.7,881.5 1553.3,881 1552.5,880.5 1552.4,880 1552.1,879.5 1552.2,879 1552.4,878.5 1553.9,878 1555.2,877.5 1555.7,877 1557.0,876.5 1557.9,876 1557.6,875.5 1558.8,875 1559.9,874.5 1560.2,874 1559.0,873.5 1559.5,873 1560.0,872.5 1559.5,872 1559.8,871.5 1559.6,871 1558.4,870.5 1558.5,870 1558.4,869.5 1558.4,869 1558.1,868.5 1559.3,868 1559.2,867.5 1560.2,867 1559.6,866.5 1559.9,866 1559.3,865.5 1558.4,865 1557.5,864.5 1556.6,864 1555.7,863.5 1554.3,863 1553.8,862.5 1553.6,862 1553.4,861.5 1552.8,861 1554.0,860.5 1553.5,860 1553.7,859.5 1553.2,859 1554.3,858.5 1553.1,858 1553.8,857.5 1553.9,857 1554.7,856.5 1554.2,856 1554.3,855.5 1554.2,855 1554.6,854.5 1553.7,854 1554.9,853.5 1555.0,853 1554.4,852.5 1554.4,852 1554.5,851.5 1554.5,851 1554.8,850.5 1554.7,850 1554.0,849.5 1553.7,849 1554.6,848.5 1554.6,848 1556.1,847.5 1556.4,847 1556.4,846.5 1556.8,846 1556.9,845.5 1557.8,845 1557.9,844.5 1557.5,844 1558.3,843.5 1557.8,843 1559.0,842.5 1559.0,842 1558.1,841.5 1558.7,841 1558.3,840.5 1557.8,840 1558.3,839.5 1558.6,839 1558.0,838.5 1558.1,838 1557.4,837.5 1557.4,837 1556.2,836.5 1555.9,836 1555.7,835.5 1556.2,835 1556.0,834.5 1554.5,834 1554.2,833.5 1555.0,833 1555.3,832.5 1555.4,832 1556.6,831.5 1556.8,831 1556.2,830.5 1557.4,830 1557.6,829.5 1558.1,829 1558.3,828.5 1558.9,828 1559.1,827.5 1558.4,827 1559.6,826.5 1559.1,826 1559.5,825.5 1558.7,825 1558.8,824.5 1558.7,824 1559.3,823.5 1559.0,823 1558.4,822.5 1557.5,822 1557.3,821.5 1556.6,821 1557.0,820.5 1556.3,820 1555.9,819.5 1554.9,819 1553.6,818.5 1553.3,818 1552.9,817.5 1552.8,817 1552.5,816.5 1552.3,816 1552.8,815.5 1551.4,815 1551.6,814.5 1551.8,814 1551.3,813.5 1551.6,813 1551.7,812.5 1551.1,812 1552.1,811.5 1552.7,811 1553.7,810.5 1555.0,810 1554.7,809.5 1555.9,809 1556.5,808.5 1557.4,808 1557.2,807.5 1558.4,807 1558.7,806.5 1559.7,806 1560.1,805.5 1560.5,805 1560.4,804.5 1560.4,804 1561.3,803.5 1560.9,803 1560.8,802.5 1560.8,802 1561.5,801.5 1560.3,801 1561.1,800.5 1560.6,800 1560.5,799.5 1560.6,799 1561.1,798.5 1560.2,798 1560.9,797.5 1561.2,797 1560.5,796.5 1561.2,796 1559.8,795.5 1560.0,795 1559.3,794.5 1559.6,794 1559.3,793.5 1558.0,793 1558.5,792.5 1557.3,792 1557.2,791.5 1556.0,791 1555.4,790.5 1553.9,790 1554.0,789.5 1554.0,789 1554.7,788.5 1553.7,788 1554.5,787.5 1555.2,787 1556.2,786.5 1556.7,786 1556.9,785.5 1556.6,785 1558.4,784.5 1558.8,784 1558.9,783.5 1558.9,783 1558.8,782.5 1560.0,782 1560.8,781.5 1560.1,781 1560.3,780.5 1560.7,780 1561.6,779.5 1561.6,779 1561.8,778.5 1561.3,778 1561.1,777.5 1560.9,777 1560.7,776.5 1560.3,776 1560.6,775.5 1559.2,775 1559.7,774.5 1558.7,774 1558.4,773.5 1557.7,773 1556.2,772.5 1555.9,772 1556.8,771.5 1555.4,771 1556.0,770.5 1555.2,770 1555.4,769.5 1555.8,769 1557.4,768.5 1558.0,768 1558.1,767.5 1559.3,767 1559.4,766.5 1560.0,766 1560.0,765.5 1559.5,765 1560.9,764.5 1560.6,764 1560.8,763.5 1561.3,763 1561.7,762.5 1561.1,762 1561.1,761.5 1561.0,761 1560.6,760.5 1560.0,760 1560.8,759.5 1559.6,759 1559.1,758.5 1558.7,758 1559.3,757.5 1558.5,757 1558.3,756.5 1557.5,756 1556.9,755.5 1556.2,755 1553.8,754.5 1554.3,754 1554.5,753.5 1554.8,753 1554.5,752.5 1555.8,752 1555.1,751.5 1555.6,751 1554.9,750.5 1555.7,750 1555.9,749.5 1555.6,749 1557.2,748.5 1558.8,748 1560.1,747.5 1560.0,747 1561.2,746.5 1561.0,746 1562.2,745.5 1563.2,745 1562.4,744.5 1563.1,744 1563.2,743.5 1562.6,743 1562.5,742.5 1562.9,742 1562.2,741.5 1562.1,741 1561.2,740.5 1560.8,740 1560.0,739.5 1560.1,739 1559.5,738.5 1558.4,738 1556.2,737.5 1556.1,737 1557.4,736.5 1557.6,736 1557.0,735.5 1558.8,735 1559.5,734.5 1560.7,734 1561.0,733.5 1560.7,733 1561.7,732.5 1561.5,732 1563.0,731.5 1563.1,731 1562.2,730.5 1562.6,730 1563.0,729.5 1562.1,729 1562.0,728.5 1560.9,728 1561.0,727.5 1559.5,727 1559.9,726.5 1559.8,726 1559.1,725.5 1559.7,725 1558.4,724.5 1559.4,724 1558.7,723.5 1558.1,723 1558.6,722.5 1558.2,722 1557.8,721.5 1556.8,721 1556.3,720.5 1557.1,720 1556.3,719.5 1556.1,719 1555.6,718.5 1556.4,718 1556.4,717.5 1557.4,717 1557.5,716.5 1558.0,716 1557.7,715.5 1558.2,715 1557.9,714.5 1557.7,714 1558.3,713.5 1558.6,713 1558.5,712.5 1559.1,712 1559.1,711.5 1558.7,711 1561.4,710.5 1563.9,710 1563.0,709.5 1558.8,709 1558.8,708.5 1559.0,708 1559.1,707.5 1558.4,707 1559.4,706.5 1558.2,706 1558.6,705.5 1557.9,705 1557.8,704.5 1557.7,704 1557.7,703.5 1558.0,703 1557.7,702.5 1558.8,702 1557.8,701.5 1558.6,701 1558.5,700.5 1559.1,700 1558.6,699.5 1558.7,699 1558.9,698.5 1558.3,698 1559.2,697.5 1558.9,697 1557.9,696.5 1558.5,696 1557.7,695.5 1557.6,695 1558.5,694.5 1558.2,694 1557.2,693.5 1557.1,693 1558.1,692.5 1559.5,692 1560.5,691.5 1561.6,691 1561.8,690.5 1563.0,690 1564.2,689.5 1563.8,689 1564.2,688.5 1565.0,688 1565.4,687.5 1565.6,687 1566.0,686.5 1567.8,686 1568.6,685.5 1567.0,685 1563.6,684.5 1563.1,684 1562.6,683.5 1563.0,683 1561.3,682.5 1561.1,682 1558.8,681.5 1557.7,681 1559.9,680.5 1561.5,680 1564.1,679.5 1565.2,679 1565.7,678.5 1566.9,678 1568.0,677.5 1569.1,677 1569.2,676.5 1569.5,676 1569.0,675.5 1569.5,675 1569.5,674.5 1569.0,674 1567.5,673.5 1566.4,673 1565.7,672.5 1565.6,672 1563.9,671.5 1562.7,671 1562.0,670.5 1562.1,670 1563.0,669.5 1563.7,669 1563.8,668.5 1564.7,668 1564.1,667.5 1564.5,667 1565.4,666.5 1564.8,666 1565.0,665.5 1565.5,665 1564.8,664.5 1565.4,664 1565.0,663.5 1565.1,663 1564.5,662.5 1563.6,662 1564.2,661.5 1563.2,661 1562.1,660.5 1562.0,660 1562.2,659.5 1560.6,659 1559.8,658.5 1559.7,658 1558.9,657.5 1557.5,657 1556.7,656.5 1557.6,656 1558.0,655.5 1557.3,655 1558.2,654.5 1557.2,654 1557.5,653.5 1557.7,653 1558.5,652.5 1560.2,652 1560.9,651.5 1563.0,651 1562.6,650.5 1564.5,650 1564.7,649.5 1565.5,649 1565.5,648.5 1566.3,648 1566.5,647.5 1565.1,647 1565.7,646.5 1564.9,646 1563.6,645.5 1563.3,645 1562.2,644.5 1561.3,644 1560.2,643.5 1561.3,643 1563.0,642.5 1564.3,642 1565.2,641.5 1566.3,641 1566.7,640.5 1567.7,640 1566.8,639.5 1567.3,639 1567.7,638.5 1567.7,638 1565.9,637.5 1565.0,637 1564.1,636.5 1562.8,636 1560.9,635.5 1560.0,635 1557.8,634.5 1557.7,634 1557.0,633.5 1557.8,633 1557.7,632.5 1557.8,632 1556.9,631.5 1556.6,631 1557.5,630.5 1557.2,630 1556.5,629.5 1557.1,629 1556.5,628.5 1556.3,628 1557.3,627.5 1556.8,627 1556.9,626.5 1556.2,626 1556.0,625.5 1557.0,625 1556.8,624.5 1557.3,624 1556.4,623.5 1557.4,623 1558.4,622.5 1560.3,622 1562.0,621.5 1563.0,621 1563.3,620.5 1564.7,620 1565.6,619.5 1565.6,619 1567.1,618.5 1567.8,618 1567.4,617.5 1567.4,617 1567.2,616.5 1567.9,616 1567.1,615.5 1567.6,615 1566.6,614.5 1566.5,614 1565.6,613.5 1564.9,613 1563.5,612.5 1562.1,612 1560.4,611.5 1560.1,611 1559.9,610.5 1560.8,610 1561.0,609.5 1560.7,609 1560.7,608.5 1559.8,608 1560.5,607.5 1559.8,607 1559.8,606.5 1560.1,606 1560.6,605.5 1560.1,605 1559.2,604.5 1561.8,604 1563.3,603.5 1564.1,603 1565.2,602.5 1565.9,602 1566.2,601.5 1565.3,601 1566.7,600.5 1566.4,600 1566.1,599.5 1564.2,599 1564.6,598.5 1563.1,598 1563.0,597.5 1560.8,597 1560.0,596.5 1558.1,596 1557.2,595.5 1557.9,595 1556.7,594.5 1557.1,594 1557.6,593.5 1557.4,593 1556.4,592.5 1557.6,592 1556.6,591.5 1557.6,591 1557.7,590.5 1557.1,590 1557.1,589.5 1556.9,589 1560.2,588.5 1562.5,588 1564.0,587.5 1565.7,587 1566.0,586.5 1566.6,586 1568.2,585.5 1568.4,585 1568.2,584.5 1568.4,584 1567.4,583.5 1566.6,583 1565.8,582.5 1563.7,582 1562.9,581.5 1559.9,581 1557.0,580.5 1557.2,580 1557.6,579.5 1557.3,579 1557.6,578.5 1556.8,578 1557.6,577.5 1557.4,577 1557.2,576.5 1556.9,576 1556.9,575.5 1557.8,575 1556.6,574.5 1557.9,574 1557.0,573.5 1556.9,573 1557.7,572.5 1557.6,572 1559.3,571.5 1561.2,571 1562.3,570.5 1563.4,570 1564.4,569.5 1565.5,569 1565.6,568.5 1566.4,568 1568.4,567.5 1569.0,567 1568.8,566.5 1569.2,566 1569.7,565.5 1569.7,565 1570.3,564.5 1571.0,564 1571.0,563.5 1569.9,563 1569.9,562.5 1569.2,562 1569.3,561.5 1568.6,561 1568.0,560.5 1567.7,560 1567.1,559.5 1565.1,559 1566.7,558.5 1567.6,558 1568.0,557.5 1568.6,557 1568.3,556.5 1569.7,556 1569.5,555.5 1569.6,555 1569.1,554.5 1569.6,554 1568.7,553.5 1569.1,553 1568.5,552.5 1567.5,552 1566.9,551.5 1566.3,551 1565.1,550.5 1563.4,550 1563.0,549.5 1561.0,549 1560.1,548.5 1557.8,548 1558.7,547.5 1558.5,547 1558.4,546.5 1560.3,546 1560.4,545.5 1562.3,545 1563.0,544.5 1563.7,544 1564.2,543.5 1564.8,543 1565.3,542.5 1565.4,542 1566.5,541.5 1566.0,541 1566.8,540.5 1567.1,540 1566.4,539.5 1566.5,539 1567.4,538.5 1566.9,538 1566.1,537.5 1566.4,537 1565.7,536.5 1565.5,536 1564.6,535.5 1564.7,535 1563.9,534.5 1562.2,534 1562.3,533.5 1561.1,533 1559.3,532.5 1558.3,532 1557.8,531.5 1557.1,531 1556.7,530.5 1557.0,530 1556.4,529.5 1556.4,529 1556.5,528.5 1556.1,528 1556.8,527.5 1557.3,527 1557.2,526.5 1557.2,526 1557.5,525.5 1557.8,525 1557.0,524.5 1557.4,524 1557.7,523.5 1557.3,523 1558.1,522.5 1558.0,522 1560.4,521.5 1562.6,521 1565.2,520.5 1565.9,520 1567.4,519.5 1568.5,519 1568.8,518.5 1569.2,518 1570.5,517.5 1569.1,517 1569.3,516.5 1569.5,516 1568.1,515.5 1567.4,515 1565.8,514.5 1564.2,514 1561.3,513.5 1562.7,513 1563.7,512.5 1565.5,512 1566.8,511.5 1566.3,511 1567.9,510.5 1567.4,510 1567.9,509.5 1568.9,509 1569.4,508.5 1569.3,508 1568.8,507.5 1569.7,507 1568.8,506.5 1569.0,506 1569.5,505.5 1568.3,505 1567.6,504.5 1567.1,504 1566.5,503.5 1566.7,503 1565.3,502.5 1564.2,502 1563.4,501.5 1563.7,501 1562.6,500.5 1561.7,500 1560.3,499.5 1560.1,499 1559.2,498.5 1557.9,498 1555.8,497.5 1556.5,497 1556.1,496.5 1556.5,496 1556.3,495.5 1556.3,495 1557.5,494.5 1556.9,494 1556.8,493.5 1557.8,493 1559.0,492.5 1559.7,492 1561.2,491.5 1561.4,491 1562.3,490.5 1563.1,490 1564.1,489.5 1563.6,489 1564.3,488.5 1564.7,488 1565.2,487.5 1565.6,487 1565.0,486.5 1566.0,486 1565.1,485.5 1566.2,485 1565.3,484.5 1564.9,484 1564.7,483.5 1564.5,483 1564.0,482.5 1563.6,482 1562.7,481.5 1562.5,481 1562.0,480.5 1560.9,480 1560.2,479.5 1559.6,479 1558.9,478.5 1559.0,478 1559.2,477.5 1560.6,477 1562.4,476.5 1563.5,476 1563.7,475.5 1564.0,475 1565.0,474.5 1566.1,474 1567.0,473.5 1567.3,473 1567.8,472.5 1568.1,472 1568.3,471.5 1569.1,471 1569.5,470.5 1569.8,470 1569.6,469.5 1569.1,469 1569.0,468.5 1568.4,468 1568.6,467.5 1568.2,467 1568.2,466.5 1566.9,466 1566.2,465.5 1565.7,465 1564.8,464.5 1563.2,464 1562.7,463.5 1560.6,463 1560.9,462.5 1561.1,462 1560.2,461.5 1561.3,461 1561.2,460.5 1561.5,460 1561.3,459.5 1562.3,459 1562.7,458.5 1562.0,458 1562.2,457.5 1563.4,457 1563.3,456.5 1563.5,456 1563.0,455.5 1562.8,455 1562.8,454.5 1563.2,454 1562.2,453.5 1561.7,453 1562.4,452.5 1560.9,452 1561.5,451.5 1560.6,451 1561.0,450.5 1560.6,450 1559.3,449.5 1559.3,449 1559.1,448.5 1557.9,448 1558.6,447.5 1557.6,447 1556.7,446.5 1556.4,446 1556.2,445.5 1557.3,445 1557.6,444.5 1557.6,444 1556.7,443.5 1557.9,443 1557.1,442.5 1557.6,442 1558.4,441.5 1558.5,441 1558.0,440.5 1558.1,440 1559.0,439.5 1559.6,439 1559.3,438.5 1559.2,438 1559.3,437.5 1560.0,437 1560.0,436.5 1560.5,436 1561.9,435.5 1563.0,435 1564.1,434.5 1564.2,434 1564.9,433.5 1565.6,433 1565.9,432.5 1566.5,432 1566.3,431.5 1566.6,431 1566.4,430.5 1566.9,430 1565.4,429.5 1565.3,429 1565.4,428.5 1564.8,428 1563.0,427.5 1563.0,427 1562.3,426.5 1560.0,426 1560.4,425.5 1559.6,425 1560.4,424.5 1560.5,424 1559.9,423.5 1560.0,423 1562.1,422.5 1563.5,422 1563.8,421.5 1565.6,421 1565.8,420.5 1567.1,420 1567.5,419.5 1567.6,419 1568.7,418.5 1568.5,418 1568.7,417.5 1568.4,417 1568.7,416.5 1568.4,416 1568.9,415.5 1568.8,415 1567.3,414.5 1568.2,414 1567.0,413.5 1565.7,413 1565.4,412.5 1564.5,412 1563.3,411.5 1563.2,411 1562.0,410.5 1561.5,410 1562.1,409.5 1562.0,409 1561.5,408.5 1561.5,408 1561.6,407.5 1562.1,407 1562.1,406.5 1561.5,406 1560.4,405.5 1560.1,405 1558.9,404.5 1558.4,404 1557.9,403.5 1556.4,403 1556.3,402.5 1556.7,402 1557.2,401.5 1556.3,401 1557.0,400.5 1557.0,400 1559.0,399.5 1560.5,399 1562.5,398.5 1563.2,398 1564.3,397.5 1565.6,397 1565.8,396.5 1566.7,396 1567.3,395.5 1568.9,395 1569.3,394.5 1569.3,394 1569.3,393.5 1570.4,393 1570.5,392.5 1570.9,392 1570.6,391.5 1570.0,391 1569.2,390.5 1569.2,390 1568.7,389.5 1568.7,389 1568.3,388.5 1568.6,388 1568.0,387.5 1569.1,387 1569.8,386.5 1570.5,386 1570.7,385.5 1570.1,385 1570.1,384.5 1571.0,384 1570.1,383.5 1570.0,383 1568.7,382.5 1569.3,382 1568.0,381.5 1567.8,381 1566.1,380.5 1566.1,380 1564.6,379.5 1563.4,379 1562.4,378.5 1561.8,378 1561.1,377.5 1560.9,377 1561.4,376.5 1562.9,376 1562.9,375.5 1563.1,375 1564.2,374.5 1564.6,374 1564.9,373.5 1563.8,373 1564.5,372.5 1565.4,372 1565.4,371.5 1564.7,371 1565.6,370.5 1565.6,370 1565.5,369.5 1565.1,369 1563.9,368.5 1563.6,368 1564.5,367.5 1563.5,367 1563.0,366.5 1563.2,366 1562.5,365.5 1561.5,365 1561.0,364.5 1560.1,364 1559.7,363.5 1558.5,363 1558.9,362.5 1558.9,362 1559.4,361.5 1559.1,361 1559.2,360.5 1558.7,360 1558.5,359.5 1558.3,359 1559.3,358.5 1558.1,358 1559.0,357.5 1557.9,357 1559.9,356.5 1561.6,356 1563.8,355.5 1564.5,355 1565.2,354.5 1566.6,354 1566.1,353.5 1567.6,353 1567.9,352.5 1568.2,352 1568.2,351.5 1568.5,351 1568.0,350.5 1567.6,350 1568.2,349.5 1568.0,349 1566.4,348.5 1566.2,348 1565.7,347.5 1564.9,347 1563.1,346.5 1562.1,346 1560.4,345.5 1559.8,345 1558.7,344.5 1559.7,344 1559.7,343.5 1559.0,343 1559.5,342.5 1559.3,342 1558.9,341.5 1559.2,341 1558.9,340.5 1559.8,340 1560.9,339.5 1560.4,339 1561.3,338.5 1562.4,338 1562.3,337.5 1562.9,337 1561.9,336.5 1562.9,336 1563.5,335.5 1562.4,335 1563.1,334.5 1562.3,334 1562.8,333.5 1562.0,333 1561.8,332.5 1561.7,332 1561.1,331.5 1561.1,331 1559.9,330.5 1558.6,330 1558.7,329.5 1559.0,329 1558.6,328.5 1559.3,328 1559.1,327.5 1559.6,327 1561.0,326.5 1560.8,326 1560.7,325.5 1561.4,325 1560.8,324.5 1561.1,324 1561.7,323.5 1561.6,323 1561.7,322.5 1561.4,322 1562.0,321.5 1561.7,321 1562.2,320.5 1562.3,320 1561.9,319.5 1560.8,319 1561.1,318.5 1560.4,318 1560.4,317.5 1560.5,317 1559.4,316.5 1559.1,316 1560.0,315.5 1558.7,315 1559.2,314.5 1557.3,314 1556.9,313.5 1556.7,313 1557.5,312.5 1556.9,312 1556.8,311.5 1558.1,311 1558.0,310.5 1557.7,310 1558.2,309.5 1558.7,309 1558.6,308.5 1559.0,308 1558.3,307.5 1559.3,307 1558.5,306.5 1560.0,306 1561.9,305.5 1563.4,305 1565.0,304.5 1565.7,304 1567.9,303.5 1568.6,303 1570.1,302.5 1570.9,302 1570.6,301.5 1571.6,301 1571.5,300.5 1573.0,300 1572.3,299.5 1573.0,299 1572.4,298.5 1572.8,298 1571.8,297.5 1571.2,297 1570.9,296.5 1569.8,296 1569.7,295.5 1568.1,295 1567.8,294.5 1565.5,294 1564.1,293.5 1562.7,293 1561.1,292.5 1560.8,292 1559.7,291.5 1561.8,291 1563.0,290.5 1563.5,290 1563.9,289.5 1565.1,289 1564.3,288.5 1565.4,288 1564.9,287.5 1566.4,287 1566.6,286.5 1566.6,286 1566.2,285.5 1566.1,285 1566.4,284.5 1566.2,284 1565.8,283.5 1565.5,283 1565.8,282.5 1564.5,282 1564.2,281.5 1563.7,281 1563.4,280.5 1562.9,280 1562.5,279.5 1561.6,279 1561.5,278.5 1561.5,278 1562.1,277.5 1564.0,277 1564.3,276.5 1565.5,276 1565.3,275.5 1566.0,275 1566.7,274.5 1567.4,274 1567.3,273.5 1568.5,273 1567.6,272.5 1567.9,272 1568.0,271.5 1568.0,271 1567.5,270.5 1566.5,270 1566.4,269.5 1565.6,269 1564.3,268.5 1563.2,268 1563.5,267.5 1561.8,267 1560.7,266.5 1559.5,266 1561.1,265.5 1561.4,265 1560.8,264.5 1561.7,264 1561.5,263.5 1562.2,263 1562.5,262.5 1563.4,262 1563.8,261.5 1563.0,261 1563.0,260.5 1563.3,260 1563.6,259.5 1563.1,259 1563.6,258.5 1563.4,258 1563.6,257.5 1563.7,257 1563.2,256.5 1563.1,256 1562.4,255.5 1563.0,255 1562.1,254.5 1561.8,254 1561.7,253.5 1561.3,253 1560.7,252.5 1561.0,252 1561.4,251.5 1561.0,251 1561.1,250.5 1562.0,250 1562.2,249.5 1563.7,249 1565.2,248.5 1565.3,248 1566.5,247.5 1566.5,247 1567.6,246.5 1568.4,246 1568.5,245.5 1569.2,245 1568.3,244.5 1569.2,244 1569.1,243.5 1568.9,243 1568.9,242.5 1567.9,242 1569.1,241.5 1571.7,241 1569.1,240.5 1565.3,240 1564.8,239.5 1564.4,239 1564.0,238.5 1562.7,238 1562.0,237.5 1560.3,237 1559.5,236.5 1557.9,236 1557.4,235.5 1556.3,235 1556.4,234.5 1556.1,234 1556.9,233.5 1556.6,233 1555.8,232.5 1556.3,232 1556.5,231.5 1557.2,231 1558.8,230.5 1559.8,230 1560.7,229.5 1561.0,229 1561.8,228.5 1562.3,228 1562.2,227.5 1562.7,227 1563.7,226.5 1563.1,226 1563.0,225.5 1562.8,225 1563.2,224.5 1562.2,224 1561.2,223.5 1561.3,223 1560.6,222.5 1559.6,222 1558.3,221.5 1557.6,221 1557.7,220.5 1558.2,220 1558.9,219.5 1558.8,219 1558.4,218.5 1557.9,218 1558.6,217.5 1558.5,217 1557.5,216.5 1557.6,216 1558.5,215.5 1558.8,215 1558.6,214.5 1558.1,214 1559.9,213.5 1561.2,213 1562.6,212.5 1564.2,212 1564.1,211.5 1565.1,211 1565.0,210.5 1565.5,210 1566.3,209.5 1566.5,209 1566.3,208.5 1566.6,208 1565.7,207.5 1565.4,207 1565.1,206.5 1565.0,206 1563.8,205.5 1562.6,205 1562.6,204.5 1560.6,204 1560.4,203.5 1560.6,203 1560.2,202.5 1561.1,202 1560.4,201.5 1561.5,201 1561.3,200.5 1561.3,200 1562.8,199.5 1562.8,199 1563.6,198.5 1564.2,198 1563.9,197.5 1564.5,197 1564.8,196.5 1565.2,196 1565.6,195.5 1564.6,195 1565.1,194.5 1564.2,194 1564.5,193.5 1564.2,193 1563.7,192.5 1563.6,192 1562.8,191.5 1562.1,191 1562.3,190.5 1561.5,190 1561.5,189.5 1561.1,189 1560.4,188.5 1558.9,188 1558.4,187.5 1557.4,187 1556.4,186.5 1556.1,186 1557.2,185.5 1558.4,185 1560.9,184.5 1561.5,184 1561.8,183.5 1563.5,183 1563.8,182.5 1564.7,182 1565.6,181.5 1566.5,181 1566.1,180.5 1567.7,180 1567.7,179.5 1567.6,179 1568.6,178.5 1569.4,178 1569.0,177.5 1569.5,177 1568.6,176.5 1569.4,176 1569.1,175.5 1567.9,175 1567.8,174.5 1567.2,174 1567.8,173.5 1566.8,173 1566.3,172.5 1564.6,172 1563.8,171.5 1563.7,171 1561.1,170.5 1559.5,170 1560.0,169.5 1562.3,169 1564.0,168.5 1565.4,168 1566.7,167.5 1566.9,167 1567.8,166.5 1567.6,166 1569.0,165.5 1569.1,165 1567.7,164.5 1567.5,164 1566.6,163.5 1566.4,163 1564.9,162.5 1564.4,162 1562.8,161.5 1560.9,161 1558.8,160.5 1556.9,160 1557.5,159.5 1556.8,159 1557.2,158.5 1557.3,158 1557.6,157.5 1558.4,157 1558.4,156.5 1558.1,156 1558.7,155.5 1557.6,155 1558.5,154.5 1558.9,154 1558.0,153.5 1559.4,153 1559.2,152.5 1559.7,152 1558.8,151.5 1558.8,151 1559.6,150.5 1559.7,150 1561.4,149.5 1561.8,149 1562.3,148.5 1562.9,148 1564.4,147.5 1563.7,147 1564.0,146.5 1564.7,146 1564.6,145.5 1565.2,145 1565.5,144.5 1565.8,144 1565.3,143.5 1564.5,143 1564.1,142.5 1564.0,142 1563.3,141.5 1563.2,141 1562.5,140.5 1562.5,140 1561.8,139.5 1560.9,139 1560.6,138.5 1559.6,138 1559.3,137.5 1562.2,137 1563.8,136.5 1565.0,136 1566.3,135.5 1566.0,135 1568.0,134.5 1568.2,134 1567.9,133.5 1568.6,133 1568.5,132.5 1567.6,132 1567.4,131.5 1566.2,131 1565.0,130.5 1564.0,130 1562.5,129.5 1559.3,129 1559.1,128.5 1559.5,128 1559.1,127.5 1559.2,127 1559.2,126.5 1559.8,126 1560.5,125.5 1560.5,125 1560.8,124.5 1560.2,124 1560.3,123.5 1561.2,123 1560.2,122.5 1561.4,122 1561.3,121.5 1560.6,121 1561.3,120.5 1561.4,120 1560.9,119.5 1561.1,119 1560.1,118.5 1561.2,118 1559.8,117.5 1560.6,117 1560.6,116.5 1560.4,116 1559.6,115.5 1560.0,115 1559.3,114.5 1560.0,114 1561.4,113.5 1562.0,113 1561.6,112.5 1562.7,112 1564.3,111.5 1565.6,111 1566.0,110.5 1565.6,110 1563.9,109.5 1562.5,109 1563.5,108.5 1563.2,108 1562.6,107.5 1562.1,107 1562.1,106.5 1561.3,106 1561.0,105.5 1560.0,105 1559.1,104.5 1559.5,104 1558.7,103.5 1557.3,103 1556.9,102.5 1555.9,102 1557.8,101.5 1558.6,101 1558.4,100.5 1558.9,100 1558.8,99.5 1559.8,99 1560.6,98.5 1560.7,98 1560.3,97.5 1560.9,97 1560.3,96.5 1559.5,96 1559.6,95.5 1559.9,95 1559.3,94.5 1558.2,94 1557.6,93.5 1557.4,93 1557.3,92.5 1557.1,92 1557.2,91.5 1557.3,91 1558.5,90.5 1558.5,90 1559.1,89.5 1560.0,89 1559.8,88.5 1560.5,88 1562.0,87.5 1562.4,87 1563.1,86.5 1563.5,86 1563.4,85.5 1564.0,85 1564.7,84.5 1563.6,84 1564.5,83.5 1564.4,83 1564.2,82.5 1564.3,82 1563.8,81.5 1563.2,81 1563.7,80.5 1563.6,80 1562.5,79.5 1562.4,79 1561.5,78.5 1563.5,78 1565.5,77.5 1565.9,77 1567.0,76.5 1568.0,76 1568.7,75.5 1568.8,75 1569.2,74.5 1570.2,74 1569.9,73.5 1570.4,73 1569.8,72.5 1569.5,72 1568.8,71.5 1568.9,71 1566.9,70.5 1566.1,70 1565.0,69.5 1564.0,69 1563.3,68.5 1561.4,68 1559.9,67.5 1557.9,67 1558.1,66.5 1558.9,66 1558.2,65.5 1558.0,65 1558.3,64.5 1558.8,64 1558.6,63.5 1558.1,63 1558.7,62.5 1558.9,62 1558.0,61.5 1558.0,61 1558.8,60.5 1558.1,60 1557.6,59.5 1557.9,59 1558.5,58.5 1557.8,58 1560.4,57.5 1561.2,57 1562.9,56.5 1564.3,56 1564.5,55.5 1566.0,55 1566.2,54.5 1567.1,54 1567.9,53.5 1567.4,53 1568.2,52.5 1568.5,52 1568.8,51.5 1567.9,51 1568.5,50.5 1568.5,50 1568.4,49.5 1567.6,49 1566.8,48.5 1566.7,48 1566.0,47.5 1565.5,47 1565.6,46.5 1565.4,46 1564.8,45.5 1564.3,45 1562.9,44.5 1562.0,44 1561.1,43.5 1560.8,43 1559.4,42.5 1558.4,42 1557.9,41.5 1557.5,41 1557.6,40.5 1558.1,40 1558.8,39.5 1561.4,39 1562.9,38.5 1564.2,38 1565.3,37.5 1565.5,37 1567.4,36.5 1567.2,36 1568.0,35.5 1568.9,35 1569.5,34.5 1570.5,34 1570.5,33.5 1569.8,33 1570.6,32.5 1568.9,32 1569.1,31.5 1568.9,31 1567.1,30.5 1567.0,30 1565.5,29.5 1564.7,29 1562.5,28.5 1561.3,28 1560.5,27.5 1560.1,27 1559.6,26.5 1559.4,26 1559.6,25.5 1559.4,25 1559.2,24.5 1558.9,24 1559.0,23.5 1558.7,23 1559.0,22.5 1558.5,22 1557.8,21.5 1557.8,21 1557.5,20.5 1558.0,20Z" fill="url(#dots2)" shape-rendering="crispEdges"/>
<g id="peaks" fill="#000" shape-rendering="crispEdges">
<rect x="1451.0" y="77.1" width="93.4" height="2.8"/>
<rect x="1426.0" y="1065.1" width="100.7" height="5.4"/>
<rect x="1408.0" y="1399.2" width="120.1" height="6.5" fill="url(#dots2)"/>
<rect x="1386.0" y="1400.5" width="142.1" height="4.0"/>
<rect x="1462.5" y="1442.8" width="75.3" height="3.8"/>
<rect x="1373.0" y="1689.0" width="168.6" height="10.5" fill="url(#dots2)"/>
<rect x="1264.6" y="1691.6" width="277.0" height="5.4" fill="url(#dots2)"/>
<rect x="1468.8" y="1916.9" width="73.1" height="4.2"/>
<rect x="608.0" y="1936.0" width="934.0" height="7.5" fill="url(#dots2)"/>
<rect x="82.3" y="1937.7" width="1459.7" height="4.2"/>
<rect x="1426.6" y="1974.1" width="115.4" height="4.4"/>
<rect x="1247.0" y="2154.7" width="295.1" height="6.0"/>
<rect x="1299.0" y="2220.4" width="243.2" height="7.5" fill="url(#dots2)"/>
<rect x="992.7" y="2222.3" width="549.5" height="3.8"/>
<rect x="1505.6" y="2437.4" width="36.9" height="3.2"/>
<rect x="1469.0" y="2499.6" width="73.7" height="12.0" fill="url(#dots2)"/>
<rect x="1389.4" y="2504.1" width="153.3" height="3.0"/>
<rect x="1379" y="2503.5" width="2.5" height="2.5"/>
<rect x="1520" y="2514.7" width="20" height="12" fill="url(#dots2)"/>
<rect x="1498.7" y="951.5" width="16" height="3"/>
<rect x="1496" y="1121" width="3" height="2.5"/>
</g>
<g id="peak-labels">
<text transform="translate(1428.00,149.76) rotate(-90) scale(0.5424,1)" font-size="50" fill="#000" stroke="#fff" stroke-width="0.3">2539.672</text>
<text transform="translate(1486.20,374.87) rotate(-90) scale(0.5466,1)" font-size="50" fill="#000" stroke="#fff" stroke-width="0.3">2402.295</text>
<text transform="translate(1486.20,651.34) rotate(-90) scale(0.5352,1)" font-size="50" fill="#000" stroke="#fff" stroke-width="0.3">2233.764</text>
<text transform="translate(1484.50,927.60) rotate(-90) scale(0.5195,1)" font-size="50" fill="#000" stroke="#fff" stroke-width="0.3">2044.871</text>
<text transform="translate(1473.00,1054.95) rotate(-90) scale(0.5400,1)" font-size="50" fill="#000" stroke="#fff" stroke-width="0.3">2010.903</text>
<text transform="translate(1397.50,1117.51) rotate(-90) scale(0.5279,1)" font-size="50" fill="#000" stroke="#fff" stroke-width="0.3">1967.365</text>
<text transform="translate(1450.00,1188.44) rotate(-90) scale(0.5355,1)" font-size="50" fill="#000" stroke="#fff" stroke-width="0.3">1936.686</text>
<text transform="translate(1489.60,1268.00) rotate(-90) scale(0.5254,1)" font-size="50" fill="#000" stroke="#fff" stroke-width="0.3">1897.995</text>
<text transform="translate(1489.60,1384.03) rotate(-90) scale(0.5340,1)" font-size="50" fill="#000" stroke="#fff" stroke-width="0.3">1844.707</text>
<text transform="translate(1358.00,1451.86) rotate(-90) scale(0.5429,1)" font-size="50" fill="#000" stroke="#fff" stroke-width="0.3">1773.367</text>
<text transform="translate(1453.50,1538.72) rotate(-90) scale(0.5322,1)" font-size="50" fill="#000" stroke="#fff" stroke-width="0.3">1752.404</text>
<text transform="translate(1243.80,1761.00) rotate(-90) scale(0.5263,1)" font-size="50" fill="#000" stroke="#fff" stroke-width="0.3">1606.391</text>
<text transform="translate(1450.20,1929.05) rotate(-90) scale(0.5385,1)" font-size="50" fill="#000" stroke="#fff" stroke-width="0.3">1476.339</text>
<text transform="translate(60.00,2000.74) rotate(-90) scale(0.5363,1)" font-size="50" fill="#000" stroke="#fff" stroke-width="0.3">1460.365</text>
<text transform="translate(1401.80,2062.73) rotate(-90) scale(0.5339,1)" font-size="50" fill="#000" stroke="#fff" stroke-width="0.3">1442.360</text>
<text transform="translate(1224.00,2203.63) rotate(-90) scale(0.5330,1)" font-size="50" fill="#000" stroke="#fff" stroke-width="0.3">1337.317</text>
<text transform="translate(980.70,2289.53) rotate(-90) scale(0.5330,1)" font-size="50" fill="#000" stroke="#fff" stroke-width="0.3">1298.347</text>
<text transform="translate(1491.20,2486.46) rotate(-90) scale(0.5432,1)" font-size="50" fill="#000" stroke="#fff" stroke-width="0.3">1175.295</text>
<text transform="translate(1357.60,2577.97) rotate(-90) scale(0.5455,1)" font-size="50" fill="#000" stroke="#fff" stroke-width="0.3">1136.322</text>
</g>
<g id="glycans">
<line x1="37.0" y1="1714.5" x2="183.5" y2="1716.2" stroke="#000" stroke-width="3.6"/>
<line x1="37.0" y1="1793.0" x2="183.5" y2="1794.6" stroke="#000" stroke-width="3.6"/>
<line x1="183.5" y1="1716.2" x2="261.0" y2="1756.0" stroke="#000" stroke-width="3.6"/>
<line x1="183.5" y1="1794.6" x2="261.0" y2="1756.0" stroke="#000" stroke-width="3.6"/>
<line x1="261.0" y1="1756.0" x2="336.0" y2="1756.0" stroke="#000" stroke-width="3.6"/>
<g transform="translate(37.0,1714.5)"><circle r="15.4" fill="#fff" stroke="#000" stroke-width="3.6"/><g clip-path="url(#cc)" stroke="#000" stroke-width="2.5"><line x1="-45.4" y1="22" x2="-1.3999999999999986" y2="-22"/><line x1="-45.4" y1="-22" x2="-1.3999999999999986" y2="22"/><line x1="-33.7" y1="22" x2="10.3" y2="-22"/><line x1="-33.7" y1="-22" x2="10.3" y2="22"/><line x1="-22" y1="22" x2="22" y2="-22"/><line x1="-22" y1="-22" x2="22" y2="22"/><line x1="-10.3" y1="22" x2="33.7" y2="-22"/><line x1="-10.3" y1="-22" x2="33.7" y2="22"/><line x1="1.3999999999999986" y1="22" x2="45.4" y2="-22"/><line x1="1.3999999999999986" y1="-22" x2="45.4" y2="22"/></g></g>
<g transform="translate(37.0,1793.0)"><circle r="15.4" fill="#fff" stroke="#000" stroke-width="3.6"/><g clip-path="url(#cc)" stroke="#000" stroke-width="2.5"><line x1="-45.4" y1="22" x2="-1.3999999999999986" y2="-22"/><line x1="-45.4" y1="-22" x2="-1.3999999999999986" y2="22"/><line x1="-33.7" y1="22" x2="10.3" y2="-22"/><line x1="-33.7" y1="-22" x2="10.3" y2="22"/><line x1="-22" y1="22" x2="22" y2="-22"/><line x1="-22" y1="-22" x2="22" y2="22"/><line x1="-10.3" y1="22" x2="33.7" y2="-22"/><line x1="-10.3" y1="-22" x2="33.7" y2="22"/><line x1="1.3999999999999986" y1="22" x2="45.4" y2="-22"/><line x1="1.3999999999999986" y1="-22" x2="45.4" y2="22"/></g></g>
<g shape-rendering="crispEdges"><rect x="94" y="1697" width="31" height="36" fill="#000"/><rect x="97.6" y="1700.6" width="23.8" height="28.8" fill="#fff"/><rect x="99" y="1699" width="2" height="32" fill="#000"/><rect x="103" y="1699" width="2" height="32" fill="#000"/><rect x="107" y="1699" width="2" height="32" fill="#000"/><rect x="111" y="1699" width="2" height="32" fill="#000"/><rect x="115" y="1699" width="2" height="32" fill="#000"/><rect x="119" y="1699" width="2" height="32" fill="#000"/><rect x="94" y="1697" width="31" height="36" fill="url(#wdots2)"/></g>
<g shape-rendering="crispEdges"><rect x="94" y="1777" width="31" height="36" fill="#000"/><rect x="97.6" y="1780.6" width="23.8" height="28.8" fill="#fff"/><rect x="99" y="1779" width="2" height="32" fill="#000"/><rect x="103" y="1779" width="2" height="32" fill="#000"/><rect x="107" y="1779" width="2" height="32" fill="#000"/><rect x="111" y="1779" width="2" height="32" fill="#000"/><rect x="115" y="1779" width="2" height="32" fill="#000"/><rect x="119" y="1779" width="2" height="32" fill="#000"/><rect x="94" y="1777" width="31" height="36" fill="url(#wdots2)"/></g>
<g transform="translate(183.6,1716.2)"><circle r="14.4" fill="#fff" stroke="#000" stroke-width="3.6"/><g clip-path="url(#cc)" stroke="#000" stroke-width="2.2"><line x1="-33.6" y1="20" x2="6.4" y2="-20"/><line x1="-20" y1="20" x2="20" y2="-20"/><line x1="-6.4" y1="20" x2="33.6" y2="-20"/></g></g>
<g transform="translate(183.6,1794.6)"><circle r="14.4" fill="#fff" stroke="#000" stroke-width="3.6"/><g clip-path="url(#cc)" stroke="#000" stroke-width="2.2"><line x1="-33.6" y1="20" x2="6.4" y2="-20"/><line x1="-20" y1="20" x2="20" y2="-20"/><line x1="-6.4" y1="20" x2="33.6" y2="-20"/></g></g>
<g transform="translate(261.0,1756.0)"><circle r="14.4" fill="#fff" stroke="#000" stroke-width="3.6"/><g clip-path="url(#cc)" stroke="#000" stroke-width="2.2"><line x1="-33.6" y1="20" x2="6.4" y2="-20"/><line x1="-20" y1="20" x2="20" y2="-20"/><line x1="-6.4" y1="20" x2="33.6" y2="-20"/></g></g>
<g shape-rendering="crispEdges"><rect x="321" y="1737" width="31" height="36" fill="#000"/><rect x="324.6" y="1740.6" width="23.8" height="28.8" fill="#fff"/><rect x="326" y="1739" width="2" height="32" fill="#000"/><rect x="330" y="1739" width="2" height="32" fill="#000"/><rect x="334" y="1739" width="2" height="32" fill="#000"/><rect x="338" y="1739" width="2" height="32" fill="#000"/><rect x="342" y="1739" width="2" height="32" fill="#000"/><rect x="346" y="1739" width="2" height="32" fill="#000"/><rect x="321" y="1737" width="31" height="36" fill="url(#wdots2)"/></g>
<line x1="187.5" y1="1926.0" x2="154.6" y2="1842.2" stroke="#000" stroke-width="3.8"/>
<path d="M146.3,1821.0 L169.3,1840.8 L142.9,1851.1Z" fill="url(#dots2)" stroke="#000" stroke-width="1"/>
<line x1="557.6" y1="2241.8" x2="613.0" y2="2241.8" stroke="#000" stroke-width="3.6"/>
<path d="M626.6,2186.4 Q620.3,2188.4 620.3,2198.4 L620.3,2233.8 Q620.3,2239.8 614.5,2241.8 Q620.3,2243.8 620.3,2249.8 L620.3,2288.0 Q620.3,2298.0 626.6,2300.0" fill="none" stroke="#000" stroke-width="3.5" stroke-linecap="butt" stroke-linejoin="miter"/>
<line x1="665.6" y1="2201.5" x2="739.5" y2="2201.5" stroke="#000" stroke-width="3.6"/>
<line x1="665.6" y1="2280.4" x2="739.5" y2="2280.4" stroke="#000" stroke-width="3.6"/>
<line x1="739.5" y1="2201.5" x2="817.0" y2="2241.6" stroke="#000" stroke-width="3.6"/>
<line x1="739.5" y1="2280.4" x2="817.0" y2="2241.6" stroke="#000" stroke-width="3.6"/>
<line x1="817.0" y1="2241.6" x2="893.0" y2="2241.6" stroke="#000" stroke-width="3.6"/>
<g transform="translate(557.9,2241.6)"><circle r="15.4" fill="#fff" stroke="#000" stroke-width="3.6"/><g clip-path="url(#cc)" stroke="#000" stroke-width="2.5"><line x1="-45.4" y1="22" x2="-1.3999999999999986" y2="-22"/><line x1="-45.4" y1="-22" x2="-1.3999999999999986" y2="22"/><line x1="-33.7" y1="22" x2="10.3" y2="-22"/><line x1="-33.7" y1="-22" x2="10.3" y2="22"/><line x1="-22" y1="22" x2="22" y2="-22"/><line x1="-22" y1="-22" x2="22" y2="22"/><line x1="-10.3" y1="22" x2="33.7" y2="-22"/><line x1="-10.3" y1="-22" x2="33.7" y2="22"/><line x1="1.3999999999999986" y1="22" x2="45.4" y2="-22"/><line x1="1.3999999999999986" y1="-22" x2="45.4" y2="22"/></g></g>
<g shape-rendering="crispEdges"><rect x="650" y="2183" width="31" height="36" fill="#000"/><rect x="653.6" y="2186.6" width="23.8" height="28.8" fill="#fff"/><rect x="655" y="2185" width="2" height="32" fill="#000"/><rect x="659" y="2185" width="2" height="32" fill="#000"/><rect x="663" y="2185" width="2" height="32" fill="#000"/><rect x="667" y="2185" width="2" height="32" fill="#000"/><rect x="671" y="2185" width="2" height="32" fill="#000"/><rect x="675" y="2185" width="2" height="32" fill="#000"/><rect x="650" y="2183" width="31" height="36" fill="url(#wdots2)"/></g>
<g shape-rendering="crispEdges"><rect x="650" y="2262" width="31" height="36" fill="#000"/><rect x="653.6" y="2265.6" width="23.8" height="28.8" fill="#fff"/><rect x="655" y="2264" width="2" height="32" fill="#000"/><rect x="659" y="2264" width="2" height="32" fill="#000"/><rect x="663" y="2264" width="2" height="32" fill="#000"/><rect x="667" y="2264" width="2" height="32" fill="#000"/><rect x="671" y="2264" width="2" height="32" fill="#000"/><rect x="675" y="2264" width="2" height="32" fill="#000"/><rect x="650" y="2262" width="31" height="36" fill="url(#wdots2)"/></g>
<g transform="translate(739.5,2201.5)"><circle r="14.4" fill="#fff" stroke="#000" stroke-width="3.6"/><g clip-path="url(#cc)" stroke="#000" stroke-width="2.2"><line x1="-33.6" y1="20" x2="6.4" y2="-20"/><line x1="-20" y1="20" x2="20" y2="-20"/><line x1="-6.4" y1="20" x2="33.6" y2="-20"/></g></g>
<g transform="translate(739.5,2280.4)"><circle r="14.4" fill="#fff" stroke="#000" stroke-width="3.6"/><g clip-path="url(#cc)" stroke="#000" stroke-width="2.2"><line x1="-33.6" y1="20" x2="6.4" y2="-20"/><line x1="-20" y1="20" x2="20" y2="-20"/><line x1="-6.4" y1="20" x2="33.6" y2="-20"/></g></g>
<g transform="translate(817.0,2241.6)"><circle r="14.4" fill="#fff" stroke="#000" stroke-width="3.6"/><g clip-path="url(#cc)" stroke="#000" stroke-width="2.2"><line x1="-33.6" y1="20" x2="6.4" y2="-20"/><line x1="-20" y1="20" x2="20" y2="-20"/><line x1="-6.4" y1="20" x2="33.6" y2="-20"/></g></g>
<g shape-rendering="crispEdges"><rect x="878" y="2222" width="31" height="36" fill="#000"/><rect x="881.6" y="2225.6" width="23.8" height="28.8" fill="#fff"/><rect x="883" y="2224" width="2" height="32" fill="#000"/><rect x="887" y="2224" width="2" height="32" fill="#000"/><rect x="891" y="2224" width="2" height="32" fill="#000"/><rect x="895" y="2224" width="2" height="32" fill="#000"/><rect x="899" y="2224" width="2" height="32" fill="#000"/><rect x="903" y="2224" width="2" height="32" fill="#000"/><rect x="878" y="2222" width="31" height="36" fill="url(#wdots2)"/></g>
<line x1="1025.5" y1="2483.4" x2="1100.0" y2="2483.4" stroke="#000" stroke-width="3.6"/>
<line x1="1025.5" y1="2562.2" x2="1100.0" y2="2562.2" stroke="#000" stroke-width="3.6"/>
<line x1="1100.0" y1="2483.4" x2="1177.4" y2="2523.7" stroke="#000" stroke-width="3.6"/>
<line x1="1100.0" y1="2562.2" x2="1177.4" y2="2523.7" stroke="#000" stroke-width="3.6"/>
<line x1="1177.4" y1="2523.7" x2="1253.0" y2="2523.7" stroke="#000" stroke-width="3.6"/>
<g shape-rendering="crispEdges"><rect x="1010" y="2465" width="31" height="36" fill="#000"/><rect x="1013.6" y="2468.6" width="23.8" height="28.8" fill="#fff"/><rect x="1015" y="2467" width="2" height="32" fill="#000"/><rect x="1019" y="2467" width="2" height="32" fill="#000"/><rect x="1023" y="2467" width="2" height="32" fill="#000"/><rect x="1027" y="2467" width="2" height="32" fill="#000"/><rect x="1031" y="2467" width="2" height="32" fill="#000"/><rect x="1035" y="2467" width="2" height="32" fill="#000"/><rect x="1010" y="2465" width="31" height="36" fill="url(#wdots2)"/></g>
<g shape-rendering="crispEdges"><rect x="1010" y="2544" width="31" height="36" fill="#000"/><rect x="1013.6" y="2547.6" width="23.8" height="28.8" fill="#fff"/><rect x="1015" y="2546" width="2" height="32" fill="#000"/><rect x="1019" y="2546" width="2" height="32" fill="#000"/><rect x="1023" y="2546" width="2" height="32" fill="#000"/><rect x="1027" y="2546" width="2" height="32" fill="#000"/><rect x="1031" y="2546" width="2" height="32" fill="#000"/><rect x="1035" y="2546" width="2" height="32" fill="#000"/><rect x="1010" y="2544" width="31" height="36" fill="url(#wdots2)"/></g>
<g transform="translate(1100.1,2483.4)"><circle r="14.4" fill="#fff" stroke="#000" stroke-width="3.6"/><g clip-path="url(#cc)" stroke="#000" stroke-width="2.2"><line x1="-33.6" y1="20" x2="6.4" y2="-20"/><line x1="-20" y1="20" x2="20" y2="-20"/><line x1="-6.4" y1="20" x2="33.6" y2="-20"/></g></g>
<g transform="translate(1100.1,2562.2)"><circle r="14.4" fill="#fff" stroke="#000" stroke-width="3.6"/><g clip-path="url(#cc)" stroke="#000" stroke-width="2.2"><line x1="-33.6" y1="20" x2="6.4" y2="-20"/><line x1="-20" y1="20" x2="20" y2="-20"/><line x1="-6.4" y1="20" x2="33.6" y2="-20"/></g></g>
<g transform="translate(1177.4,2523.7)"><circle r="14.4" fill="#fff" stroke="#000" stroke-width="3.6"/><g clip-path="url(#cc)" stroke="#000" stroke-width="2.2"><line x1="-33.6" y1="20" x2="6.4" y2="-20"/><line x1="-20" y1="20" x2="20" y2="-20"/><line x1="-6.4" y1="20" x2="33.6" y2="-20"/></g></g>
<g shape-rendering="crispEdges"><rect x="1238" y="2504" width="31" height="36" fill="#000"/><rect x="1241.6" y="2507.6" width="23.8" height="28.8" fill="#fff"/><rect x="1243" y="2506" width="2" height="32" fill="#000"/><rect x="1247" y="2506" width="2" height="32" fill="#000"/><rect x="1251" y="2506" width="2" height="32" fill="#000"/><rect x="1255" y="2506" width="2" height="32" fill="#000"/><rect x="1259" y="2506" width="2" height="32" fill="#000"/><rect x="1263" y="2506" width="2" height="32" fill="#000"/><rect x="1238" y="2504" width="31" height="36" fill="url(#wdots2)"/></g>
<line x1="865.2" y1="1664.5" x2="1011.3" y2="1665.3" stroke="#000" stroke-width="3.6"/>
<line x1="865.2" y1="1742.8" x2="1011.3" y2="1744.0" stroke="#000" stroke-width="3.6"/>
<line x1="1011.3" y1="1665.3" x2="1088.7" y2="1705.6" stroke="#000" stroke-width="3.6"/>
<line x1="1011.3" y1="1744.0" x2="1088.7" y2="1705.6" stroke="#000" stroke-width="3.6"/>
<line x1="1088.7" y1="1705.6" x2="1164.6" y2="1705.6" stroke="#000" stroke-width="3.6"/>
<line x1="937.4" y1="1604.0" x2="937.4" y2="1650.0" stroke="#000" stroke-width="3.6"/>
<g transform="translate(865.2,1664.3)"><circle r="15.4" fill="#fff" stroke="#000" stroke-width="3.6"/><g clip-path="url(#cc)" stroke="#000" stroke-width="2.5"><line x1="-45.4" y1="22" x2="-1.3999999999999986" y2="-22"/><line x1="-45.4" y1="-22" x2="-1.3999999999999986" y2="22"/><line x1="-33.7" y1="22" x2="10.3" y2="-22"/><line x1="-33.7" y1="-22" x2="10.3" y2="22"/><line x1="-22" y1="22" x2="22" y2="-22"/><line x1="-22" y1="-22" x2="22" y2="22"/><line x1="-10.3" y1="22" x2="33.7" y2="-22"/><line x1="-10.3" y1="-22" x2="33.7" y2="22"/><line x1="1.3999999999999986" y1="22" x2="45.4" y2="-22"/><line x1="1.3999999999999986" y1="-22" x2="45.4" y2="22"/></g></g>
<g transform="translate(865.2,1742.6)"><circle r="15.4" fill="#fff" stroke="#000" stroke-width="3.6"/><g clip-path="url(#cc)" stroke="#000" stroke-width="2.5"><line x1="-45.4" y1="22" x2="-1.3999999999999986" y2="-22"/><line x1="-45.4" y1="-22" x2="-1.3999999999999986" y2="22"/><line x1="-33.7" y1="22" x2="10.3" y2="-22"/><line x1="-33.7" y1="-22" x2="10.3" y2="22"/><line x1="-22" y1="22" x2="22" y2="-22"/><line x1="-22" y1="-22" x2="22" y2="22"/><line x1="-10.3" y1="22" x2="33.7" y2="-22"/><line x1="-10.3" y1="-22" x2="33.7" y2="22"/><line x1="1.3999999999999986" y1="22" x2="45.4" y2="-22"/><line x1="1.3999999999999986" y1="-22" x2="45.4" y2="22"/></g></g>
<g shape-rendering="crispEdges"><rect x="921" y="1647" width="31" height="36" fill="#000"/><rect x="924.6" y="1650.6" width="23.8" height="28.8" fill="#fff"/><rect x="926" y="1649" width="2" height="32" fill="#000"/><rect x="930" y="1649" width="2" height="32" fill="#000"/><rect x="934" y="1649" width="2" height="32" fill="#000"/><rect x="938" y="1649" width="2" height="32" fill="#000"/><rect x="942" y="1649" width="2" height="32" fill="#000"/><rect x="946" y="1649" width="2" height="32" fill="#000"/><rect x="921" y="1647" width="31" height="36" fill="url(#wdots2)"/></g>
<g shape-rendering="crispEdges"><rect x="921" y="1726" width="31" height="36" fill="#000"/><rect x="924.6" y="1729.6" width="23.8" height="28.8" fill="#fff"/><rect x="926" y="1728" width="2" height="32" fill="#000"/><rect x="930" y="1728" width="2" height="32" fill="#000"/><rect x="934" y="1728" width="2" height="32" fill="#000"/><rect x="938" y="1728" width="2" height="32" fill="#000"/><rect x="942" y="1728" width="2" height="32" fill="#000"/><rect x="946" y="1728" width="2" height="32" fill="#000"/><rect x="921" y="1726" width="31" height="36" fill="url(#wdots2)"/></g>
<g><path d="M919.5,1578.2 L955.5,1578.2 L937.5,1611.7Z" fill="#000"/><path d="M926.1,1583.2 L948.9,1583.2 L937.5,1604.4Z" fill="#fff"/><rect x="926.7" y="1586.8" width="21.7" height="2" fill="#000"/><rect x="930.0" y="1593.0" width="15.0" height="2" fill="#000"/><rect x="933.1" y="1598.8" width="8.8" height="2" fill="#000"/></g>
<g transform="translate(1011.3,1665.3)"><circle r="14.4" fill="#fff" stroke="#000" stroke-width="3.6"/><g clip-path="url(#cc)" stroke="#000" stroke-width="2.2"><line x1="-33.6" y1="20" x2="6.4" y2="-20"/><line x1="-20" y1="20" x2="20" y2="-20"/><line x1="-6.4" y1="20" x2="33.6" y2="-20"/></g></g>
<g transform="translate(1011.3,1744.0)"><circle r="14.4" fill="#fff" stroke="#000" stroke-width="3.6"/><g clip-path="url(#cc)" stroke="#000" stroke-width="2.2"><line x1="-33.6" y1="20" x2="6.4" y2="-20"/><line x1="-20" y1="20" x2="20" y2="-20"/><line x1="-6.4" y1="20" x2="33.6" y2="-20"/></g></g>
<g transform="translate(1088.7,1705.6)"><circle r="14.4" fill="#fff" stroke="#000" stroke-width="3.6"/><g clip-path="url(#cc)" stroke="#000" stroke-width="2.2"><line x1="-33.6" y1="20" x2="6.4" y2="-20"/><line x1="-20" y1="20" x2="20" y2="-20"/><line x1="-6.4" y1="20" x2="33.6" y2="-20"/></g></g>
<g shape-rendering="crispEdges"><rect x="1149" y="1687" width="31" height="36" fill="#000"/><rect x="1152.6" y="1690.6" width="23.8" height="28.8" fill="#fff"/><rect x="1154" y="1689" width="2" height="32" fill="#000"/><rect x="1158" y="1689" width="2" height="32" fill="#000"/><rect x="1162" y="1689" width="2" height="32" fill="#000"/><rect x="1166" y="1689" width="2" height="32" fill="#000"/><rect x="1170" y="1689" width="2" height="32" fill="#000"/><rect x="1174" y="1689" width="2" height="32" fill="#000"/><rect x="1149" y="1687" width="31" height="36" fill="url(#wdots2)"/></g>
<line x1="673.0" y1="1347.5" x2="820.0" y2="1348.6" stroke="#000" stroke-width="3.6"/>
<line x1="673.0" y1="1501.2" x2="820.0" y2="1502.3" stroke="#000" stroke-width="3.6"/>
<line x1="820.1" y1="1348.6" x2="897.4" y2="1426.8" stroke="#000" stroke-width="3.6"/>
<line x1="820.1" y1="1502.3" x2="897.4" y2="1426.8" stroke="#000" stroke-width="3.6"/>
<line x1="897.4" y1="1426.8" x2="974.0" y2="1426.8" stroke="#000" stroke-width="3.6"/>
<line x1="745.2" y1="1288.0" x2="745.2" y2="1332.0" stroke="#000" stroke-width="3.6"/>
<line x1="745.2" y1="1442.0" x2="745.2" y2="1486.0" stroke="#000" stroke-width="3.6"/>
<g transform="translate(673.0,1347.0)"><circle r="15.4" fill="#fff" stroke="#000" stroke-width="3.6"/><g clip-path="url(#cc)" stroke="#000" stroke-width="2.5"><line x1="-45.4" y1="22" x2="-1.3999999999999986" y2="-22"/><line x1="-45.4" y1="-22" x2="-1.3999999999999986" y2="22"/><line x1="-33.7" y1="22" x2="10.3" y2="-22"/><line x1="-33.7" y1="-22" x2="10.3" y2="22"/><line x1="-22" y1="22" x2="22" y2="-22"/><line x1="-22" y1="-22" x2="22" y2="22"/><line x1="-10.3" y1="22" x2="33.7" y2="-22"/><line x1="-10.3" y1="-22" x2="33.7" y2="22"/><line x1="1.3999999999999986" y1="22" x2="45.4" y2="-22"/><line x1="1.3999999999999986" y1="-22" x2="45.4" y2="22"/></g></g>
<g transform="translate(673.0,1501.0)"><circle r="15.4" fill="#fff" stroke="#000" stroke-width="3.6"/><g clip-path="url(#cc)" stroke="#000" stroke-width="2.5"><line x1="-45.4" y1="22" x2="-1.3999999999999986" y2="-22"/><line x1="-45.4" y1="-22" x2="-1.3999999999999986" y2="22"/><line x1="-33.7" y1="22" x2="10.3" y2="-22"/><line x1="-33.7" y1="-22" x2="10.3" y2="22"/><line x1="-22" y1="22" x2="22" y2="-22"/><line x1="-22" y1="-22" x2="22" y2="22"/><line x1="-10.3" y1="22" x2="33.7" y2="-22"/><line x1="-10.3" y1="-22" x2="33.7" y2="22"/><line x1="1.3999999999999986" y1="22" x2="45.4" y2="-22"/><line x1="1.3999999999999986" y1="-22" x2="45.4" y2="22"/></g></g>
<g shape-rendering="crispEdges"><rect x="730" y="1330" width="31" height="36" fill="#000"/><rect x="733.6" y="1333.6" width="23.8" height="28.8" fill="#fff"/><rect x="735" y="1332" width="2" height="32" fill="#000"/><rect x="739" y="1332" width="2" height="32" fill="#000"/><rect x="743" y="1332" width="2" height="32" fill="#000"/><rect x="747" y="1332" width="2" height="32" fill="#000"/><rect x="751" y="1332" width="2" height="32" fill="#000"/><rect x="755" y="1332" width="2" height="32" fill="#000"/><rect x="730" y="1330" width="31" height="36" fill="url(#wdots2)"/></g>
<g shape-rendering="crispEdges"><rect x="730" y="1484" width="31" height="36" fill="#000"/><rect x="733.6" y="1487.6" width="23.8" height="28.8" fill="#fff"/><rect x="735" y="1486" width="2" height="32" fill="#000"/><rect x="739" y="1486" width="2" height="32" fill="#000"/><rect x="743" y="1486" width="2" height="32" fill="#000"/><rect x="747" y="1486" width="2" height="32" fill="#000"/><rect x="751" y="1486" width="2" height="32" fill="#000"/><rect x="755" y="1486" width="2" height="32" fill="#000"/><rect x="730" y="1484" width="31" height="36" fill="url(#wdots2)"/></g>
<g><path d="M727.1,1261.0 L763.1,1261.0 L745.1,1294.5Z" fill="#000"/><path d="M733.7,1266.0 L756.5,1266.0 L745.1,1287.2Z" fill="#fff"/><rect x="734.3" y="1269.6" width="21.7" height="2" fill="#000"/><rect x="737.6" y="1275.8" width="15.0" height="2" fill="#000"/><rect x="740.7" y="1281.6" width="8.8" height="2" fill="#000"/></g>
<g><path d="M727.1,1415.3 L763.1,1415.3 L745.1,1448.8Z" fill="#000"/><path d="M733.7,1420.3 L756.5,1420.3 L745.1,1441.5Z" fill="#fff"/><rect x="734.3" y="1423.9" width="21.7" height="2" fill="#000"/><rect x="737.6" y="1430.1" width="15.0" height="2" fill="#000"/><rect x="740.7" y="1435.9" width="8.8" height="2" fill="#000"/></g>
<g transform="translate(820.1,1348.6)"><circle r="14.4" fill="#fff" stroke="#000" stroke-width="3.6"/><g clip-path="url(#cc)" stroke="#000" stroke-width="2.2"><line x1="-33.6" y1="20" x2="6.4" y2="-20"/><line x1="-20" y1="20" x2="20" y2="-20"/><line x1="-6.4" y1="20" x2="33.6" y2="-20"/></g></g>
<g transform="translate(820.1,1502.3)"><circle r="14.4" fill="#fff" stroke="#000" stroke-width="3.6"/><g clip-path="url(#cc)" stroke="#000" stroke-width="2.2"><line x1="-33.6" y1="20" x2="6.4" y2="-20"/><line x1="-20" y1="20" x2="20" y2="-20"/><line x1="-6.4" y1="20" x2="33.6" y2="-20"/></g></g>
<g transform="translate(897.4,1426.8)"><circle r="14.4" fill="#fff" stroke="#000" stroke-width="3.6"/><g clip-path="url(#cc)" stroke="#000" stroke-width="2.2"><line x1="-33.6" y1="20" x2="6.4" y2="-20"/><line x1="-20" y1="20" x2="20" y2="-20"/><line x1="-6.4" y1="20" x2="33.6" y2="-20"/></g></g>
<g shape-rendering="crispEdges"><rect x="958" y="1406" width="31" height="36" fill="#000"/><rect x="961.6" y="1409.6" width="23.8" height="28.8" fill="#fff"/><rect x="963" y="1408" width="2" height="32" fill="#000"/><rect x="967" y="1408" width="2" height="32" fill="#000"/><rect x="971" y="1408" width="2" height="32" fill="#000"/><rect x="975" y="1408" width="2" height="32" fill="#000"/><rect x="979" y="1408" width="2" height="32" fill="#000"/><rect x="983" y="1408" width="2" height="32" fill="#000"/><rect x="958" y="1406" width="31" height="36" fill="url(#wdots2)"/></g>
<line x1="1394.3" y1="1496.3" x2="1046.9" y2="1434.6" stroke="#000" stroke-width="3.8"/>
<path d="M1024.5,1430.6 L1053.4,1421.3 L1048.4,1449.3Z" fill="url(#dots2)" stroke="#000" stroke-width="1"/>
<line x1="914.0" y1="1225.9" x2="957.8" y2="1225.9" stroke="#000" stroke-width="3.6"/>
<path d="M976.6,1169.0 Q970.3,1171.0 970.3,1181.0 L970.3,1217.9 Q970.3,1223.9 963.2,1225.9 Q970.3,1227.9 970.3,1233.9 L970.3,1271.2 Q970.3,1281.2 976.6,1283.2" fill="none" stroke="#000" stroke-width="3.5" stroke-linecap="butt" stroke-linejoin="miter"/>
<line x1="1008.2" y1="1191.0" x2="1153.8" y2="1192.0" stroke="#000" stroke-width="3.6"/>
<line x1="1008.2" y1="1269.5" x2="1153.8" y2="1270.8" stroke="#000" stroke-width="3.6"/>
<line x1="1153.8" y1="1192.0" x2="1230.6" y2="1232.4" stroke="#000" stroke-width="3.6"/>
<line x1="1153.8" y1="1270.8" x2="1230.6" y2="1232.4" stroke="#000" stroke-width="3.6"/>
<line x1="1230.6" y1="1232.4" x2="1307.5" y2="1232.4" stroke="#000" stroke-width="3.6"/>
<g><path d="M881.5,1225.4 L897.3,1209.5 L913.6,1225.7 L897.3,1242.5Z" fill="#fff" stroke="#000" stroke-width="3.2"/><rect x="896.3" y="1221.7" width="2.2" height="2.2" fill="#000"/><rect x="905.1" y="1225.2" width="2" height="1.6" fill="#000"/><rect x="896.1" y="1234.1" width="2.2" height="1.8" fill="#000"/></g>
<g transform="translate(1008.2,1191.0)"><circle r="15.4" fill="#fff" stroke="#000" stroke-width="3.6"/><g clip-path="url(#cc)" stroke="#000" stroke-width="2.5"><line x1="-45.4" y1="22" x2="-1.3999999999999986" y2="-22"/><line x1="-45.4" y1="-22" x2="-1.3999999999999986" y2="22"/><line x1="-33.7" y1="22" x2="10.3" y2="-22"/><line x1="-33.7" y1="-22" x2="10.3" y2="22"/><line x1="-22" y1="22" x2="22" y2="-22"/><line x1="-22" y1="-22" x2="22" y2="22"/><line x1="-10.3" y1="22" x2="33.7" y2="-22"/><line x1="-10.3" y1="-22" x2="33.7" y2="22"/><line x1="1.3999999999999986" y1="22" x2="45.4" y2="-22"/><line x1="1.3999999999999986" y1="-22" x2="45.4" y2="22"/></g></g>
<g transform="translate(1008.2,1269.5)"><circle r="15.4" fill="#fff" stroke="#000" stroke-width="3.6"/><g clip-path="url(#cc)" stroke="#000" stroke-width="2.5"><line x1="-45.4" y1="22" x2="-1.3999999999999986" y2="-22"/><line x1="-45.4" y1="-22" x2="-1.3999999999999986" y2="22"/><line x1="-33.7" y1="22" x2="10.3" y2="-22"/><line x1="-33.7" y1="-22" x2="10.3" y2="22"/><line x1="-22" y1="22" x2="22" y2="-22"/><line x1="-22" y1="-22" x2="22" y2="22"/><line x1="-10.3" y1="22" x2="33.7" y2="-22"/><line x1="-10.3" y1="-22" x2="33.7" y2="22"/><line x1="1.3999999999999986" y1="22" x2="45.4" y2="-22"/><line x1="1.3999999999999986" y1="-22" x2="45.4" y2="22"/></g></g>
<g shape-rendering="crispEdges"><rect x="1064" y="1175" width="31" height="36" fill="#000"/><rect x="1067.6" y="1178.6" width="23.8" height="28.8" fill="#fff"/><rect x="1069" y="1177" width="2" height="32" fill="#000"/><rect x="1073" y="1177" width="2" height="32" fill="#000"/><rect x="1077" y="1177" width="2" height="32" fill="#000"/><rect x="1081" y="1177" width="2" height="32" fill="#000"/><rect x="1085" y="1177" width="2" height="32" fill="#000"/><rect x="1089" y="1177" width="2" height="32" fill="#000"/><rect x="1064" y="1175" width="31" height="36" fill="url(#wdots2)"/></g>
<g shape-rendering="crispEdges"><rect x="1064" y="1254" width="31" height="36" fill="#000"/><rect x="1067.6" y="1257.6" width="23.8" height="28.8" fill="#fff"/><rect x="1069" y="1256" width="2" height="32" fill="#000"/><rect x="1073" y="1256" width="2" height="32" fill="#000"/><rect x="1077" y="1256" width="2" height="32" fill="#000"/><rect x="1081" y="1256" width="2" height="32" fill="#000"/><rect x="1085" y="1256" width="2" height="32" fill="#000"/><rect x="1089" y="1256" width="2" height="32" fill="#000"/><rect x="1064" y="1254" width="31" height="36" fill="url(#wdots2)"/></g>
<g transform="translate(1153.8,1192.0)"><circle r="14.4" fill="#fff" stroke="#000" stroke-width="3.6"/><g clip-path="url(#cc)" stroke="#000" stroke-width="2.2"><line x1="-33.6" y1="20" x2="6.4" y2="-20"/><line x1="-20" y1="20" x2="20" y2="-20"/><line x1="-6.4" y1="20" x2="33.6" y2="-20"/></g></g>
<g transform="translate(1153.8,1270.8)"><circle r="14.4" fill="#fff" stroke="#000" stroke-width="3.6"/><g clip-path="url(#cc)" stroke="#000" stroke-width="2.2"><line x1="-33.6" y1="20" x2="6.4" y2="-20"/><line x1="-20" y1="20" x2="20" y2="-20"/><line x1="-6.4" y1="20" x2="33.6" y2="-20"/></g></g>
<g transform="translate(1230.6,1232.4)"><circle r="14.4" fill="#fff" stroke="#000" stroke-width="3.6"/><g clip-path="url(#cc)" stroke="#000" stroke-width="2.2"><line x1="-33.6" y1="20" x2="6.4" y2="-20"/><line x1="-20" y1="20" x2="20" y2="-20"/><line x1="-6.4" y1="20" x2="33.6" y2="-20"/></g></g>
<g shape-rendering="crispEdges"><rect x="1292" y="1213" width="31" height="36" fill="#000"/><rect x="1295.6" y="1216.6" width="23.8" height="28.8" fill="#fff"/><rect x="1297" y="1215" width="2" height="32" fill="#000"/><rect x="1301" y="1215" width="2" height="32" fill="#000"/><rect x="1305" y="1215" width="2" height="32" fill="#000"/><rect x="1309" y="1215" width="2" height="32" fill="#000"/><rect x="1313" y="1215" width="2" height="32" fill="#000"/><rect x="1317" y="1215" width="2" height="32" fill="#000"/><rect x="1292" y="1213" width="31" height="36" fill="url(#wdots2)"/></g>
<line x1="1300.7" y1="1424.1" x2="1199.7" y2="1332.6" stroke="#000" stroke-width="3.8"/>
<path d="M1182.8,1317.3 L1212.2,1324.8 L1193.1,1345.8Z" fill="url(#dots2)" stroke="#000" stroke-width="1"/>
</g>
<g id="titles">
<text transform="translate(803.80,3006.75) rotate(-90) scale(0.8366,1)" font-size="60.5" fill="#000" stroke="#fff" stroke-width="0.9">Relative</text>
<text transform="translate(867.00,3014.40) rotate(-90) scale(0.8624,1)" font-size="60.5" fill="#000" stroke="#fff" stroke-width="0.9">Intensity</text>
<text transform="translate(1738.10,1546.08) rotate(-90) scale(0.8422,1)" font-size="60.5" fill="#000" stroke="#fff" stroke-width="0.9">Mass/Charge</text>
<text transform="translate(1801.00,2791.38) rotate(-90) scale(0.9544,1)" font-size="104.5" font-weight="bold" fill="#000">FIG. 5B</text>
<rect x="1724" y="2440" width="82" height="350" fill="url(#wdots)"/>
</g>
</svg>
</body></html>
